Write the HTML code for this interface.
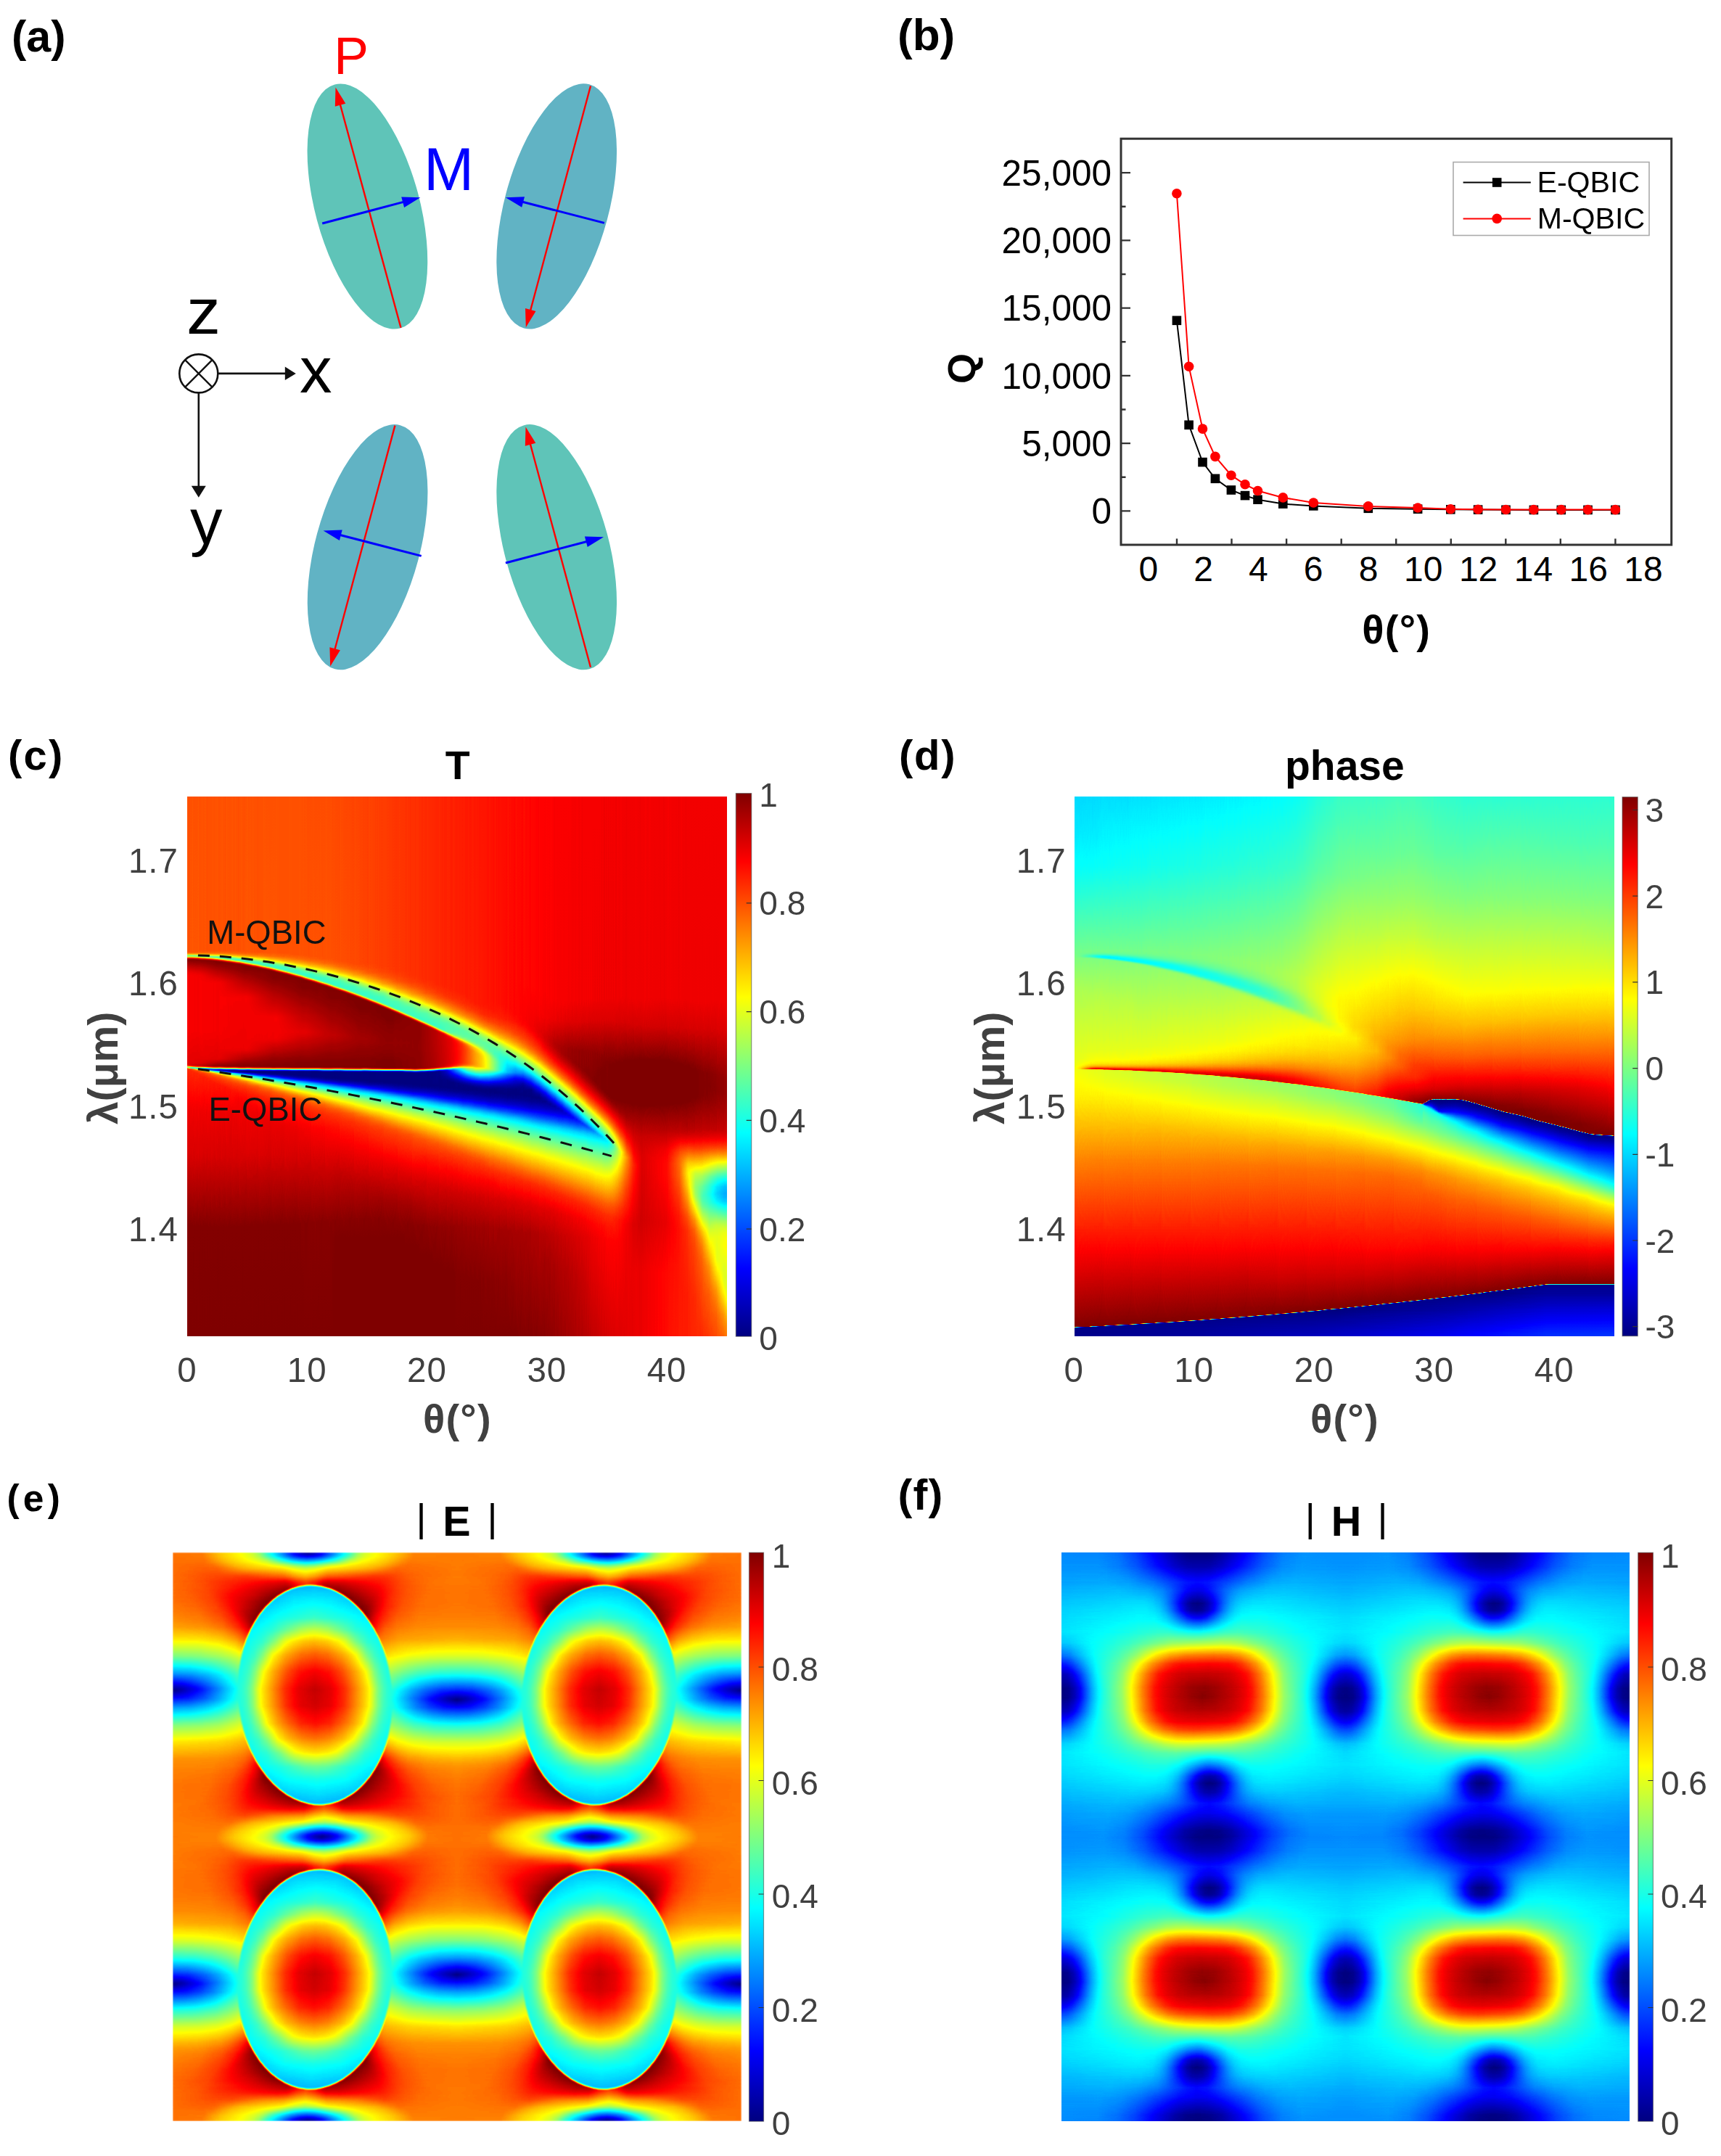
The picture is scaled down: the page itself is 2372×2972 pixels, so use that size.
<!DOCTYPE html><html><head><meta charset="utf-8"><title>Figure</title><style>html,body{margin:0;padding:0;background:#fff}svg{display:block}text{font-family:"Liberation Sans",Arial,sans-serif}</style></head><body><svg width="2372" height="2972" viewBox="0 0 2372 2972"><defs><linearGradient id="jet" x1="0" y1="1" x2="0" y2="0"><stop offset="0" stop-color="#000080"/><stop offset="0.125" stop-color="#0000ff"/><stop offset="0.375" stop-color="#00ffff"/><stop offset="0.625" stop-color="#ffff00"/><stop offset="0.875" stop-color="#ff0000"/><stop offset="1" stop-color="#800000"/></linearGradient><filter id="jf" x="0" y="0" width="1" height="1" filterUnits="objectBoundingBox" color-interpolation-filters="sRGB"><feGaussianBlur stdDeviation="0 %s"/><feComponentTransfer><feFuncR type="table" tableValues="0 0 0 0 .5 1 1 1 .5"/><feFuncG type="table" tableValues="0 0 .5 1 1 1 .5 0 0"/><feFuncB type="table" tableValues=".5 1 1 1 .5 0 0 0 0"/></feComponentTransfer></filter>
<filter id="jf" x="0" y="0" width="1" height="1" color-interpolation-filters="sRGB"><feComponentTransfer><feFuncR type="table" tableValues="0 0 0 0 .5 1 1 1 .5"/><feFuncG type="table" tableValues="0 0 .5 1 1 1 .5 0 0"/><feFuncB type="table" tableValues=".5 1 1 1 .5 0 0 0 0"/></feComponentTransfer></filter>
<filter id="jfb" x="0" y="0" width="1" height="1" color-interpolation-filters="sRGB"><feGaussianBlur stdDeviation=".9"/><feComponentTransfer><feFuncR type="table" tableValues="0 0 0 0 .5 1 1 1 .5"/><feFuncG type="table" tableValues="0 0 .5 1 1 1 .5 0 0"/><feFuncB type="table" tableValues=".5 1 1 1 .5 0 0 0 0"/></feComponentTransfer></filter>
<linearGradient id="vr" x2="0" y2="1"><stop offset="0" stop-color="#fff" stop-opacity="0"/><stop offset="1" stop-color="#fff"/></linearGradient><linearGradient id="vc"><stop offset="0" stop-color="#fff" stop-opacity="0"/><stop offset="1" stop-color="#fff"/></linearGradient><mask id="mkr" maskContentUnits="objectBoundingBox" x="0" y="0" width="1" height="1"><rect width="1" height="1" fill="url(#vr)"/></mask><mask id="mkc" maskContentUnits="objectBoundingBox" x="0" y="0" width="1" height="1"><rect width="1" height="1" fill="url(#vc)"/></mask>
<linearGradient id="eo0"><stop offset="0" stop-color="#c3c3c3"/><stop offset=".102" stop-color="#c1c1c1"/><stop offset=".168" stop-color="#adadad"/><stop offset=".25" stop-color="#9c9c9c"/><stop offset=".286" stop-color="#909090"/><stop offset=".304" stop-color="#858585"/><stop offset=".329" stop-color="#6e6e6e"/><stop offset=".375" stop-color="#494949"/><stop offset=".416" stop-color="#242424"/><stop offset=".449" stop-color="#0e0e0e"/><stop offset=".477" stop-color="#000000"/><stop offset=".505" stop-color="#0f0f0f"/><stop offset=".533" stop-color="#222222"/><stop offset=".579" stop-color="#4a4a4a"/><stop offset=".625" stop-color="#6f6f6f"/><stop offset=".653" stop-color="#888888"/><stop offset=".676" stop-color="#949494"/><stop offset=".709" stop-color="#9e9e9e"/><stop offset=".781" stop-color="#acacac"/><stop offset=".849" stop-color="#bfbfbf"/><stop offset="1" stop-color="#c1c1c1"/></linearGradient><linearGradient id="eo1"><stop offset="0" stop-color="#c3c3c3"/><stop offset=".105" stop-color="#c1c1c1"/><stop offset=".173" stop-color="#adadad"/><stop offset=".25" stop-color="#9e9e9e"/><stop offset=".283" stop-color="#959595"/><stop offset=".306" stop-color="#898989"/><stop offset=".339" stop-color="#6c6c6c"/><stop offset=".426" stop-color="#2a2a2a"/><stop offset=".452" stop-color="#1e1e1e"/><stop offset=".474" stop-color="#191919"/><stop offset=".497" stop-color="#1d1d1d"/><stop offset=".523" stop-color="#282828"/><stop offset=".615" stop-color="#6d6d6d"/><stop offset=".651" stop-color="#8c8c8c"/><stop offset=".679" stop-color="#989898"/><stop offset=".776" stop-color="#adadad"/><stop offset=".847" stop-color="#bfbfbf"/><stop offset="1" stop-color="#c0c0c0"/></linearGradient><linearGradient id="eo2"><stop offset="0" stop-color="#c3c3c3"/><stop offset=".115" stop-color="#c3c3c3"/><stop offset=".194" stop-color="#aeaeae"/><stop offset=".298" stop-color="#9b9b9b"/><stop offset=".334" stop-color="#8f8f8f"/><stop offset=".38" stop-color="#707070"/><stop offset=".418" stop-color="#5b5b5b"/><stop offset=".446" stop-color="#515151"/><stop offset=".469" stop-color="#4d4d4d"/><stop offset=".495" stop-color="#505050"/><stop offset=".52" stop-color="#585858"/><stop offset=".574" stop-color="#717171"/><stop offset=".622" stop-color="#919191"/><stop offset=".668" stop-color="#9f9f9f"/><stop offset=".753" stop-color="#aeaeae"/><stop offset=".809" stop-color="#bcbcbc"/><stop offset=".834" stop-color="#c1c1c1"/><stop offset="1" stop-color="#c0c0c0"/></linearGradient><linearGradient id="eo3"><stop offset="0" stop-color="#c4c4c4"/><stop offset=".102" stop-color="#c6c6c6"/><stop offset=".143" stop-color="#c4c4c4"/><stop offset=".222" stop-color="#b1b1b1"/><stop offset=".327" stop-color="#a3a3a3"/><stop offset=".38" stop-color="#989898"/><stop offset=".434" stop-color="#838383"/><stop offset=".467" stop-color="#7b7b7b"/><stop offset=".5" stop-color="#808080"/><stop offset=".546" stop-color="#939393"/><stop offset=".579" stop-color="#9b9b9b"/><stop offset=".63" stop-color="#a5a5a5"/><stop offset=".727" stop-color="#b1b1b1"/><stop offset=".801" stop-color="#c2c2c2"/><stop offset=".821" stop-color="#c4c4c4"/><stop offset="1" stop-color="#c0c0c0"/></linearGradient><linearGradient id="eo4"><stop offset="0" stop-color="#c4c4c4"/><stop offset=".112" stop-color="#c8c8c8"/><stop offset=".158" stop-color="#c7c7c7"/><stop offset=".253" stop-color="#b3b3b3"/><stop offset=".385" stop-color="#a6a6a6"/><stop offset=".431" stop-color="#999999"/><stop offset=".467" stop-color="#939393"/><stop offset=".5" stop-color="#989898"/><stop offset=".546" stop-color="#a5a5a5"/><stop offset=".696" stop-color="#b4b4b4"/><stop offset=".786" stop-color="#c6c6c6"/><stop offset="1" stop-color="#c1c1c1"/></linearGradient><linearGradient id="eo5"><stop offset="0" stop-color="#c4c4c4"/><stop offset=".151" stop-color="#cecece"/><stop offset=".26" stop-color="#d1d1d1"/><stop offset=".393" stop-color="#c6c6c6"/><stop offset=".436" stop-color="#b8b8b8"/><stop offset=".467" stop-color="#b2b2b2"/><stop offset=".5" stop-color="#b9b9b9"/><stop offset=".543" stop-color="#c8c8c8"/><stop offset=".707" stop-color="#d3d3d3"/><stop offset=".755" stop-color="#d2d2d2"/><stop offset=".824" stop-color="#c8c8c8"/><stop offset=".872" stop-color="#c5c5c5"/><stop offset="1" stop-color="#c1c1c1"/></linearGradient><linearGradient id="eo6"><stop offset="0" stop-color="#c4c4c4"/><stop offset=".074" stop-color="#c9c9c9"/><stop offset=".166" stop-color="#d3d3d3"/><stop offset=".395" stop-color="#e7e7e7"/><stop offset=".408" stop-color="#e4e4e4"/><stop offset=".439" stop-color="#d7d7d7"/><stop offset=".469" stop-color="#cfcfcf"/><stop offset=".5" stop-color="#d8d8d8"/><stop offset=".531" stop-color="#e8e8e8"/><stop offset=".546" stop-color="#eaeaea"/><stop offset=".592" stop-color="#e8e8e8"/><stop offset=".737" stop-color="#d9d9d9"/><stop offset=".809" stop-color="#cccccc"/><stop offset=".86" stop-color="#c6c6c6"/><stop offset=".921" stop-color="#c2c2c2"/><stop offset="1" stop-color="#c1c1c1"/></linearGradient><linearGradient id="eo7"><stop offset="0" stop-color="#c4c4c4"/><stop offset=".102" stop-color="#cbcbcb"/><stop offset=".401" stop-color="#f4f4f4"/><stop offset=".416" stop-color="#f0f0f0"/><stop offset=".449" stop-color="#dedede"/><stop offset=".472" stop-color="#d6d6d6"/><stop offset=".5" stop-color="#dfdfdf"/><stop offset=".533" stop-color="#f6f6f6"/><stop offset=".541" stop-color="#f8f8f8"/><stop offset=".584" stop-color="#f5f5f5"/><stop offset=".727" stop-color="#dfdfdf"/><stop offset=".793" stop-color="#cfcfcf"/><stop offset=".839" stop-color="#c9c9c9"/><stop offset=".908" stop-color="#c3c3c3"/><stop offset="1" stop-color="#c2c2c2"/></linearGradient><linearGradient id="eo8"><stop offset="0" stop-color="#c4c4c4"/><stop offset=".115" stop-color="#cdcdcd"/><stop offset=".401" stop-color="#fcfcfc"/><stop offset=".411" stop-color="#f7f7f7"/><stop offset=".441" stop-color="#e0e0e0"/><stop offset=".472" stop-color="#d4d4d4"/><stop offset=".5" stop-color="#dddddd"/><stop offset=".533" stop-color="#f1f1f1"/><stop offset=".571" stop-color="#fefefe"/><stop offset=".722" stop-color="#e3e3e3"/><stop offset=".783" stop-color="#d2d2d2"/><stop offset=".824" stop-color="#cacaca"/><stop offset=".895" stop-color="#c4c4c4"/><stop offset="1" stop-color="#c2c2c2"/></linearGradient><linearGradient id="eo9"><stop offset="0" stop-color="#c4c4c4"/><stop offset=".069" stop-color="#c8c8c8"/><stop offset=".128" stop-color="#cecece"/><stop offset=".202" stop-color="#dedede"/><stop offset=".286" stop-color="#ebebeb"/><stop offset=".375" stop-color="#ffffff"/><stop offset=".38" stop-color="#ffffff"/><stop offset=".411" stop-color="#f1f1f1"/><stop offset=".446" stop-color="#dbdbdb"/><stop offset=".474" stop-color="#d3d3d3"/><stop offset=".503" stop-color="#dadada"/><stop offset=".536" stop-color="#ececec"/><stop offset=".589" stop-color="#fefefe"/><stop offset=".602" stop-color="#ffffff"/><stop offset=".714" stop-color="#e7e7e7"/><stop offset=".773" stop-color="#d4d4d4"/><stop offset=".819" stop-color="#cbcbcb"/><stop offset=".89" stop-color="#c4c4c4"/><stop offset="1" stop-color="#c2c2c2"/></linearGradient><linearGradient id="eo10"><stop offset="0" stop-color="#c4c4c4"/><stop offset=".071" stop-color="#c8c8c8"/><stop offset=".135" stop-color="#cfcfcf"/><stop offset=".212" stop-color="#e1e1e1"/><stop offset=".286" stop-color="#efefef"/><stop offset=".349" stop-color="#ffffff"/><stop offset=".365" stop-color="#ffffff"/><stop offset=".413" stop-color="#ebebeb"/><stop offset=".446" stop-color="#d8d8d8"/><stop offset=".474" stop-color="#d0d0d0"/><stop offset=".503" stop-color="#d7d7d7"/><stop offset=".531" stop-color="#e4e4e4"/><stop offset=".571" stop-color="#f0f0f0"/><stop offset=".607" stop-color="#ffffff"/><stop offset=".625" stop-color="#ffffff"/><stop offset=".707" stop-color="#ececec"/><stop offset=".77" stop-color="#d4d4d4"/><stop offset=".814" stop-color="#cbcbcb"/><stop offset=".883" stop-color="#c4c4c4"/><stop offset="1" stop-color="#c2c2c2"/></linearGradient><linearGradient id="eo11"><stop offset="0" stop-color="#c3c3c3"/><stop offset=".077" stop-color="#c7c7c7"/><stop offset=".145" stop-color="#cfcfcf"/><stop offset=".329" stop-color="#ffffff"/><stop offset=".349" stop-color="#ffffff"/><stop offset=".446" stop-color="#d4d4d4"/><stop offset=".477" stop-color="#cdcdcd"/><stop offset=".503" stop-color="#d2d2d2"/><stop offset=".531" stop-color="#dddddd"/><stop offset=".577" stop-color="#eaeaea"/><stop offset=".625" stop-color="#ffffff"/><stop offset=".648" stop-color="#ffffff"/><stop offset=".699" stop-color="#f1f1f1"/><stop offset=".758" stop-color="#d7d7d7"/><stop offset=".809" stop-color="#cbcbcb"/><stop offset=".875" stop-color="#c4c4c4"/><stop offset="1" stop-color="#c2c2c2"/></linearGradient><linearGradient id="eo12"><stop offset="0" stop-color="#c1c1c1"/><stop offset=".084" stop-color="#c6c6c6"/><stop offset=".156" stop-color="#cfcfcf"/><stop offset=".316" stop-color="#ffffff"/><stop offset=".334" stop-color="#ffffff"/><stop offset=".388" stop-color="#e6e6e6"/><stop offset=".449" stop-color="#d0d0d0"/><stop offset=".477" stop-color="#cbcbcb"/><stop offset=".503" stop-color="#cfcfcf"/><stop offset=".579" stop-color="#e3e3e3"/><stop offset=".61" stop-color="#efefef"/><stop offset=".64" stop-color="#ffffff"/><stop offset=".666" stop-color="#ffffff"/><stop offset=".691" stop-color="#f7f7f7"/><stop offset=".747" stop-color="#dadada"/><stop offset=".804" stop-color="#cbcbcb"/><stop offset=".87" stop-color="#c4c4c4"/><stop offset="1" stop-color="#c1c1c1"/></linearGradient><linearGradient id="eo13"><stop offset="0" stop-color="#c0c0c0"/><stop offset=".092" stop-color="#c4c4c4"/><stop offset=".166" stop-color="#cfcfcf"/><stop offset=".199" stop-color="#d8d8d8"/><stop offset=".253" stop-color="#efefef"/><stop offset=".304" stop-color="#ffffff"/><stop offset=".319" stop-color="#ffffff"/><stop offset=".352" stop-color="#ececec"/><stop offset=".39" stop-color="#dddddd"/><stop offset=".452" stop-color="#cccccc"/><stop offset=".477" stop-color="#c8c8c8"/><stop offset=".503" stop-color="#cbcbcb"/><stop offset=".577" stop-color="#dadada"/><stop offset=".617" stop-color="#e9e9e9"/><stop offset=".658" stop-color="#ffffff"/><stop offset=".679" stop-color="#ffffff"/><stop offset=".735" stop-color="#dcdcdc"/><stop offset=".765" stop-color="#d1d1d1"/><stop offset=".796" stop-color="#cacaca"/><stop offset=".87" stop-color="#c2c2c2"/><stop offset="1" stop-color="#c1c1c1"/></linearGradient><linearGradient id="eo14"><stop offset="0" stop-color="#bebebe"/><stop offset=".097" stop-color="#c2c2c2"/><stop offset=".168" stop-color="#cccccc"/><stop offset=".212" stop-color="#d9d9d9"/><stop offset=".265" stop-color="#f4f4f4"/><stop offset=".296" stop-color="#ffffff"/><stop offset=".306" stop-color="#fefefe"/><stop offset=".342" stop-color="#e9e9e9"/><stop offset=".378" stop-color="#dadada"/><stop offset=".408" stop-color="#d2d2d2"/><stop offset=".469" stop-color="#c7c7c7"/><stop offset=".503" stop-color="#c8c8c8"/><stop offset=".584" stop-color="#d6d6d6"/><stop offset=".622" stop-color="#e4e4e4"/><stop offset=".671" stop-color="#fefefe"/><stop offset=".679" stop-color="#ffffff"/><stop offset=".681" stop-color="#ffffff"/><stop offset=".709" stop-color="#e8e8e8"/><stop offset=".724" stop-color="#dedede"/><stop offset=".758" stop-color="#d1d1d1"/><stop offset=".788" stop-color="#c9c9c9"/><stop offset=".867" stop-color="#c1c1c1"/><stop offset="1" stop-color="#c0c0c0"/></linearGradient><linearGradient id="eo15"><stop offset="0" stop-color="#bbbbbb"/><stop offset=".107" stop-color="#bfbfbf"/><stop offset=".176" stop-color="#c9c9c9"/><stop offset=".23" stop-color="#dbdbdb"/><stop offset=".288" stop-color="#ffffff"/><stop offset=".327" stop-color="#e7e7e7"/><stop offset=".362" stop-color="#d7d7d7"/><stop offset=".403" stop-color="#cccccc"/><stop offset=".457" stop-color="#c5c5c5"/><stop offset=".503" stop-color="#c5c5c5"/><stop offset=".574" stop-color="#cdcdcd"/><stop offset=".617" stop-color="#d8d8d8"/><stop offset=".663" stop-color="#ececec"/><stop offset=".686" stop-color="#efefef"/><stop offset=".694" stop-color="#eeeeee"/><stop offset=".712" stop-color="#e1e1e1"/><stop offset=".742" stop-color="#d1d1d1"/><stop offset=".788" stop-color="#c5c5c5"/><stop offset=".865" stop-color="#bfbfbf"/><stop offset="1" stop-color="#bebebe"/></linearGradient><linearGradient id="eo16"><stop offset="0" stop-color="#b6b6b6"/><stop offset=".115" stop-color="#bababa"/><stop offset=".176" stop-color="#c2c2c2"/><stop offset=".207" stop-color="#cbcbcb"/><stop offset=".237" stop-color="#d7d7d7"/><stop offset=".255" stop-color="#e2e2e2"/><stop offset=".278" stop-color="#f3f3f3"/><stop offset=".296" stop-color="#eeeeee"/><stop offset=".329" stop-color="#dcdcdc"/><stop offset=".357" stop-color="#d0d0d0"/><stop offset=".39" stop-color="#c8c8c8"/><stop offset=".426" stop-color="#c4c4c4"/><stop offset=".482" stop-color="#c2c2c2"/><stop offset=".561" stop-color="#c6c6c6"/><stop offset=".605" stop-color="#cdcdcd"/><stop offset=".656" stop-color="#dddddd"/><stop offset=".699" stop-color="#dfdfdf"/><stop offset=".707" stop-color="#dedede"/><stop offset=".727" stop-color="#d2d2d2"/><stop offset=".747" stop-color="#c9c9c9"/><stop offset=".791" stop-color="#c1c1c1"/><stop offset=".857" stop-color="#bdbdbd"/><stop offset="1" stop-color="#bcbcbc"/></linearGradient><linearGradient id="eo17"><stop offset="0" stop-color="#a3a3a3"/><stop offset=".099" stop-color="#a4a4a4"/><stop offset=".168" stop-color="#aaaaaa"/><stop offset=".219" stop-color="#b5b5b5"/><stop offset=".258" stop-color="#c7c7c7"/><stop offset=".281" stop-color="#cacaca"/><stop offset=".321" stop-color="#c9c9c9"/><stop offset=".372" stop-color="#c0c0c0"/><stop offset=".411" stop-color="#bebebe"/><stop offset=".579" stop-color="#c0c0c0"/><stop offset=".638" stop-color="#c6c6c6"/><stop offset=".676" stop-color="#c7c7c7"/><stop offset=".801" stop-color="#b6b6b6"/><stop offset="1" stop-color="#b2b2b2"/></linearGradient><linearGradient id="eo18"><stop offset="0" stop-color="#7d7d7d"/><stop offset=".087" stop-color="#7f7f7f"/><stop offset=".158" stop-color="#868686"/><stop offset=".202" stop-color="#8d8d8d"/><stop offset=".276" stop-color="#9f9f9f"/><stop offset=".393" stop-color="#b4b4b4"/><stop offset=".457" stop-color="#bbbbbb"/><stop offset=".602" stop-color="#bababa"/><stop offset=".645" stop-color="#b6b6b6"/><stop offset=".737" stop-color="#a6a6a6"/><stop offset=".834" stop-color="#9b9b9b"/><stop offset=".911" stop-color="#969696"/><stop offset="1" stop-color="#959595"/></linearGradient><linearGradient id="eo19"><stop offset="0" stop-color="#434343"/><stop offset=".064" stop-color="#464646"/><stop offset=".125" stop-color="#515151"/><stop offset=".168" stop-color="#5d5d5d"/><stop offset=".375" stop-color="#a4a4a4"/><stop offset=".436" stop-color="#b2b2b2"/><stop offset=".487" stop-color="#b8b8b8"/><stop offset=".546" stop-color="#b7b7b7"/><stop offset=".599" stop-color="#b0b0b0"/><stop offset=".814" stop-color="#787878"/><stop offset=".862" stop-color="#6e6e6e"/><stop offset=".926" stop-color="#676767"/><stop offset="1" stop-color="#656565"/></linearGradient><linearGradient id="eo20"><stop offset="0" stop-color="#090909"/><stop offset=".036" stop-color="#0f0f0f"/><stop offset=".094" stop-color="#232323"/><stop offset=".158" stop-color="#414141"/><stop offset=".23" stop-color="#656565"/><stop offset=".36" stop-color="#9b9b9b"/><stop offset=".434" stop-color="#aeaeae"/><stop offset=".495" stop-color="#b6b6b6"/><stop offset=".526" stop-color="#b5b5b5"/><stop offset=".559" stop-color="#b1b1b1"/><stop offset=".638" stop-color="#9e9e9e"/><stop offset=".768" stop-color="#6e6e6e"/><stop offset=".842" stop-color="#4f4f4f"/><stop offset=".893" stop-color="#3f3f3f"/><stop offset=".946" stop-color="#343434"/><stop offset="1" stop-color="#313131"/></linearGradient><linearGradient id="eo21"><stop offset="0" stop-color="#000000"/><stop offset=".099" stop-color="#242424"/><stop offset=".227" stop-color="#646464"/><stop offset=".357" stop-color="#9a9a9a"/><stop offset=".431" stop-color="#aeaeae"/><stop offset=".495" stop-color="#b6b6b6"/><stop offset=".551" stop-color="#b2b2b2"/><stop offset=".617" stop-color="#a3a3a3"/><stop offset=".653" stop-color="#989898"/><stop offset=".753" stop-color="#717171"/><stop offset=".842" stop-color="#4a4a4a"/><stop offset=".885" stop-color="#3b3b3b"/><stop offset=".944" stop-color="#2c2c2c"/><stop offset="1" stop-color="#282828"/></linearGradient><linearGradient id="eo22"><stop offset="0" stop-color="#222222"/><stop offset=".054" stop-color="#262626"/><stop offset=".11" stop-color="#353535"/><stop offset=".158" stop-color="#484848"/><stop offset=".237" stop-color="#6c6c6c"/><stop offset=".367" stop-color="#9e9e9e"/><stop offset=".441" stop-color="#b0b0b0"/><stop offset=".503" stop-color="#b6b6b6"/><stop offset=".566" stop-color="#aeaeae"/><stop offset=".64" stop-color="#9a9a9a"/><stop offset=".773" stop-color="#646464"/><stop offset=".842" stop-color="#404040"/><stop offset=".906" stop-color="#232323"/><stop offset=".967" stop-color="#0c0c0c"/><stop offset="1" stop-color="#060606"/></linearGradient><linearGradient id="eo23"><stop offset="0" stop-color="#282828"/><stop offset=".056" stop-color="#2c2c2c"/><stop offset=".115" stop-color="#3b3b3b"/><stop offset=".158" stop-color="#4a4a4a"/><stop offset=".247" stop-color="#717171"/><stop offset=".347" stop-color="#989898"/><stop offset=".383" stop-color="#a3a3a3"/><stop offset=".449" stop-color="#b2b2b2"/><stop offset=".505" stop-color="#b6b6b6"/><stop offset=".569" stop-color="#aeaeae"/><stop offset=".643" stop-color="#9a9a9a"/><stop offset=".773" stop-color="#646464"/><stop offset=".901" stop-color="#242424"/><stop offset="1" stop-color="#000000"/></linearGradient><linearGradient id="eo24"><stop offset="0" stop-color="#484848"/><stop offset=".064" stop-color="#4b4b4b"/><stop offset=".122" stop-color="#555555"/><stop offset=".171" stop-color="#616161"/><stop offset=".339" stop-color="#9a9a9a"/><stop offset=".388" stop-color="#a8a8a8"/><stop offset=".452" stop-color="#b4b4b4"/><stop offset=".508" stop-color="#b6b6b6"/><stop offset=".569" stop-color="#afafaf"/><stop offset=".64" stop-color="#9c9c9c"/><stop offset=".77" stop-color="#696969"/><stop offset=".855" stop-color="#424242"/><stop offset=".906" stop-color="#303030"/><stop offset=".954" stop-color="#252525"/><stop offset="1" stop-color="#222222"/></linearGradient><linearGradient id="eo25"><stop offset="0" stop-color="#818181"/><stop offset=".089" stop-color="#838383"/><stop offset=".161" stop-color="#898989"/><stop offset=".411" stop-color="#b7b7b7"/><stop offset=".446" stop-color="#bababa"/><stop offset=".528" stop-color="#b9b9b9"/><stop offset=".566" stop-color="#b6b6b6"/><stop offset=".607" stop-color="#afafaf"/><stop offset=".849" stop-color="#717171"/><stop offset=".921" stop-color="#686868"/><stop offset="1" stop-color="#656565"/></linearGradient><linearGradient id="eo26"><stop offset="0" stop-color="#a6a6a6"/><stop offset=".173" stop-color="#ababab"/><stop offset=".242" stop-color="#b1b1b1"/><stop offset=".347" stop-color="#bfbfbf"/><stop offset=".523" stop-color="#bebebe"/><stop offset=".699" stop-color="#b7b7b7"/><stop offset=".75" stop-color="#afafaf"/><stop offset=".791" stop-color="#a3a3a3"/><stop offset=".842" stop-color="#9b9b9b"/><stop offset=".908" stop-color="#969696"/><stop offset="1" stop-color="#959595"/></linearGradient><linearGradient id="eo27"><stop offset="0" stop-color="#bbbbbb"/><stop offset=".151" stop-color="#bcbcbc"/><stop offset=".204" stop-color="#bfbfbf"/><stop offset=".25" stop-color="#c5c5c5"/><stop offset=".27" stop-color="#cccccc"/><stop offset=".291" stop-color="#d7d7d7"/><stop offset=".309" stop-color="#d8d8d8"/><stop offset=".349" stop-color="#d7d7d7"/><stop offset=".398" stop-color="#cacaca"/><stop offset=".439" stop-color="#c4c4c4"/><stop offset=".518" stop-color="#c1c1c1"/><stop offset=".579" stop-color="#c2c2c2"/><stop offset=".638" stop-color="#cbcbcb"/><stop offset=".663" stop-color="#d3d3d3"/><stop offset=".702" stop-color="#e5e5e5"/><stop offset=".727" stop-color="#e9e9e9"/><stop offset=".73" stop-color="#e9e9e9"/><stop offset=".753" stop-color="#d8d8d8"/><stop offset=".776" stop-color="#cdcdcd"/><stop offset=".801" stop-color="#c3c3c3"/><stop offset=".829" stop-color="#bcbcbc"/><stop offset=".898" stop-color="#b5b5b5"/><stop offset="1" stop-color="#b2b2b2"/></linearGradient><linearGradient id="eo28"><stop offset="0" stop-color="#bdbdbd"/><stop offset=".14" stop-color="#bebebe"/><stop offset=".214" stop-color="#c3c3c3"/><stop offset=".237" stop-color="#c7c7c7"/><stop offset=".26" stop-color="#cfcfcf"/><stop offset=".301" stop-color="#e5e5e5"/><stop offset=".321" stop-color="#e7e7e7"/><stop offset=".344" stop-color="#e4e4e4"/><stop offset=".39" stop-color="#d2d2d2"/><stop offset=".431" stop-color="#c9c9c9"/><stop offset=".5" stop-color="#c3c3c3"/><stop offset=".551" stop-color="#c4c4c4"/><stop offset=".599" stop-color="#c9c9c9"/><stop offset=".64" stop-color="#d3d3d3"/><stop offset=".673" stop-color="#e1e1e1"/><stop offset=".719" stop-color="#fbfbfb"/><stop offset=".745" stop-color="#e7e7e7"/><stop offset=".765" stop-color="#dadada"/><stop offset=".793" stop-color="#cfcfcf"/><stop offset=".824" stop-color="#c6c6c6"/><stop offset=".888" stop-color="#bdbdbd"/><stop offset="1" stop-color="#b9b9b9"/></linearGradient><linearGradient id="eo29"><stop offset="0" stop-color="#bfbfbf"/><stop offset=".135" stop-color="#c0c0c0"/><stop offset=".214" stop-color="#c7c7c7"/><stop offset=".245" stop-color="#cfcfcf"/><stop offset=".276" stop-color="#dbdbdb"/><stop offset=".293" stop-color="#e6e6e6"/><stop offset=".316" stop-color="#f9f9f9"/><stop offset=".334" stop-color="#f5f5f5"/><stop offset=".38" stop-color="#dedede"/><stop offset=".423" stop-color="#d1d1d1"/><stop offset=".5" stop-color="#c6c6c6"/><stop offset=".541" stop-color="#c6c6c6"/><stop offset=".594" stop-color="#cfcfcf"/><stop offset=".63" stop-color="#d8d8d8"/><stop offset=".668" stop-color="#e8e8e8"/><stop offset=".704" stop-color="#ffffff"/><stop offset=".712" stop-color="#ffffff"/><stop offset=".73" stop-color="#f7f7f7"/><stop offset=".781" stop-color="#dadada"/><stop offset=".829" stop-color="#cbcbcb"/><stop offset=".898" stop-color="#c1c1c1"/><stop offset="1" stop-color="#bdbdbd"/></linearGradient><linearGradient id="eo30"><stop offset="0" stop-color="#c0c0c0"/><stop offset=".133" stop-color="#c2c2c2"/><stop offset=".209" stop-color="#c9c9c9"/><stop offset=".24" stop-color="#d1d1d1"/><stop offset=".273" stop-color="#dedede"/><stop offset=".291" stop-color="#e8e8e8"/><stop offset=".321" stop-color="#ffffff"/><stop offset=".337" stop-color="#ffffff"/><stop offset=".378" stop-color="#e8e8e8"/><stop offset=".421" stop-color="#d8d8d8"/><stop offset=".497" stop-color="#c9c9c9"/><stop offset=".528" stop-color="#c7c7c7"/><stop offset=".551" stop-color="#cbcbcb"/><stop offset=".615" stop-color="#dbdbdb"/><stop offset=".653" stop-color="#eaeaea"/><stop offset=".689" stop-color="#fefefe"/><stop offset=".704" stop-color="#ffffff"/><stop offset=".742" stop-color="#f1f1f1"/><stop offset=".796" stop-color="#d8d8d8"/><stop offset=".834" stop-color="#cecece"/><stop offset=".906" stop-color="#c3c3c3"/><stop offset="1" stop-color="#bfbfbf"/></linearGradient><linearGradient id="eo31"><stop offset="0" stop-color="#c1c1c1"/><stop offset=".13" stop-color="#c3c3c3"/><stop offset=".202" stop-color="#cacaca"/><stop offset=".26" stop-color="#dbdbdb"/><stop offset=".314" stop-color="#f9f9f9"/><stop offset=".329" stop-color="#ffffff"/><stop offset=".355" stop-color="#fefefe"/><stop offset=".39" stop-color="#ebebeb"/><stop offset=".431" stop-color="#dddddd"/><stop offset=".5" stop-color="#cdcdcd"/><stop offset=".526" stop-color="#cacaca"/><stop offset=".551" stop-color="#cecece"/><stop offset=".617" stop-color="#e3e3e3"/><stop offset=".645" stop-color="#efefef"/><stop offset=".673" stop-color="#ffffff"/><stop offset=".691" stop-color="#ffffff"/><stop offset=".758" stop-color="#ebebeb"/><stop offset=".811" stop-color="#d7d7d7"/><stop offset=".839" stop-color="#d0d0d0"/><stop offset=".913" stop-color="#c5c5c5"/><stop offset="1" stop-color="#c1c1c1"/></linearGradient><linearGradient id="eo32"><stop offset="0" stop-color="#c2c2c2"/><stop offset=".13" stop-color="#c4c4c4"/><stop offset=".194" stop-color="#cbcbcb"/><stop offset=".247" stop-color="#d8d8d8"/><stop offset=".306" stop-color="#f3f3f3"/><stop offset=".347" stop-color="#ffffff"/><stop offset=".367" stop-color="#ffffff"/><stop offset=".395" stop-color="#f1f1f1"/><stop offset=".426" stop-color="#e5e5e5"/><stop offset=".472" stop-color="#dadada"/><stop offset=".5" stop-color="#d0d0d0"/><stop offset=".526" stop-color="#cccccc"/><stop offset=".556" stop-color="#d3d3d3"/><stop offset=".582" stop-color="#dedede"/><stop offset=".625" stop-color="#eeeeee"/><stop offset=".661" stop-color="#ffffff"/><stop offset=".679" stop-color="#ffffff"/><stop offset=".849" stop-color="#d0d0d0"/><stop offset=".918" stop-color="#c7c7c7"/><stop offset="1" stop-color="#c2c2c2"/></linearGradient><linearGradient id="eo33"><stop offset="0" stop-color="#c2c2c2"/><stop offset=".122" stop-color="#c4c4c4"/><stop offset=".189" stop-color="#cbcbcb"/><stop offset=".237" stop-color="#d6d6d6"/><stop offset=".298" stop-color="#eeeeee"/><stop offset=".365" stop-color="#ffffff"/><stop offset=".385" stop-color="#ffffff"/><stop offset=".429" stop-color="#ececec"/><stop offset=".469" stop-color="#e1e1e1"/><stop offset=".5" stop-color="#d4d4d4"/><stop offset=".526" stop-color="#cfcfcf"/><stop offset=".556" stop-color="#d6d6d6"/><stop offset=".584" stop-color="#e5e5e5"/><stop offset=".643" stop-color="#fefefe"/><stop offset=".661" stop-color="#ffffff"/><stop offset=".86" stop-color="#cfcfcf"/><stop offset=".926" stop-color="#c7c7c7"/><stop offset="1" stop-color="#c3c3c3"/></linearGradient><linearGradient id="eo34"><stop offset="0" stop-color="#c2c2c2"/><stop offset=".117" stop-color="#c4c4c4"/><stop offset=".186" stop-color="#cbcbcb"/><stop offset=".232" stop-color="#d5d5d5"/><stop offset=".293" stop-color="#eaeaea"/><stop offset=".385" stop-color="#ffffff"/><stop offset=".401" stop-color="#ffffff"/><stop offset=".431" stop-color="#f2f2f2"/><stop offset=".469" stop-color="#e7e7e7"/><stop offset=".5" stop-color="#d7d7d7"/><stop offset=".528" stop-color="#d1d1d1"/><stop offset=".556" stop-color="#d9d9d9"/><stop offset=".589" stop-color="#ededed"/><stop offset=".63" stop-color="#ffffff"/><stop offset=".643" stop-color="#ffffff"/><stop offset=".714" stop-color="#ededed"/><stop offset=".793" stop-color="#dfdfdf"/><stop offset=".867" stop-color="#cfcfcf"/><stop offset=".929" stop-color="#c8c8c8"/><stop offset="1" stop-color="#c4c4c4"/></linearGradient><linearGradient id="eo35"><stop offset="0" stop-color="#c2c2c2"/><stop offset=".11" stop-color="#c4c4c4"/><stop offset=".181" stop-color="#cbcbcb"/><stop offset=".224" stop-color="#d3d3d3"/><stop offset=".283" stop-color="#e5e5e5"/><stop offset=".411" stop-color="#ffffff"/><stop offset=".418" stop-color="#fefefe"/><stop offset=".464" stop-color="#efefef"/><stop offset=".5" stop-color="#dbdbdb"/><stop offset=".528" stop-color="#d3d3d3"/><stop offset=".559" stop-color="#dddddd"/><stop offset=".592" stop-color="#f4f4f4"/><stop offset=".617" stop-color="#fefefe"/><stop offset=".717" stop-color="#eaeaea"/><stop offset=".806" stop-color="#dcdcdc"/><stop offset=".878" stop-color="#cecece"/><stop offset="1" stop-color="#c4c4c4"/></linearGradient><linearGradient id="eo36"><stop offset="0" stop-color="#c2c2c2"/><stop offset=".102" stop-color="#c3c3c3"/><stop offset=".173" stop-color="#cacaca"/><stop offset=".214" stop-color="#d1d1d1"/><stop offset=".278" stop-color="#e1e1e1"/><stop offset=".441" stop-color="#fcfcfc"/><stop offset=".467" stop-color="#f3f3f3"/><stop offset=".5" stop-color="#dedede"/><stop offset=".528" stop-color="#d5d5d5"/><stop offset=".559" stop-color="#dfdfdf"/><stop offset=".589" stop-color="#f7f7f7"/><stop offset=".599" stop-color="#f8f8f8"/><stop offset=".89" stop-color="#cccccc"/><stop offset="1" stop-color="#c4c4c4"/></linearGradient><linearGradient id="eo37"><stop offset="0" stop-color="#c1c1c1"/><stop offset=".089" stop-color="#c3c3c3"/><stop offset=".156" stop-color="#c8c8c8"/><stop offset=".204" stop-color="#cecece"/><stop offset=".27" stop-color="#dddddd"/><stop offset=".413" stop-color="#f0f0f0"/><stop offset=".459" stop-color="#f4f4f4"/><stop offset=".472" stop-color="#f1f1f1"/><stop offset=".503" stop-color="#dfdfdf"/><stop offset=".531" stop-color="#d5d5d5"/><stop offset=".561" stop-color="#dfdfdf"/><stop offset=".589" stop-color="#ededed"/><stop offset=".605" stop-color="#efefef"/><stop offset=".827" stop-color="#d6d6d6"/><stop offset=".908" stop-color="#cacaca"/><stop offset="1" stop-color="#c4c4c4"/></linearGradient><linearGradient id="eo38"><stop offset="0" stop-color="#c1c1c1"/><stop offset=".133" stop-color="#c5c5c5"/><stop offset=".189" stop-color="#cbcbcb"/><stop offset=".26" stop-color="#d7d7d7"/><stop offset=".413" stop-color="#e1e1e1"/><stop offset=".464" stop-color="#dfdfdf"/><stop offset=".5" stop-color="#cfcfcf"/><stop offset=".533" stop-color="#c5c5c5"/><stop offset=".564" stop-color="#cdcdcd"/><stop offset=".599" stop-color="#dcdcdc"/><stop offset=".633" stop-color="#dedede"/><stop offset=".837" stop-color="#d2d2d2"/><stop offset=".929" stop-color="#c8c8c8"/><stop offset="1" stop-color="#c4c4c4"/></linearGradient><linearGradient id="eo39"><stop offset="0" stop-color="#c1c1c1"/><stop offset=".135" stop-color="#c4c4c4"/><stop offset=".255" stop-color="#cecece"/><stop offset=".36" stop-color="#c0c0c0"/><stop offset=".459" stop-color="#bbbbbb"/><stop offset=".5" stop-color="#aeaeae"/><stop offset=".533" stop-color="#a7a7a7"/><stop offset=".566" stop-color="#adadad"/><stop offset=".61" stop-color="#b9b9b9"/><stop offset=".691" stop-color="#bebebe"/><stop offset=".791" stop-color="#cccccc"/><stop offset=".862" stop-color="#cccccc"/><stop offset="1" stop-color="#c4c4c4"/></linearGradient><linearGradient id="eo40"><stop offset="0" stop-color="#c0c0c0"/><stop offset=".207" stop-color="#c4c4c4"/><stop offset=".288" stop-color="#b3b3b3"/><stop offset=".454" stop-color="#9e9e9e"/><stop offset=".503" stop-color="#909090"/><stop offset=".536" stop-color="#8b8b8b"/><stop offset=".571" stop-color="#929292"/><stop offset=".617" stop-color="#a0a0a0"/><stop offset=".763" stop-color="#b1b1b1"/><stop offset=".852" stop-color="#c6c6c6"/><stop offset=".893" stop-color="#c7c7c7"/><stop offset="1" stop-color="#c4c4c4"/></linearGradient><linearGradient id="eo41"><stop offset="0" stop-color="#c0c0c0"/><stop offset=".171" stop-color="#c2c2c2"/><stop offset=".196" stop-color="#c0c0c0"/><stop offset=".26" stop-color="#b1b1b1"/><stop offset=".352" stop-color="#a3a3a3"/><stop offset=".395" stop-color="#9a9a9a"/><stop offset=".421" stop-color="#929292"/><stop offset=".492" stop-color="#717171"/><stop offset=".513" stop-color="#6c6c6c"/><stop offset=".536" stop-color="#6a6a6a"/><stop offset=".574" stop-color="#747474"/><stop offset=".62" stop-color="#8d8d8d"/><stop offset=".643" stop-color="#969696"/><stop offset=".694" stop-color="#a1a1a1"/><stop offset=".791" stop-color="#b0b0b0"/><stop offset=".862" stop-color="#c3c3c3"/><stop offset=".898" stop-color="#c5c5c5"/><stop offset="1" stop-color="#c3c3c3"/></linearGradient><linearGradient id="eo42"><stop offset="0" stop-color="#c0c0c0"/><stop offset=".161" stop-color="#c0c0c0"/><stop offset=".237" stop-color="#adadad"/><stop offset=".327" stop-color="#9c9c9c"/><stop offset=".362" stop-color="#909090"/><stop offset=".413" stop-color="#696969"/><stop offset=".482" stop-color="#424242"/><stop offset=".505" stop-color="#393939"/><stop offset=".528" stop-color="#363636"/><stop offset=".551" stop-color="#3a3a3a"/><stop offset=".579" stop-color="#464646"/><stop offset=".643" stop-color="#6d6d6d"/><stop offset=".684" stop-color="#8d8d8d"/><stop offset=".712" stop-color="#989898"/><stop offset=".819" stop-color="#aeaeae"/><stop offset=".89" stop-color="#c2c2c2"/><stop offset="1" stop-color="#c3c3c3"/></linearGradient><linearGradient id="eo43"><stop offset="0" stop-color="#c0c0c0"/><stop offset=".153" stop-color="#bfbfbf"/><stop offset=".224" stop-color="#acacac"/><stop offset=".293" stop-color="#9f9f9f"/><stop offset=".324" stop-color="#969696"/><stop offset=".349" stop-color="#8a8a8a"/><stop offset=".38" stop-color="#6e6e6e"/><stop offset=".426" stop-color="#4b4b4b"/><stop offset=".472" stop-color="#242424"/><stop offset=".503" stop-color="#131313"/><stop offset=".526" stop-color="#0e0e0e"/><stop offset=".548" stop-color="#131313"/><stop offset=".579" stop-color="#242424"/><stop offset=".625" stop-color="#4c4c4c"/><stop offset=".668" stop-color="#6d6d6d"/><stop offset=".696" stop-color="#878787"/><stop offset=".717" stop-color="#939393"/><stop offset=".75" stop-color="#9d9d9d"/><stop offset=".832" stop-color="#adadad"/><stop offset=".898" stop-color="#c1c1c1"/><stop offset="1" stop-color="#c3c3c3"/></linearGradient><linearGradient id="eo44"><stop offset="0" stop-color="#c1c1c1"/><stop offset=".153" stop-color="#bfbfbf"/><stop offset=".222" stop-color="#acacac"/><stop offset=".293" stop-color="#9e9e9e"/><stop offset=".324" stop-color="#959595"/><stop offset=".339" stop-color="#8f8f8f"/><stop offset=".349" stop-color="#888888"/><stop offset=".378" stop-color="#6e6e6e"/><stop offset=".421" stop-color="#4b4b4b"/><stop offset=".472" stop-color="#1f1f1f"/><stop offset=".503" stop-color="#0b0b0b"/><stop offset=".526" stop-color="#010101"/><stop offset=".554" stop-color="#0f0f0f"/><stop offset=".584" stop-color="#232323"/><stop offset=".625" stop-color="#484848"/><stop offset=".671" stop-color="#6d6d6d"/><stop offset=".699" stop-color="#878787"/><stop offset=".717" stop-color="#919191"/><stop offset=".753" stop-color="#9c9c9c"/><stop offset=".832" stop-color="#acacac"/><stop offset=".898" stop-color="#c1c1c1"/><stop offset=".934" stop-color="#c3c3c3"/><stop offset="1" stop-color="#c3c3c3"/></linearGradient>
<linearGradient id="ei0"><stop offset="0" stop-color="#4c4c4c"/><stop offset=".222" stop-color="#494949"/><stop offset=".507" stop-color="#4c4c4c"/><stop offset=".76" stop-color="#4b4b4b"/><stop offset="1" stop-color="#4d4d4d"/></linearGradient><linearGradient id="ei1"><stop offset="0" stop-color="#4d4d4d"/><stop offset=".059" stop-color="#4c4c4c"/><stop offset=".231" stop-color="#525252"/><stop offset=".371" stop-color="#5b5b5b"/><stop offset=".484" stop-color="#5d5d5d"/><stop offset=".597" stop-color="#5b5b5b"/><stop offset=".719" stop-color="#545454"/><stop offset=".923" stop-color="#4d4d4d"/><stop offset="1" stop-color="#4e4e4e"/></linearGradient><linearGradient id="ei2"><stop offset="0" stop-color="#505050"/><stop offset=".136" stop-color="#585858"/><stop offset=".267" stop-color="#636363"/><stop offset=".493" stop-color="#6e6e6e"/><stop offset=".71" stop-color="#646464"/><stop offset="1" stop-color="#515151"/></linearGradient><linearGradient id="ei3"><stop offset="0" stop-color="#555555"/><stop offset=".231" stop-color="#6a6a6a"/><stop offset=".412" stop-color="#8b8b8b"/><stop offset=".452" stop-color="#8f8f8f"/><stop offset=".493" stop-color="#919191"/><stop offset=".534" stop-color="#8f8f8f"/><stop offset=".575" stop-color="#8b8b8b"/><stop offset=".756" stop-color="#6a6a6a"/><stop offset="1" stop-color="#555555"/></linearGradient><linearGradient id="ei4"><stop offset="0" stop-color="#595959"/><stop offset=".172" stop-color="#6c6c6c"/><stop offset=".244" stop-color="#818181"/><stop offset=".312" stop-color="#9b9b9b"/><stop offset=".357" stop-color="#a5a5a5"/><stop offset=".425" stop-color="#aeaeae"/><stop offset=".493" stop-color="#b1b1b1"/><stop offset=".575" stop-color="#adadad"/><stop offset=".652" stop-color="#a1a1a1"/><stop offset=".683" stop-color="#999999"/><stop offset=".751" stop-color="#7f7f7f"/><stop offset=".824" stop-color="#6b6b6b"/><stop offset="1" stop-color="#595959"/></linearGradient><linearGradient id="ei5"><stop offset="0" stop-color="#5f5f5f"/><stop offset=".086" stop-color="#686868"/><stop offset=".122" stop-color="#6e6e6e"/><stop offset=".172" stop-color="#808080"/><stop offset=".235" stop-color="#a0a0a0"/><stop offset=".312" stop-color="#b5b5b5"/><stop offset=".412" stop-color="#c5c5c5"/><stop offset=".498" stop-color="#cacaca"/><stop offset=".579" stop-color="#c5c5c5"/><stop offset=".679" stop-color="#b5b5b5"/><stop offset=".724" stop-color="#aaaaaa"/><stop offset=".76" stop-color="#9e9e9e"/><stop offset=".819" stop-color="#808080"/><stop offset=".869" stop-color="#6f6f6f"/><stop offset=".905" stop-color="#686868"/><stop offset="1" stop-color="#5e5e5e"/></linearGradient><linearGradient id="ei6"><stop offset="0" stop-color="#636363"/><stop offset=".059" stop-color="#6a6a6a"/><stop offset=".086" stop-color="#707070"/><stop offset=".127" stop-color="#818181"/><stop offset=".172" stop-color="#9c9c9c"/><stop offset=".195" stop-color="#a6a6a6"/><stop offset=".24" stop-color="#b5b5b5"/><stop offset=".326" stop-color="#cdcdcd"/><stop offset=".403" stop-color="#dcdcdc"/><stop offset=".498" stop-color="#e2e2e2"/><stop offset=".588" stop-color="#dcdcdc"/><stop offset=".665" stop-color="#cecece"/><stop offset=".751" stop-color="#b6b6b6"/><stop offset=".801" stop-color="#a6a6a6"/><stop offset=".824" stop-color="#9c9c9c"/><stop offset=".869" stop-color="#808080"/><stop offset=".91" stop-color="#707070"/><stop offset=".941" stop-color="#696969"/><stop offset="1" stop-color="#636363"/></linearGradient><linearGradient id="ei7"><stop offset="0" stop-color="#656565"/><stop offset=".045" stop-color="#6b6b6b"/><stop offset=".072" stop-color="#727272"/><stop offset=".109" stop-color="#828282"/><stop offset=".149" stop-color="#9c9c9c"/><stop offset=".172" stop-color="#a6a6a6"/><stop offset=".312" stop-color="#d5d5d5"/><stop offset=".398" stop-color="#e6e6e6"/><stop offset=".498" stop-color="#eeeeee"/><stop offset=".597" stop-color="#e6e6e6"/><stop offset=".683" stop-color="#d5d5d5"/><stop offset=".824" stop-color="#a7a7a7"/><stop offset=".846" stop-color="#9d9d9d"/><stop offset=".891" stop-color="#808080"/><stop offset=".928" stop-color="#717171"/><stop offset=".955" stop-color="#6a6a6a"/><stop offset="1" stop-color="#656565"/></linearGradient><linearGradient id="ei8"><stop offset="0" stop-color="#656565"/><stop offset=".05" stop-color="#6a6a6a"/><stop offset=".077" stop-color="#717171"/><stop offset=".113" stop-color="#818181"/><stop offset=".154" stop-color="#9b9b9b"/><stop offset=".181" stop-color="#a7a7a7"/><stop offset=".321" stop-color="#d4d4d4"/><stop offset=".362" stop-color="#dddddd"/><stop offset=".412" stop-color="#e5e5e5"/><stop offset=".502" stop-color="#eaeaea"/><stop offset=".593" stop-color="#e4e4e4"/><stop offset=".679" stop-color="#d4d4d4"/><stop offset=".819" stop-color="#a7a7a7"/><stop offset=".846" stop-color="#9b9b9b"/><stop offset=".887" stop-color="#818181"/><stop offset=".923" stop-color="#717171"/><stop offset=".95" stop-color="#6a6a6a"/><stop offset="1" stop-color="#646464"/></linearGradient><linearGradient id="ei9"><stop offset="0" stop-color="#626262"/><stop offset=".068" stop-color="#696969"/><stop offset=".1" stop-color="#6f6f6f"/><stop offset=".145" stop-color="#808080"/><stop offset=".19" stop-color="#9a9a9a"/><stop offset=".213" stop-color="#a4a4a4"/><stop offset=".258" stop-color="#b3b3b3"/><stop offset=".321" stop-color="#c3c3c3"/><stop offset=".412" stop-color="#d5d5d5"/><stop offset=".502" stop-color="#dbdbdb"/><stop offset=".593" stop-color="#d5d5d5"/><stop offset=".688" stop-color="#c2c2c2"/><stop offset=".747" stop-color="#b3b3b3"/><stop offset=".792" stop-color="#a4a4a4"/><stop offset=".814" stop-color="#9a9a9a"/><stop offset=".855" stop-color="#828282"/><stop offset=".9" stop-color="#707070"/><stop offset=".932" stop-color="#696969"/><stop offset="1" stop-color="#616161"/></linearGradient><linearGradient id="ei10"><stop offset="0" stop-color="#5d5d5d"/><stop offset=".109" stop-color="#686868"/><stop offset=".145" stop-color="#6e6e6e"/><stop offset=".204" stop-color="#818181"/><stop offset=".267" stop-color="#9f9f9f"/><stop offset=".335" stop-color="#b0b0b0"/><stop offset=".421" stop-color="#bdbdbd"/><stop offset=".502" stop-color="#c1c1c1"/><stop offset=".588" stop-color="#bcbcbc"/><stop offset=".674" stop-color="#afafaf"/><stop offset=".742" stop-color="#9d9d9d"/><stop offset=".805" stop-color="#808080"/><stop offset=".86" stop-color="#6e6e6e"/><stop offset=".896" stop-color="#676767"/><stop offset="1" stop-color="#5d5d5d"/></linearGradient><linearGradient id="ei11"><stop offset="0" stop-color="#585858"/><stop offset=".199" stop-color="#6b6b6b"/><stop offset=".281" stop-color="#7f7f7f"/><stop offset=".344" stop-color="#949494"/><stop offset=".38" stop-color="#9d9d9d"/><stop offset=".439" stop-color="#a4a4a4"/><stop offset=".502" stop-color="#a7a7a7"/><stop offset=".57" stop-color="#a4a4a4"/><stop offset=".629" stop-color="#9d9d9d"/><stop offset=".661" stop-color="#959595"/><stop offset=".729" stop-color="#7f7f7f"/><stop offset=".81" stop-color="#6b6b6b"/><stop offset="1" stop-color="#585858"/></linearGradient><linearGradient id="ei12"><stop offset="0" stop-color="#535353"/><stop offset=".294" stop-color="#696969"/><stop offset=".434" stop-color="#787878"/><stop offset=".507" stop-color="#7b7b7b"/><stop offset=".579" stop-color="#787878"/><stop offset=".71" stop-color="#696969"/><stop offset="1" stop-color="#525252"/></linearGradient><linearGradient id="ei13"><stop offset="0" stop-color="#4f4f4f"/><stop offset=".208" stop-color="#595959"/><stop offset=".339" stop-color="#626262"/><stop offset=".511" stop-color="#666666"/><stop offset=".683" stop-color="#626262"/><stop offset=".833" stop-color="#565656"/><stop offset="1" stop-color="#4e4e4e"/></linearGradient><linearGradient id="ei14"><stop offset="0" stop-color="#4e4e4e"/><stop offset=".127" stop-color="#4d4d4d"/><stop offset=".516" stop-color="#565656"/><stop offset=".891" stop-color="#4b4b4b"/><stop offset="1" stop-color="#4c4c4c"/></linearGradient><linearGradient id="ei15"><stop offset="0" stop-color="#4d4d4d"/><stop offset=".249" stop-color="#4a4a4a"/><stop offset=".493" stop-color="#4c4c4c"/><stop offset=".769" stop-color="#494949"/><stop offset="1" stop-color="#4c4c4c"/></linearGradient>
<clipPath id="cpE"><ellipse cx="196.3" cy="196.5" rx="106.0" ry="151.5" transform="rotate(-4.50 196.3 196.5)"/></clipPath>
<g id="cE"><g class="w392"><rect y="0" width="392" height="5" fill="url(#eo0)"/><rect y="0" width="392" height="5" fill="url(#eo1)" mask="url(#mkr)"/><rect y="5" width="392" height="7" fill="url(#eo1)"/><rect y="5" width="392" height="7" fill="url(#eo2)" mask="url(#mkr)"/><rect y="12" width="392" height="6" fill="url(#eo2)"/><rect y="12" width="392" height="6" fill="url(#eo3)" mask="url(#mkr)"/><rect y="18" width="392" height="4" fill="url(#eo3)"/><rect y="18" width="392" height="4" fill="url(#eo4)" mask="url(#mkr)"/><rect y="22" width="392" height="11" fill="url(#eo4)"/><rect y="22" width="392" height="11" fill="url(#eo5)" mask="url(#mkr)"/><rect y="33" width="392" height="8" fill="url(#eo5)"/><rect y="33" width="392" height="8" fill="url(#eo6)" mask="url(#mkr)"/><rect y="41" width="392" height="7" fill="url(#eo6)"/><rect y="41" width="392" height="7" fill="url(#eo7)" mask="url(#mkr)"/><rect y="48" width="392" height="5" fill="url(#eo7)"/><rect y="48" width="392" height="5" fill="url(#eo8)" mask="url(#mkr)"/><rect y="53" width="392" height="5" fill="url(#eo8)"/><rect y="53" width="392" height="5" fill="url(#eo9)" mask="url(#mkr)"/><rect y="58" width="392" height="5" fill="url(#eo9)"/><rect y="58" width="392" height="5" fill="url(#eo10)" mask="url(#mkr)"/><rect y="63" width="392" height="6" fill="url(#eo10)"/><rect y="63" width="392" height="6" fill="url(#eo11)" mask="url(#mkr)"/><rect y="69" width="392" height="6" fill="url(#eo11)"/><rect y="69" width="392" height="6" fill="url(#eo12)" mask="url(#mkr)"/><rect y="75" width="392" height="7" fill="url(#eo12)"/><rect y="75" width="392" height="7" fill="url(#eo13)" mask="url(#mkr)"/><rect y="82" width="392" height="6" fill="url(#eo13)"/><rect y="82" width="392" height="6" fill="url(#eo14)" mask="url(#mkr)"/><rect y="88" width="392" height="8" fill="url(#eo14)"/><rect y="88" width="392" height="8" fill="url(#eo15)" mask="url(#mkr)"/><rect y="96" width="392" height="8" fill="url(#eo15)"/><rect y="96" width="392" height="8" fill="url(#eo16)" mask="url(#mkr)"/><rect y="104" width="392" height="17" fill="url(#eo16)"/><rect y="104" width="392" height="17" fill="url(#eo17)" mask="url(#mkr)"/><rect y="121" width="392" height="23" fill="url(#eo17)"/><rect y="121" width="392" height="23" fill="url(#eo18)" mask="url(#mkr)"/><rect y="144" width="392" height="24" fill="url(#eo18)"/><rect y="144" width="392" height="24" fill="url(#eo19)" mask="url(#mkr)"/><rect y="168" width="392" height="19" fill="url(#eo19)"/><rect y="168" width="392" height="19" fill="url(#eo20)" mask="url(#mkr)"/><rect y="187" width="392" height="3" fill="url(#eo20)"/><rect y="187" width="392" height="3" fill="url(#eo21)" mask="url(#mkr)"/><rect y="190" width="392" height="11" fill="url(#eo21)"/><rect y="190" width="392" height="11" fill="url(#eo22)" mask="url(#mkr)"/><rect y="201" width="392" height="2" fill="url(#eo22)"/><rect y="201" width="392" height="2" fill="url(#eo23)" mask="url(#mkr)"/><rect y="203" width="392" height="11" fill="url(#eo23)"/><rect y="203" width="392" height="11" fill="url(#eo24)" mask="url(#mkr)"/><rect y="214" width="392" height="24" fill="url(#eo24)"/><rect y="214" width="392" height="24" fill="url(#eo25)" mask="url(#mkr)"/><rect y="238" width="392" height="24" fill="url(#eo25)"/><rect y="238" width="392" height="24" fill="url(#eo26)" mask="url(#mkr)"/><rect y="262" width="392" height="23" fill="url(#eo26)"/><rect y="262" width="392" height="23" fill="url(#eo27)" mask="url(#mkr)"/><rect y="285" width="392" height="8" fill="url(#eo27)"/><rect y="285" width="392" height="8" fill="url(#eo28)" mask="url(#mkr)"/><rect y="293" width="392" height="8" fill="url(#eo28)"/><rect y="293" width="392" height="8" fill="url(#eo29)" mask="url(#mkr)"/><rect y="301" width="392" height="7" fill="url(#eo29)"/><rect y="301" width="392" height="7" fill="url(#eo30)" mask="url(#mkr)"/><rect y="308" width="392" height="7" fill="url(#eo30)"/><rect y="308" width="392" height="7" fill="url(#eo31)" mask="url(#mkr)"/><rect y="315" width="392" height="6" fill="url(#eo31)"/><rect y="315" width="392" height="6" fill="url(#eo32)" mask="url(#mkr)"/><rect y="321" width="392" height="6" fill="url(#eo32)"/><rect y="321" width="392" height="6" fill="url(#eo33)" mask="url(#mkr)"/><rect y="327" width="392" height="5" fill="url(#eo33)"/><rect y="327" width="392" height="5" fill="url(#eo34)" mask="url(#mkr)"/><rect y="332" width="392" height="5" fill="url(#eo34)"/><rect y="332" width="392" height="5" fill="url(#eo35)" mask="url(#mkr)"/><rect y="337" width="392" height="5" fill="url(#eo35)"/><rect y="337" width="392" height="5" fill="url(#eo36)" mask="url(#mkr)"/><rect y="342" width="392" height="5" fill="url(#eo36)"/><rect y="342" width="392" height="5" fill="url(#eo37)" mask="url(#mkr)"/><rect y="347" width="392" height="7" fill="url(#eo37)"/><rect y="347" width="392" height="7" fill="url(#eo38)" mask="url(#mkr)"/><rect y="354" width="392" height="9" fill="url(#eo38)"/><rect y="354" width="392" height="9" fill="url(#eo39)" mask="url(#mkr)"/><rect y="363" width="392" height="9" fill="url(#eo39)"/><rect y="363" width="392" height="9" fill="url(#eo40)" mask="url(#mkr)"/><rect y="372" width="392" height="4" fill="url(#eo40)"/><rect y="372" width="392" height="4" fill="url(#eo41)" mask="url(#mkr)"/><rect y="376" width="392" height="7" fill="url(#eo41)"/><rect y="376" width="392" height="7" fill="url(#eo42)" mask="url(#mkr)"/><rect y="383" width="392" height="6" fill="url(#eo42)"/><rect y="383" width="392" height="6" fill="url(#eo43)" mask="url(#mkr)"/><rect y="389" width="392" height="3" fill="url(#eo43)"/><rect y="389" width="392" height="3" fill="url(#eo44)" mask="url(#mkr)"/></g><g clip-path="url(#cpE)"><g transform="translate(86 42)" class="w221"><rect y="0" width="221" height="24" fill="url(#ei0)"/><rect y="0" width="221" height="24" fill="url(#ei1)" mask="url(#mkr)"/><rect y="24" width="221" height="24" fill="url(#ei1)"/><rect y="24" width="221" height="24" fill="url(#ei2)" mask="url(#mkr)"/><rect y="48" width="221" height="17" fill="url(#ei2)"/><rect y="48" width="221" height="17" fill="url(#ei3)" mask="url(#mkr)"/><rect y="65" width="221" height="16" fill="url(#ei3)"/><rect y="65" width="221" height="16" fill="url(#ei4)" mask="url(#mkr)"/><rect y="81" width="221" height="19" fill="url(#ei4)"/><rect y="81" width="221" height="19" fill="url(#ei5)" mask="url(#mkr)"/><rect y="100" width="221" height="23" fill="url(#ei5)"/><rect y="100" width="221" height="23" fill="url(#ei6)" mask="url(#mkr)"/><rect y="123" width="221" height="24" fill="url(#ei6)"/><rect y="123" width="221" height="24" fill="url(#ei7)" mask="url(#mkr)"/><rect y="147" width="221" height="24" fill="url(#ei7)"/><rect y="147" width="221" height="24" fill="url(#ei8)" mask="url(#mkr)"/><rect y="171" width="221" height="24" fill="url(#ei8)"/><rect y="171" width="221" height="24" fill="url(#ei9)" mask="url(#mkr)"/><rect y="195" width="221" height="21" fill="url(#ei9)"/><rect y="195" width="221" height="21" fill="url(#ei10)" mask="url(#mkr)"/><rect y="216" width="221" height="18" fill="url(#ei10)"/><rect y="216" width="221" height="18" fill="url(#ei11)" mask="url(#mkr)"/><rect y="234" width="221" height="19" fill="url(#ei11)"/><rect y="234" width="221" height="19" fill="url(#ei12)" mask="url(#mkr)"/><rect y="253" width="221" height="17" fill="url(#ei12)"/><rect y="253" width="221" height="17" fill="url(#ei13)" mask="url(#mkr)"/><rect y="270" width="221" height="24" fill="url(#ei13)"/><rect y="270" width="221" height="24" fill="url(#ei14)" mask="url(#mkr)"/><rect y="294" width="221" height="16" fill="url(#ei14)"/><rect y="294" width="221" height="16" fill="url(#ei15)" mask="url(#mkr)"/></g></g></g>
<linearGradient id="hh0"><stop offset="0" stop-color="#434343"/><stop offset=".13" stop-color="#424242"/><stop offset=".199" stop-color="#3d3d3d"/><stop offset=".263" stop-color="#303030"/><stop offset=".401" stop-color="#090909"/><stop offset=".441" stop-color="#020202"/><stop offset=".485" stop-color="#000000"/><stop offset=".528" stop-color="#020202"/><stop offset=".569" stop-color="#090909"/><stop offset=".607" stop-color="#131313"/><stop offset=".714" stop-color="#333333"/><stop offset=".781" stop-color="#404040"/><stop offset=".852" stop-color="#454545"/><stop offset="1" stop-color="#444444"/></linearGradient><linearGradient id="hh1"><stop offset="0" stop-color="#454545"/><stop offset=".133" stop-color="#454545"/><stop offset=".204" stop-color="#404040"/><stop offset=".268" stop-color="#353535"/><stop offset=".406" stop-color="#121212"/><stop offset=".446" stop-color="#0c0c0c"/><stop offset=".485" stop-color="#0b0b0b"/><stop offset=".523" stop-color="#0c0c0c"/><stop offset=".564" stop-color="#131313"/><stop offset=".707" stop-color="#373737"/><stop offset=".776" stop-color="#434343"/><stop offset=".847" stop-color="#474747"/><stop offset="1" stop-color="#454545"/></linearGradient><linearGradient id="hh2"><stop offset="0" stop-color="#494949"/><stop offset=".161" stop-color="#4b4b4b"/><stop offset=".237" stop-color="#484848"/><stop offset=".324" stop-color="#3d3d3d"/><stop offset=".439" stop-color="#262626"/><stop offset=".48" stop-color="#232323"/><stop offset=".52" stop-color="#262626"/><stop offset=".651" stop-color="#3f3f3f"/><stop offset=".742" stop-color="#4b4b4b"/><stop offset=".821" stop-color="#4d4d4d"/><stop offset="1" stop-color="#4a4a4a"/></linearGradient><linearGradient id="hh3"><stop offset="0" stop-color="#4d4d4d"/><stop offset=".202" stop-color="#505050"/><stop offset=".306" stop-color="#4b4b4b"/><stop offset=".357" stop-color="#424242"/><stop offset=".383" stop-color="#393939"/><stop offset=".441" stop-color="#212121"/><stop offset=".462" stop-color="#1c1c1c"/><stop offset=".48" stop-color="#1a1a1a"/><stop offset=".497" stop-color="#1c1c1c"/><stop offset=".515" stop-color="#212121"/><stop offset=".577" stop-color="#3a3a3a"/><stop offset=".602" stop-color="#424242"/><stop offset=".63" stop-color="#494949"/><stop offset=".666" stop-color="#4d4d4d"/><stop offset=".722" stop-color="#515151"/><stop offset=".781" stop-color="#525252"/><stop offset="1" stop-color="#4d4d4d"/></linearGradient><linearGradient id="hh4"><stop offset="0" stop-color="#525252"/><stop offset=".25" stop-color="#585858"/><stop offset=".293" stop-color="#585858"/><stop offset=".321" stop-color="#555555"/><stop offset=".347" stop-color="#4e4e4e"/><stop offset=".37" stop-color="#434343"/><stop offset=".39" stop-color="#353535"/><stop offset=".429" stop-color="#151515"/><stop offset=".446" stop-color="#090909"/><stop offset=".462" stop-color="#030303"/><stop offset=".48" stop-color="#010101"/><stop offset=".497" stop-color="#040404"/><stop offset=".515" stop-color="#0c0c0c"/><stop offset=".533" stop-color="#191919"/><stop offset=".571" stop-color="#393939"/><stop offset=".594" stop-color="#484848"/><stop offset=".615" stop-color="#515151"/><stop offset=".638" stop-color="#565656"/><stop offset=".673" stop-color="#595959"/><stop offset=".73" stop-color="#5a5a5a"/><stop offset="1" stop-color="#525252"/></linearGradient><linearGradient id="hh5"><stop offset="0" stop-color="#555555"/><stop offset=".265" stop-color="#5c5c5c"/><stop offset=".301" stop-color="#5c5c5c"/><stop offset=".327" stop-color="#595959"/><stop offset=".347" stop-color="#545454"/><stop offset=".367" stop-color="#4b4b4b"/><stop offset=".388" stop-color="#3d3d3d"/><stop offset=".441" stop-color="#111111"/><stop offset=".459" stop-color="#080808"/><stop offset=".477" stop-color="#050505"/><stop offset=".495" stop-color="#070707"/><stop offset=".515" stop-color="#111111"/><stop offset=".531" stop-color="#1c1c1c"/><stop offset=".571" stop-color="#3f3f3f"/><stop offset=".592" stop-color="#4d4d4d"/><stop offset=".612" stop-color="#565656"/><stop offset=".635" stop-color="#5c5c5c"/><stop offset=".666" stop-color="#5e5e5e"/><stop offset=".712" stop-color="#5e5e5e"/><stop offset="1" stop-color="#555555"/></linearGradient><linearGradient id="hh6"><stop offset="0" stop-color="#575757"/><stop offset=".273" stop-color="#606060"/><stop offset=".329" stop-color="#5f5f5f"/><stop offset=".349" stop-color="#5b5b5b"/><stop offset=".37" stop-color="#555555"/><stop offset=".39" stop-color="#4b4b4b"/><stop offset=".444" stop-color="#2b2b2b"/><stop offset=".462" stop-color="#242424"/><stop offset=".477" stop-color="#222222"/><stop offset=".492" stop-color="#232323"/><stop offset=".51" stop-color="#292929"/><stop offset=".566" stop-color="#4c4c4c"/><stop offset=".589" stop-color="#575757"/><stop offset=".61" stop-color="#5e5e5e"/><stop offset=".633" stop-color="#626262"/><stop offset=".696" stop-color="#636363"/><stop offset="1" stop-color="#585858"/></linearGradient><linearGradient id="hh7"><stop offset="0" stop-color="#595959"/><stop offset=".176" stop-color="#626262"/><stop offset=".337" stop-color="#6c6c6c"/><stop offset=".378" stop-color="#6c6c6c"/><stop offset=".452" stop-color="#646464"/><stop offset=".485" stop-color="#636363"/><stop offset=".577" stop-color="#6f6f6f"/><stop offset=".62" stop-color="#717171"/><stop offset=".696" stop-color="#6d6d6d"/><stop offset=".844" stop-color="#616161"/><stop offset="1" stop-color="#5a5a5a"/></linearGradient><linearGradient id="hh8"><stop offset="0" stop-color="#525252"/><stop offset=".028" stop-color="#545454"/><stop offset=".099" stop-color="#5f5f5f"/><stop offset=".237" stop-color="#6e6e6e"/><stop offset=".39" stop-color="#868686"/><stop offset=".561" stop-color="#8e8e8e"/><stop offset=".597" stop-color="#8d8d8d"/><stop offset=".63" stop-color="#8a8a8a"/><stop offset=".76" stop-color="#717171"/><stop offset=".811" stop-color="#6a6a6a"/><stop offset=".967" stop-color="#585858"/><stop offset="1" stop-color="#565656"/></linearGradient><linearGradient id="hh9"><stop offset="0" stop-color="#3c3c3c"/><stop offset=".033" stop-color="#424242"/><stop offset=".092" stop-color="#595959"/><stop offset=".12" stop-color="#626262"/><stop offset=".199" stop-color="#717171"/><stop offset=".237" stop-color="#7c7c7c"/><stop offset=".263" stop-color="#858585"/><stop offset=".334" stop-color="#a7a7a7"/><stop offset=".383" stop-color="#b7b7b7"/><stop offset=".441" stop-color="#c0c0c0"/><stop offset=".536" stop-color="#c4c4c4"/><stop offset=".587" stop-color="#c2c2c2"/><stop offset=".628" stop-color="#bbbbbb"/><stop offset=".668" stop-color="#acacac"/><stop offset=".745" stop-color="#858585"/><stop offset=".778" stop-color="#797979"/><stop offset=".809" stop-color="#707070"/><stop offset=".89" stop-color="#616161"/><stop offset=".969" stop-color="#494949"/><stop offset="1" stop-color="#454545"/></linearGradient><linearGradient id="hh10"><stop offset="0" stop-color="#262626"/><stop offset=".018" stop-color="#282828"/><stop offset=".038" stop-color="#303030"/><stop offset=".099" stop-color="#555555"/><stop offset=".125" stop-color="#626262"/><stop offset=".194" stop-color="#767676"/><stop offset=".227" stop-color="#828282"/><stop offset=".319" stop-color="#bbbbbb"/><stop offset=".365" stop-color="#cfcfcf"/><stop offset=".393" stop-color="#d8d8d8"/><stop offset=".423" stop-color="#dddddd"/><stop offset=".518" stop-color="#e0e0e0"/><stop offset=".589" stop-color="#dedede"/><stop offset=".612" stop-color="#dadada"/><stop offset=".635" stop-color="#d3d3d3"/><stop offset=".684" stop-color="#bcbcbc"/><stop offset=".773" stop-color="#828282"/><stop offset=".809" stop-color="#757575"/><stop offset=".878" stop-color="#626262"/><stop offset=".903" stop-color="#575757"/><stop offset=".964" stop-color="#373737"/><stop offset=".982" stop-color="#323232"/><stop offset="1" stop-color="#303030"/></linearGradient><linearGradient id="hh11"><stop offset="0" stop-color="#0e0e0e"/><stop offset=".02" stop-color="#111111"/><stop offset=".041" stop-color="#1b1b1b"/><stop offset=".061" stop-color="#2a2a2a"/><stop offset=".105" stop-color="#505050"/><stop offset=".122" stop-color="#5d5d5d"/><stop offset=".145" stop-color="#696969"/><stop offset=".191" stop-color="#797979"/><stop offset=".217" stop-color="#858585"/><stop offset=".296" stop-color="#bfbfbf"/><stop offset=".342" stop-color="#dbdbdb"/><stop offset=".372" stop-color="#e3e3e3"/><stop offset=".411" stop-color="#eaeaea"/><stop offset=".452" stop-color="#ededed"/><stop offset=".508" stop-color="#eeeeee"/><stop offset=".554" stop-color="#ededed"/><stop offset=".592" stop-color="#eaeaea"/><stop offset=".63" stop-color="#e3e3e3"/><stop offset=".658" stop-color="#dbdbdb"/><stop offset=".702" stop-color="#c0c0c0"/><stop offset=".781" stop-color="#848484"/><stop offset=".806" stop-color="#797979"/><stop offset=".852" stop-color="#6a6a6a"/><stop offset=".872" stop-color="#616161"/><stop offset=".898" stop-color="#515151"/><stop offset=".941" stop-color="#2e2e2e"/><stop offset=".959" stop-color="#222222"/><stop offset=".98" stop-color="#191919"/><stop offset="1" stop-color="#161616"/></linearGradient><linearGradient id="hh12"><stop offset="0" stop-color="#000000"/><stop offset=".026" stop-color="#040404"/><stop offset=".046" stop-color="#0e0e0e"/><stop offset=".064" stop-color="#1c1c1c"/><stop offset=".107" stop-color="#4a4a4a"/><stop offset=".128" stop-color="#5c5c5c"/><stop offset=".148" stop-color="#686868"/><stop offset=".214" stop-color="#878787"/><stop offset=".286" stop-color="#c0c0c0"/><stop offset=".327" stop-color="#dbdbdb"/><stop offset=".36" stop-color="#e6e6e6"/><stop offset=".406" stop-color="#f0f0f0"/><stop offset=".462" stop-color="#f9f9f9"/><stop offset=".505" stop-color="#fbfbfb"/><stop offset=".541" stop-color="#f8f8f8"/><stop offset=".605" stop-color="#eeeeee"/><stop offset=".643" stop-color="#e5e5e5"/><stop offset=".671" stop-color="#dbdbdb"/><stop offset=".709" stop-color="#c1c1c1"/><stop offset=".783" stop-color="#868686"/><stop offset=".804" stop-color="#7c7c7c"/><stop offset=".852" stop-color="#686868"/><stop offset=".872" stop-color="#5c5c5c"/><stop offset=".895" stop-color="#494949"/><stop offset=".939" stop-color="#1c1c1c"/><stop offset=".957" stop-color="#0e0e0e"/><stop offset=".977" stop-color="#050505"/><stop offset="1" stop-color="#020202"/></linearGradient><linearGradient id="hh13"><stop offset="0" stop-color="#000000"/><stop offset=".026" stop-color="#040404"/><stop offset=".046" stop-color="#0e0e0e"/><stop offset=".064" stop-color="#1c1c1c"/><stop offset=".107" stop-color="#4a4a4a"/><stop offset=".128" stop-color="#5c5c5c"/><stop offset=".148" stop-color="#686868"/><stop offset=".214" stop-color="#868686"/><stop offset=".286" stop-color="#bfbfbf"/><stop offset=".327" stop-color="#dbdbdb"/><stop offset=".352" stop-color="#e4e4e4"/><stop offset=".388" stop-color="#ededed"/><stop offset=".459" stop-color="#f9f9f9"/><stop offset=".495" stop-color="#fdfdfd"/><stop offset=".531" stop-color="#fafafa"/><stop offset=".605" stop-color="#eeeeee"/><stop offset=".643" stop-color="#e5e5e5"/><stop offset=".671" stop-color="#dbdbdb"/><stop offset=".712" stop-color="#c0c0c0"/><stop offset=".783" stop-color="#878787"/><stop offset=".852" stop-color="#686868"/><stop offset=".872" stop-color="#5b5b5b"/><stop offset=".893" stop-color="#494949"/><stop offset=".936" stop-color="#1b1b1b"/><stop offset=".954" stop-color="#0d0d0d"/><stop offset=".974" stop-color="#030303"/><stop offset="1" stop-color="#000000"/></linearGradient><linearGradient id="hh14"><stop offset="0" stop-color="#0e0e0e"/><stop offset=".023" stop-color="#121212"/><stop offset=".043" stop-color="#1c1c1c"/><stop offset=".061" stop-color="#2a2a2a"/><stop offset=".105" stop-color="#505050"/><stop offset=".13" stop-color="#616161"/><stop offset=".148" stop-color="#6a6a6a"/><stop offset=".194" stop-color="#7b7b7b"/><stop offset=".217" stop-color="#858585"/><stop offset=".293" stop-color="#c1c1c1"/><stop offset=".334" stop-color="#dbdbdb"/><stop offset=".365" stop-color="#e5e5e5"/><stop offset=".403" stop-color="#ececec"/><stop offset=".444" stop-color="#f0f0f0"/><stop offset=".487" stop-color="#f1f1f1"/><stop offset=".543" stop-color="#f0f0f0"/><stop offset=".587" stop-color="#ececec"/><stop offset=".628" stop-color="#e5e5e5"/><stop offset=".661" stop-color="#dbdbdb"/><stop offset=".704" stop-color="#c1c1c1"/><stop offset=".783" stop-color="#848484"/><stop offset=".809" stop-color="#797979"/><stop offset=".855" stop-color="#686868"/><stop offset=".875" stop-color="#5d5d5d"/><stop offset=".898" stop-color="#4b4b4b"/><stop offset=".941" stop-color="#222222"/><stop offset=".959" stop-color="#151515"/><stop offset=".98" stop-color="#0b0b0b"/><stop offset="1" stop-color="#080808"/></linearGradient><linearGradient id="hh15"><stop offset="0" stop-color="#282828"/><stop offset=".018" stop-color="#2a2a2a"/><stop offset=".038" stop-color="#323232"/><stop offset=".097" stop-color="#555555"/><stop offset=".122" stop-color="#616161"/><stop offset=".189" stop-color="#757575"/><stop offset=".222" stop-color="#828282"/><stop offset=".309" stop-color="#bebebe"/><stop offset=".357" stop-color="#d6d6d6"/><stop offset=".38" stop-color="#dddddd"/><stop offset=".406" stop-color="#e1e1e1"/><stop offset=".482" stop-color="#e4e4e4"/><stop offset=".584" stop-color="#e0e0e0"/><stop offset=".612" stop-color="#dbdbdb"/><stop offset=".638" stop-color="#d3d3d3"/><stop offset=".686" stop-color="#bcbcbc"/><stop offset=".773" stop-color="#838383"/><stop offset=".804" stop-color="#777777"/><stop offset=".872" stop-color="#626262"/><stop offset=".898" stop-color="#545454"/><stop offset=".962" stop-color="#292929"/><stop offset=".982" stop-color="#212121"/><stop offset="1" stop-color="#1e1e1e"/></linearGradient><linearGradient id="hh16"><stop offset="0" stop-color="#3d3d3d"/><stop offset=".031" stop-color="#414141"/><stop offset=".112" stop-color="#606060"/><stop offset=".189" stop-color="#727272"/><stop offset=".224" stop-color="#7d7d7d"/><stop offset=".247" stop-color="#878787"/><stop offset=".321" stop-color="#b1b1b1"/><stop offset=".36" stop-color="#c1c1c1"/><stop offset=".411" stop-color="#cdcdcd"/><stop offset=".467" stop-color="#d0d0d0"/><stop offset=".561" stop-color="#cbcbcb"/><stop offset=".594" stop-color="#c6c6c6"/><stop offset=".625" stop-color="#bfbfbf"/><stop offset=".671" stop-color="#adadad"/><stop offset=".758" stop-color="#818181"/><stop offset=".801" stop-color="#737373"/><stop offset=".878" stop-color="#626262"/><stop offset=".906" stop-color="#575757"/><stop offset=".964" stop-color="#3b3b3b"/><stop offset=".982" stop-color="#353535"/><stop offset="1" stop-color="#333333"/></linearGradient><linearGradient id="hh17"><stop offset="0" stop-color="#555555"/><stop offset=".033" stop-color="#575757"/><stop offset=".212" stop-color="#6e6e6e"/><stop offset=".367" stop-color="#8f8f8f"/><stop offset=".403" stop-color="#949494"/><stop offset=".441" stop-color="#959595"/><stop offset=".546" stop-color="#919191"/><stop offset=".599" stop-color="#8c8c8c"/><stop offset=".763" stop-color="#6f6f6f"/><stop offset=".893" stop-color="#606060"/><stop offset=".967" stop-color="#535353"/><stop offset="1" stop-color="#505050"/></linearGradient><linearGradient id="hh18"><stop offset="0" stop-color="#5a5a5a"/><stop offset=".153" stop-color="#636363"/><stop offset=".337" stop-color="#757575"/><stop offset=".403" stop-color="#787878"/><stop offset=".52" stop-color="#717171"/><stop offset=".61" stop-color="#737373"/><stop offset=".653" stop-color="#727272"/><stop offset=".819" stop-color="#646464"/><stop offset="1" stop-color="#575757"/></linearGradient><linearGradient id="hh19"><stop offset="0" stop-color="#595959"/><stop offset=".112" stop-color="#5d5d5d"/><stop offset=".314" stop-color="#676767"/><stop offset=".37" stop-color="#676767"/><stop offset=".416" stop-color="#606060"/><stop offset=".49" stop-color="#454545"/><stop offset=".508" stop-color="#404040"/><stop offset=".523" stop-color="#3f3f3f"/><stop offset=".554" stop-color="#444444"/><stop offset=".628" stop-color="#5e5e5e"/><stop offset=".668" stop-color="#636363"/><stop offset=".714" stop-color="#636363"/><stop offset="1" stop-color="#595959"/></linearGradient><linearGradient id="hh20"><stop offset="0" stop-color="#565656"/><stop offset=".293" stop-color="#606060"/><stop offset=".337" stop-color="#606060"/><stop offset=".367" stop-color="#5d5d5d"/><stop offset=".39" stop-color="#585858"/><stop offset=".411" stop-color="#505050"/><stop offset=".434" stop-color="#414141"/><stop offset=".487" stop-color="#181818"/><stop offset=".505" stop-color="#0f0f0f"/><stop offset=".523" stop-color="#0c0c0c"/><stop offset=".541" stop-color="#0f0f0f"/><stop offset=".559" stop-color="#181818"/><stop offset=".612" stop-color="#414141"/><stop offset=".633" stop-color="#4e4e4e"/><stop offset=".653" stop-color="#565656"/><stop offset=".673" stop-color="#5b5b5b"/><stop offset=".732" stop-color="#5e5e5e"/><stop offset="1" stop-color="#565656"/></linearGradient><linearGradient id="hh21"><stop offset="0" stop-color="#535353"/><stop offset=".281" stop-color="#5c5c5c"/><stop offset=".332" stop-color="#5b5b5b"/><stop offset=".365" stop-color="#585858"/><stop offset=".39" stop-color="#525252"/><stop offset=".413" stop-color="#464646"/><stop offset=".434" stop-color="#373737"/><stop offset=".474" stop-color="#141414"/><stop offset=".49" stop-color="#090909"/><stop offset=".505" stop-color="#030303"/><stop offset=".523" stop-color="#000000"/><stop offset=".541" stop-color="#030303"/><stop offset=".556" stop-color="#090909"/><stop offset=".574" stop-color="#161616"/><stop offset=".612" stop-color="#373737"/><stop offset=".63" stop-color="#444444"/><stop offset=".653" stop-color="#505050"/><stop offset=".679" stop-color="#575757"/><stop offset=".704" stop-color="#595959"/><stop offset=".742" stop-color="#5a5a5a"/><stop offset="1" stop-color="#535353"/></linearGradient><linearGradient id="hh22"><stop offset="0" stop-color="#505050"/><stop offset=".247" stop-color="#565656"/><stop offset=".314" stop-color="#555555"/><stop offset=".357" stop-color="#525252"/><stop offset=".383" stop-color="#4d4d4d"/><stop offset=".406" stop-color="#454545"/><stop offset=".429" stop-color="#393939"/><stop offset=".487" stop-color="#131313"/><stop offset=".505" stop-color="#0c0c0c"/><stop offset=".523" stop-color="#0a0a0a"/><stop offset=".541" stop-color="#0c0c0c"/><stop offset=".559" stop-color="#131313"/><stop offset=".615" stop-color="#373737"/><stop offset=".638" stop-color="#444444"/><stop offset=".658" stop-color="#4b4b4b"/><stop offset=".681" stop-color="#505050"/><stop offset=".717" stop-color="#535353"/><stop offset=".77" stop-color="#545454"/><stop offset="1" stop-color="#4f4f4f"/></linearGradient><linearGradient id="hh23"><stop offset="0" stop-color="#4b4b4b"/><stop offset=".194" stop-color="#4f4f4f"/><stop offset=".283" stop-color="#4c4c4c"/><stop offset=".375" stop-color="#414141"/><stop offset=".413" stop-color="#393939"/><stop offset=".485" stop-color="#262626"/><stop offset=".523" stop-color="#222222"/><stop offset=".561" stop-color="#272727"/><stop offset=".661" stop-color="#404040"/><stop offset=".735" stop-color="#494949"/><stop offset=".824" stop-color="#4d4d4d"/><stop offset="1" stop-color="#4b4b4b"/></linearGradient><linearGradient id="hh24"><stop offset="0" stop-color="#484848"/><stop offset=".166" stop-color="#4b4b4b"/><stop offset=".24" stop-color="#484848"/><stop offset=".311" stop-color="#3f3f3f"/><stop offset=".454" stop-color="#222222"/><stop offset=".487" stop-color="#1e1e1e"/><stop offset=".52" stop-color="#1d1d1d"/><stop offset=".582" stop-color="#222222"/><stop offset=".717" stop-color="#3c3c3c"/><stop offset=".786" stop-color="#454545"/><stop offset=".857" stop-color="#484848"/><stop offset="1" stop-color="#474747"/></linearGradient><linearGradient id="hh25"><stop offset="0" stop-color="#444444"/><stop offset=".151" stop-color="#464646"/><stop offset=".224" stop-color="#414141"/><stop offset=".291" stop-color="#343434"/><stop offset=".434" stop-color="#0b0b0b"/><stop offset=".474" stop-color="#050505"/><stop offset=".518" stop-color="#020202"/><stop offset=".559" stop-color="#040404"/><stop offset=".599" stop-color="#0b0b0b"/><stop offset=".74" stop-color="#313131"/><stop offset=".804" stop-color="#3d3d3d"/><stop offset=".872" stop-color="#434343"/><stop offset="1" stop-color="#444444"/></linearGradient><linearGradient id="hh26"><stop offset="0" stop-color="#444444"/><stop offset=".151" stop-color="#454545"/><stop offset=".222" stop-color="#404040"/><stop offset=".288" stop-color="#333333"/><stop offset=".395" stop-color="#131313"/><stop offset=".434" stop-color="#090909"/><stop offset=".474" stop-color="#020202"/><stop offset=".518" stop-color="#000000"/><stop offset=".561" stop-color="#020202"/><stop offset=".602" stop-color="#090909"/><stop offset=".74" stop-color="#303030"/><stop offset=".804" stop-color="#3c3c3c"/><stop offset=".872" stop-color="#424242"/><stop offset="1" stop-color="#434343"/></linearGradient>
<g id="cH" class="w392"><rect y="0" width="392" height="19" fill="url(#hh0)"/><rect y="0" width="392" height="19" fill="url(#hh1)" mask="url(#mkr)"/><rect y="19" width="392" height="22" fill="url(#hh1)"/><rect y="19" width="392" height="22" fill="url(#hh2)" mask="url(#mkr)"/><rect y="41" width="392" height="12" fill="url(#hh2)"/><rect y="41" width="392" height="12" fill="url(#hh3)" mask="url(#mkr)"/><rect y="53" width="392" height="17" fill="url(#hh3)"/><rect y="53" width="392" height="17" fill="url(#hh4)" mask="url(#mkr)"/><rect y="70" width="392" height="10" fill="url(#hh4)"/><rect y="70" width="392" height="10" fill="url(#hh5)" mask="url(#mkr)"/><rect y="80" width="392" height="11" fill="url(#hh5)"/><rect y="80" width="392" height="11" fill="url(#hh6)" mask="url(#mkr)"/><rect y="91" width="392" height="19" fill="url(#hh6)"/><rect y="91" width="392" height="19" fill="url(#hh7)" mask="url(#mkr)"/><rect y="110" width="392" height="15" fill="url(#hh7)"/><rect y="110" width="392" height="15" fill="url(#hh8)" mask="url(#mkr)"/><rect y="125" width="392" height="17" fill="url(#hh8)"/><rect y="125" width="392" height="17" fill="url(#hh9)" mask="url(#mkr)"/><rect y="142" width="392" height="12" fill="url(#hh9)"/><rect y="142" width="392" height="12" fill="url(#hh10)" mask="url(#mkr)"/><rect y="154" width="392" height="14" fill="url(#hh10)"/><rect y="154" width="392" height="14" fill="url(#hh11)" mask="url(#mkr)"/><rect y="168" width="392" height="19" fill="url(#hh11)"/><rect y="168" width="392" height="19" fill="url(#hh12)" mask="url(#mkr)"/><rect y="187" width="392" height="13" fill="url(#hh12)"/><rect y="187" width="392" height="13" fill="url(#hh13)" mask="url(#mkr)"/><rect y="200" width="392" height="19" fill="url(#hh13)"/><rect y="200" width="392" height="19" fill="url(#hh14)" mask="url(#mkr)"/><rect y="219" width="392" height="15" fill="url(#hh14)"/><rect y="219" width="392" height="15" fill="url(#hh15)" mask="url(#mkr)"/><rect y="234" width="392" height="11" fill="url(#hh15)"/><rect y="234" width="392" height="11" fill="url(#hh16)" mask="url(#mkr)"/><rect y="245" width="392" height="19" fill="url(#hh16)"/><rect y="245" width="392" height="19" fill="url(#hh17)" mask="url(#mkr)"/><rect y="264" width="392" height="12" fill="url(#hh17)"/><rect y="264" width="392" height="12" fill="url(#hh18)" mask="url(#mkr)"/><rect y="276" width="392" height="17" fill="url(#hh18)"/><rect y="276" width="392" height="17" fill="url(#hh19)" mask="url(#mkr)"/><rect y="293" width="392" height="15" fill="url(#hh19)"/><rect y="293" width="392" height="15" fill="url(#hh20)" mask="url(#mkr)"/><rect y="308" width="392" height="10" fill="url(#hh20)"/><rect y="308" width="392" height="10" fill="url(#hh21)" mask="url(#mkr)"/><rect y="318" width="392" height="12" fill="url(#hh21)"/><rect y="318" width="392" height="12" fill="url(#hh22)" mask="url(#mkr)"/><rect y="330" width="392" height="16" fill="url(#hh22)"/><rect y="330" width="392" height="16" fill="url(#hh23)" mask="url(#mkr)"/><rect y="346" width="392" height="13" fill="url(#hh23)"/><rect y="346" width="392" height="13" fill="url(#hh24)" mask="url(#mkr)"/><rect y="359" width="392" height="24" fill="url(#hh24)"/><rect y="359" width="392" height="24" fill="url(#hh25)" mask="url(#mkr)"/><rect y="383" width="392" height="9" fill="url(#hh25)"/><rect y="383" width="392" height="9" fill="url(#hh26)" mask="url(#mkr)"/></g>
<clipPath id="cb7"><rect width="744" height="744"/></clipPath>
<linearGradient id="ta0" x2="0" y2="1"><stop offset="0" stop-color="#cbcbcb"/><stop offset=".288" stop-color="#cbcbcb"/><stop offset=".289" stop-color="#c8c8c8"/><stop offset=".29" stop-color="#c2c2c2"/><stop offset=".292" stop-color="#b5b5b5"/><stop offset=".293" stop-color="#9f9f9f"/><stop offset=".294" stop-color="#7f7f7f"/><stop offset=".296" stop-color="#6e6e6e"/><stop offset=".32" stop-color="#696969"/><stop offset=".347" stop-color="#5d5d5d"/><stop offset=".372" stop-color="#4b4b4b"/><stop offset=".43" stop-color="#1e1e1e"/><stop offset=".457" stop-color="#0d0d0d"/><stop offset=".48" stop-color="#030303"/><stop offset=".501" stop-color="#000000"/><stop offset=".503" stop-color="#b2b2b2"/><stop offset=".504" stop-color="#d0d0d0"/><stop offset=".505" stop-color="#d5d5d5"/><stop offset=".575" stop-color="#e2e2e2"/><stop offset=".661" stop-color="#e8e8e8"/><stop offset=".794" stop-color="#fefefe"/><stop offset="1" stop-color="#ffffff"/></linearGradient><linearGradient id="ta1" x2="0" y2="1"><stop offset="0" stop-color="#cbcbcb"/><stop offset=".288" stop-color="#cbcbcb"/><stop offset=".289" stop-color="#c8c8c8"/><stop offset=".29" stop-color="#c2c2c2"/><stop offset=".292" stop-color="#b5b5b5"/><stop offset=".293" stop-color="#9f9f9f"/><stop offset=".294" stop-color="#808080"/><stop offset=".296" stop-color="#6e6e6e"/><stop offset=".321" stop-color="#696969"/><stop offset=".347" stop-color="#5d5d5d"/><stop offset=".372" stop-color="#4b4b4b"/><stop offset=".43" stop-color="#1f1f1f"/><stop offset=".458" stop-color="#0d0d0d"/><stop offset=".481" stop-color="#030303"/><stop offset=".501" stop-color="#000000"/><stop offset=".503" stop-color="#6a6a6a"/><stop offset=".504" stop-color="#c7c7c7"/><stop offset=".505" stop-color="#d2d2d2"/><stop offset=".507" stop-color="#d5d5d5"/><stop offset=".575" stop-color="#e2e2e2"/><stop offset=".661" stop-color="#e8e8e8"/><stop offset=".794" stop-color="#fefefe"/><stop offset="1" stop-color="#ffffff"/></linearGradient><linearGradient id="ta2" x2="0" y2="1"><stop offset="0" stop-color="#cbcbcb"/><stop offset=".288" stop-color="#cacaca"/><stop offset=".289" stop-color="#c8c8c8"/><stop offset=".29" stop-color="#c2c2c2"/><stop offset=".292" stop-color="#b5b5b5"/><stop offset=".293" stop-color="#a0a0a0"/><stop offset=".294" stop-color="#808080"/><stop offset=".296" stop-color="#6e6e6e"/><stop offset=".321" stop-color="#696969"/><stop offset=".348" stop-color="#5c5c5c"/><stop offset=".374" stop-color="#4a4a4a"/><stop offset=".43" stop-color="#1f1f1f"/><stop offset=".458" stop-color="#0d0d0d"/><stop offset=".481" stop-color="#030303"/><stop offset=".501" stop-color="#000000"/><stop offset=".503" stop-color="#282828"/><stop offset=".504" stop-color="#bababa"/><stop offset=".505" stop-color="#cecece"/><stop offset=".507" stop-color="#d4d4d4"/><stop offset=".508" stop-color="#d6d6d6"/><stop offset=".583" stop-color="#e3e3e3"/><stop offset=".668" stop-color="#e9e9e9"/><stop offset=".794" stop-color="#fefefe"/><stop offset="1" stop-color="#ffffff"/></linearGradient><linearGradient id="ta3" x2="0" y2="1"><stop offset="0" stop-color="#cbcbcb"/><stop offset=".288" stop-color="#cacaca"/><stop offset=".289" stop-color="#c8c8c8"/><stop offset=".29" stop-color="#c1c1c1"/><stop offset=".292" stop-color="#b5b5b5"/><stop offset=".293" stop-color="#a0a0a0"/><stop offset=".294" stop-color="#818181"/><stop offset=".296" stop-color="#6e6e6e"/><stop offset=".323" stop-color="#686868"/><stop offset=".348" stop-color="#5c5c5c"/><stop offset=".374" stop-color="#4b4b4b"/><stop offset=".43" stop-color="#1f1f1f"/><stop offset=".458" stop-color="#0d0d0d"/><stop offset=".481" stop-color="#030303"/><stop offset=".501" stop-color="#000000"/><stop offset=".503" stop-color="#050505"/><stop offset=".504" stop-color="#9b9b9b"/><stop offset=".505" stop-color="#c9c9c9"/><stop offset=".507" stop-color="#d1d1d1"/><stop offset=".509" stop-color="#d6d6d6"/><stop offset=".583" stop-color="#e3e3e3"/><stop offset=".668" stop-color="#e9e9e9"/><stop offset=".796" stop-color="#fefefe"/><stop offset="1" stop-color="#ffffff"/></linearGradient><linearGradient id="ta4" x2="0" y2="1"><stop offset="0" stop-color="#cbcbcb"/><stop offset=".288" stop-color="#cacaca"/><stop offset=".289" stop-color="#c8c8c8"/><stop offset=".29" stop-color="#c1c1c1"/><stop offset=".292" stop-color="#b5b5b5"/><stop offset=".293" stop-color="#a1a1a1"/><stop offset=".294" stop-color="#828282"/><stop offset=".296" stop-color="#6f6f6f"/><stop offset=".297" stop-color="#6d6d6d"/><stop offset=".321" stop-color="#696969"/><stop offset=".348" stop-color="#5c5c5c"/><stop offset=".374" stop-color="#4b4b4b"/><stop offset=".43" stop-color="#1f1f1f"/><stop offset=".458" stop-color="#0d0d0d"/><stop offset=".481" stop-color="#030303"/><stop offset=".503" stop-color="#000000"/><stop offset=".504" stop-color="#6d6d6d"/><stop offset=".505" stop-color="#bababa"/><stop offset=".507" stop-color="#cbcbcb"/><stop offset=".508" stop-color="#d1d1d1"/><stop offset=".511" stop-color="#d6d6d6"/><stop offset=".583" stop-color="#e3e3e3"/><stop offset=".668" stop-color="#e9e9e9"/><stop offset=".796" stop-color="#fefefe"/><stop offset="1" stop-color="#ffffff"/></linearGradient><linearGradient id="ta5" x2="0" y2="1"><stop offset="0" stop-color="#cbcbcb"/><stop offset=".288" stop-color="#cacaca"/><stop offset=".289" stop-color="#c7c7c7"/><stop offset=".29" stop-color="#c1c1c1"/><stop offset=".292" stop-color="#b6b6b6"/><stop offset=".293" stop-color="#a3a3a3"/><stop offset=".294" stop-color="#858585"/><stop offset=".296" stop-color="#717171"/><stop offset=".297" stop-color="#6d6d6d"/><stop offset=".321" stop-color="#696969"/><stop offset=".348" stop-color="#5c5c5c"/><stop offset=".374" stop-color="#4b4b4b"/><stop offset=".43" stop-color="#1f1f1f"/><stop offset=".458" stop-color="#0d0d0d"/><stop offset=".481" stop-color="#030303"/><stop offset=".503" stop-color="#000000"/><stop offset=".504" stop-color="#181818"/><stop offset=".505" stop-color="#848484"/><stop offset=".507" stop-color="#b8b8b8"/><stop offset=".508" stop-color="#c8c8c8"/><stop offset=".509" stop-color="#cfcfcf"/><stop offset=".513" stop-color="#d6d6d6"/><stop offset=".575" stop-color="#e2e2e2"/><stop offset=".661" stop-color="#e8e8e8"/><stop offset=".796" stop-color="#fefefe"/><stop offset="1" stop-color="#ffffff"/></linearGradient><linearGradient id="ta6" x2="0" y2="1"><stop offset="0" stop-color="#cbcbcb"/><stop offset=".286" stop-color="#cbcbcb"/><stop offset=".289" stop-color="#c7c7c7"/><stop offset=".29" stop-color="#c1c1c1"/><stop offset=".292" stop-color="#b6b6b6"/><stop offset=".293" stop-color="#a4a4a4"/><stop offset=".294" stop-color="#878787"/><stop offset=".296" stop-color="#727272"/><stop offset=".297" stop-color="#6d6d6d"/><stop offset=".321" stop-color="#696969"/><stop offset=".348" stop-color="#5c5c5c"/><stop offset=".374" stop-color="#4b4b4b"/><stop offset=".431" stop-color="#1e1e1e"/><stop offset=".458" stop-color="#0d0d0d"/><stop offset=".481" stop-color="#030303"/><stop offset=".503" stop-color="#000000"/><stop offset=".504" stop-color="#040404"/><stop offset=".505" stop-color="#646464"/><stop offset=".507" stop-color="#9d9d9d"/><stop offset=".508" stop-color="#c0c0c0"/><stop offset=".509" stop-color="#cacaca"/><stop offset=".511" stop-color="#cfcfcf"/><stop offset=".516" stop-color="#d7d7d7"/><stop offset=".585" stop-color="#e3e3e3"/><stop offset=".668" stop-color="#e9e9e9"/><stop offset=".796" stop-color="#fefefe"/><stop offset="1" stop-color="#ffffff"/></linearGradient><linearGradient id="ta7" x2="0" y2="1"><stop offset="0" stop-color="#cbcbcb"/><stop offset=".286" stop-color="#cbcbcb"/><stop offset=".289" stop-color="#c7c7c7"/><stop offset=".29" stop-color="#c1c1c1"/><stop offset=".292" stop-color="#b7b7b7"/><stop offset=".293" stop-color="#a7a7a7"/><stop offset=".294" stop-color="#8c8c8c"/><stop offset=".296" stop-color="#767676"/><stop offset=".297" stop-color="#6d6d6d"/><stop offset=".321" stop-color="#696969"/><stop offset=".348" stop-color="#5d5d5d"/><stop offset=".374" stop-color="#4b4b4b"/><stop offset=".431" stop-color="#1f1f1f"/><stop offset=".46" stop-color="#0d0d0d"/><stop offset=".483" stop-color="#030303"/><stop offset=".504" stop-color="#000000"/><stop offset=".505" stop-color="#1f1f1f"/><stop offset=".507" stop-color="#6e6e6e"/><stop offset=".508" stop-color="#999999"/><stop offset=".509" stop-color="#bababa"/><stop offset=".511" stop-color="#c6c6c6"/><stop offset=".513" stop-color="#d0d0d0"/><stop offset=".52" stop-color="#d8d8d8"/><stop offset=".585" stop-color="#e3e3e3"/><stop offset=".667" stop-color="#e9e9e9"/><stop offset=".796" stop-color="#fefefe"/><stop offset="1" stop-color="#ffffff"/></linearGradient><linearGradient id="ta8" x2="0" y2="1"><stop offset="0" stop-color="#cbcbcb"/><stop offset=".286" stop-color="#cbcbcb"/><stop offset=".289" stop-color="#c7c7c7"/><stop offset=".29" stop-color="#c2c2c2"/><stop offset=".292" stop-color="#b8b8b8"/><stop offset=".293" stop-color="#a9a9a9"/><stop offset=".296" stop-color="#797979"/><stop offset=".297" stop-color="#6e6e6e"/><stop offset=".321" stop-color="#696969"/><stop offset=".348" stop-color="#5d5d5d"/><stop offset=".374" stop-color="#4b4b4b"/><stop offset=".431" stop-color="#1f1f1f"/><stop offset=".46" stop-color="#0d0d0d"/><stop offset=".483" stop-color="#030303"/><stop offset=".504" stop-color="#000000"/><stop offset=".505" stop-color="#090909"/><stop offset=".507" stop-color="#505050"/><stop offset=".508" stop-color="#808080"/><stop offset=".509" stop-color="#a1a1a1"/><stop offset=".511" stop-color="#bcbcbc"/><stop offset=".512" stop-color="#c6c6c6"/><stop offset=".515" stop-color="#cfcfcf"/><stop offset=".523" stop-color="#d8d8d8"/><stop offset=".586" stop-color="#e3e3e3"/><stop offset=".667" stop-color="#e9e9e9"/><stop offset=".796" stop-color="#fefefe"/><stop offset="1" stop-color="#ffffff"/></linearGradient><linearGradient id="ta9" x2="0" y2="1"><stop offset="0" stop-color="#cbcbcb"/><stop offset=".286" stop-color="#cbcbcb"/><stop offset=".289" stop-color="#c7c7c7"/><stop offset=".29" stop-color="#c2c2c2"/><stop offset=".292" stop-color="#b9b9b9"/><stop offset=".293" stop-color="#acacac"/><stop offset=".296" stop-color="#7e7e7e"/><stop offset=".297" stop-color="#707070"/><stop offset=".298" stop-color="#6d6d6d"/><stop offset=".323" stop-color="#696969"/><stop offset=".349" stop-color="#5c5c5c"/><stop offset=".375" stop-color="#4b4b4b"/><stop offset=".431" stop-color="#1f1f1f"/><stop offset=".46" stop-color="#0d0d0d"/><stop offset=".483" stop-color="#030303"/><stop offset=".504" stop-color="#000000"/><stop offset=".505" stop-color="#000000"/><stop offset=".507" stop-color="#232323"/><stop offset=".508" stop-color="#626262"/><stop offset=".509" stop-color="#878787"/><stop offset=".512" stop-color="#b9b9b9"/><stop offset=".513" stop-color="#c4c4c4"/><stop offset=".516" stop-color="#cdcdcd"/><stop offset=".522" stop-color="#d5d5d5"/><stop offset=".527" stop-color="#d9d9d9"/><stop offset=".586" stop-color="#e3e3e3"/><stop offset=".667" stop-color="#e9e9e9"/><stop offset=".797" stop-color="#fefefe"/><stop offset="1" stop-color="#ffffff"/></linearGradient><linearGradient id="ta10" x2="0" y2="1"><stop offset="0" stop-color="#cbcbcb"/><stop offset=".286" stop-color="#cbcbcb"/><stop offset=".289" stop-color="#c7c7c7"/><stop offset=".29" stop-color="#c3c3c3"/><stop offset=".292" stop-color="#bbbbbb"/><stop offset=".293" stop-color="#b0b0b0"/><stop offset=".294" stop-color="#9d9d9d"/><stop offset=".296" stop-color="#868686"/><stop offset=".297" stop-color="#747474"/><stop offset=".298" stop-color="#6d6d6d"/><stop offset=".323" stop-color="#696969"/><stop offset=".349" stop-color="#5c5c5c"/><stop offset=".375" stop-color="#4b4b4b"/><stop offset=".433" stop-color="#1e1e1e"/><stop offset=".461" stop-color="#0c0c0c"/><stop offset=".484" stop-color="#030303"/><stop offset=".505" stop-color="#000000"/><stop offset=".507" stop-color="#0a0a0a"/><stop offset=".509" stop-color="#686868"/><stop offset=".511" stop-color="#878787"/><stop offset=".513" stop-color="#b2b2b2"/><stop offset=".515" stop-color="#c0c0c0"/><stop offset=".516" stop-color="#c6c6c6"/><stop offset=".52" stop-color="#d0d0d0"/><stop offset=".531" stop-color="#dadada"/><stop offset=".587" stop-color="#e4e4e4"/><stop offset=".667" stop-color="#e9e9e9"/><stop offset=".797" stop-color="#fefefe"/><stop offset="1" stop-color="#ffffff"/></linearGradient><linearGradient id="ta11" x2="0" y2="1"><stop offset="0" stop-color="#cbcbcb"/><stop offset=".286" stop-color="#cbcbcb"/><stop offset=".29" stop-color="#c4c4c4"/><stop offset=".293" stop-color="#b3b3b3"/><stop offset=".294" stop-color="#a5a5a5"/><stop offset=".297" stop-color="#7b7b7b"/><stop offset=".298" stop-color="#707070"/><stop offset=".3" stop-color="#6d6d6d"/><stop offset=".324" stop-color="#696969"/><stop offset=".351" stop-color="#5c5c5c"/><stop offset=".376" stop-color="#4b4b4b"/><stop offset=".433" stop-color="#1f1f1f"/><stop offset=".461" stop-color="#0d0d0d"/><stop offset=".484" stop-color="#030303"/><stop offset=".505" stop-color="#000000"/><stop offset=".507" stop-color="#000000"/><stop offset=".508" stop-color="#141414"/><stop offset=".509" stop-color="#444444"/><stop offset=".511" stop-color="#686868"/><stop offset=".512" stop-color="#828282"/><stop offset=".513" stop-color="#979797"/><stop offset=".516" stop-color="#b9b9b9"/><stop offset=".517" stop-color="#c2c2c2"/><stop offset=".519" stop-color="#c7c7c7"/><stop offset=".522" stop-color="#cdcdcd"/><stop offset=".526" stop-color="#d3d3d3"/><stop offset=".535" stop-color="#dadada"/><stop offset=".587" stop-color="#e4e4e4"/><stop offset=".667" stop-color="#e9e9e9"/><stop offset=".797" stop-color="#fefefe"/><stop offset="1" stop-color="#ffffff"/></linearGradient><linearGradient id="ta12" x2="0" y2="1"><stop offset="0" stop-color="#cbcbcb"/><stop offset=".286" stop-color="#cbcbcb"/><stop offset=".29" stop-color="#c5c5c5"/><stop offset=".293" stop-color="#b6b6b6"/><stop offset=".294" stop-color="#ababab"/><stop offset=".297" stop-color="#868686"/><stop offset=".298" stop-color="#767676"/><stop offset=".3" stop-color="#6e6e6e"/><stop offset=".324" stop-color="#696969"/><stop offset=".351" stop-color="#5d5d5d"/><stop offset=".376" stop-color="#4b4b4b"/><stop offset=".434" stop-color="#1e1e1e"/><stop offset=".462" stop-color="#0c0c0c"/><stop offset=".485" stop-color="#030303"/><stop offset=".507" stop-color="#000000"/><stop offset=".508" stop-color="#060606"/><stop offset=".509" stop-color="#1f1f1f"/><stop offset=".511" stop-color="#4b4b4b"/><stop offset=".512" stop-color="#686868"/><stop offset=".513" stop-color="#7f7f7f"/><stop offset=".515" stop-color="#929292"/><stop offset=".517" stop-color="#b0b0b0"/><stop offset=".519" stop-color="#bdbdbd"/><stop offset=".522" stop-color="#c7c7c7"/><stop offset=".526" stop-color="#cfcfcf"/><stop offset=".539" stop-color="#dbdbdb"/><stop offset=".586" stop-color="#e3e3e3"/><stop offset=".667" stop-color="#e9e9e9"/><stop offset=".797" stop-color="#fefefe"/><stop offset="1" stop-color="#ffffff"/></linearGradient><linearGradient id="ta13" x2="0" y2="1"><stop offset="0" stop-color="#cbcbcb"/><stop offset=".286" stop-color="#cbcbcb"/><stop offset=".29" stop-color="#c6c6c6"/><stop offset=".293" stop-color="#bababa"/><stop offset=".294" stop-color="#b1b1b1"/><stop offset=".296" stop-color="#a5a5a5"/><stop offset=".298" stop-color="#808080"/><stop offset=".3" stop-color="#747474"/><stop offset=".301" stop-color="#6d6d6d"/><stop offset=".325" stop-color="#696969"/><stop offset=".352" stop-color="#5c5c5c"/><stop offset=".378" stop-color="#4b4b4b"/><stop offset=".434" stop-color="#1e1e1e"/><stop offset=".462" stop-color="#0c0c0c"/><stop offset=".485" stop-color="#030303"/><stop offset=".507" stop-color="#000000"/><stop offset=".508" stop-color="#000000"/><stop offset=".509" stop-color="#0b0b0b"/><stop offset=".511" stop-color="#252525"/><stop offset=".512" stop-color="#4c4c4c"/><stop offset=".513" stop-color="#656565"/><stop offset=".515" stop-color="#797979"/><stop offset=".516" stop-color="#8a8a8a"/><stop offset=".517" stop-color="#989898"/><stop offset=".52" stop-color="#b2b2b2"/><stop offset=".522" stop-color="#bdbdbd"/><stop offset=".524" stop-color="#c7c7c7"/><stop offset=".53" stop-color="#d0d0d0"/><stop offset=".544" stop-color="#dbdbdb"/><stop offset=".587" stop-color="#e4e4e4"/><stop offset=".667" stop-color="#e9e9e9"/><stop offset=".797" stop-color="#fefefe"/><stop offset="1" stop-color="#ffffff"/></linearGradient><linearGradient id="ta14" x2="0" y2="1"><stop offset="0" stop-color="#cbcbcb"/><stop offset=".286" stop-color="#cbcbcb"/><stop offset=".29" stop-color="#c7c7c7"/><stop offset=".292" stop-color="#c3c3c3"/><stop offset=".294" stop-color="#b7b7b7"/><stop offset=".296" stop-color="#aeaeae"/><stop offset=".297" stop-color="#a2a2a2"/><stop offset=".3" stop-color="#818181"/><stop offset=".301" stop-color="#757575"/><stop offset=".302" stop-color="#6e6e6e"/><stop offset=".328" stop-color="#696969"/><stop offset=".353" stop-color="#5c5c5c"/><stop offset=".378" stop-color="#4c4c4c"/><stop offset=".434" stop-color="#1f1f1f"/><stop offset=".462" stop-color="#0d0d0d"/><stop offset=".487" stop-color="#030303"/><stop offset=".508" stop-color="#000000"/><stop offset=".509" stop-color="#020202"/><stop offset=".511" stop-color="#0d0d0d"/><stop offset=".512" stop-color="#232323"/><stop offset=".513" stop-color="#434343"/><stop offset=".515" stop-color="#5d5d5d"/><stop offset=".517" stop-color="#7f7f7f"/><stop offset=".52" stop-color="#999999"/><stop offset=".524" stop-color="#b9b9b9"/><stop offset=".527" stop-color="#c4c4c4"/><stop offset=".532" stop-color="#cecece"/><stop offset=".538" stop-color="#d4d4d4"/><stop offset=".55" stop-color="#dcdcdc"/><stop offset=".56" stop-color="#e0e0e0"/><stop offset=".586" stop-color="#e3e3e3"/><stop offset=".668" stop-color="#e9e9e9"/><stop offset=".797" stop-color="#fefefe"/><stop offset="1" stop-color="#ffffff"/></linearGradient><linearGradient id="ta15" x2="0" y2="1"><stop offset="0" stop-color="#cbcbcb"/><stop offset=".288" stop-color="#cacaca"/><stop offset=".292" stop-color="#c5c5c5"/><stop offset=".296" stop-color="#b6b6b6"/><stop offset=".298" stop-color="#a2a2a2"/><stop offset=".301" stop-color="#858585"/><stop offset=".302" stop-color="#787878"/><stop offset=".304" stop-color="#707070"/><stop offset=".305" stop-color="#6d6d6d"/><stop offset=".328" stop-color="#696969"/><stop offset=".355" stop-color="#5c5c5c"/><stop offset=".379" stop-color="#4c4c4c"/><stop offset=".435" stop-color="#1f1f1f"/><stop offset=".464" stop-color="#0c0c0c"/><stop offset=".488" stop-color="#020202"/><stop offset=".509" stop-color="#000000"/><stop offset=".511" stop-color="#030303"/><stop offset=".512" stop-color="#0d0d0d"/><stop offset=".513" stop-color="#1f1f1f"/><stop offset=".516" stop-color="#535353"/><stop offset=".517" stop-color="#646464"/><stop offset=".52" stop-color="#808080"/><stop offset=".523" stop-color="#979797"/><stop offset=".528" stop-color="#bbbbbb"/><stop offset=".531" stop-color="#c4c4c4"/><stop offset=".536" stop-color="#cecece"/><stop offset=".543" stop-color="#d5d5d5"/><stop offset=".554" stop-color="#dbdbdb"/><stop offset=".573" stop-color="#e2e2e2"/><stop offset=".661" stop-color="#e8e8e8"/><stop offset=".796" stop-color="#fefefe"/><stop offset="1" stop-color="#ffffff"/></linearGradient><linearGradient id="ta16" x2="0" y2="1"><stop offset="0" stop-color="#cbcbcb"/><stop offset=".288" stop-color="#cbcbcb"/><stop offset=".293" stop-color="#c5c5c5"/><stop offset=".296" stop-color="#bdbdbd"/><stop offset=".298" stop-color="#b2b2b2"/><stop offset=".301" stop-color="#a0a0a0"/><stop offset=".305" stop-color="#7b7b7b"/><stop offset=".308" stop-color="#6e6e6e"/><stop offset=".332" stop-color="#696969"/><stop offset=".358" stop-color="#5c5c5c"/><stop offset=".382" stop-color="#4b4b4b"/><stop offset=".437" stop-color="#1f1f1f"/><stop offset=".465" stop-color="#0c0c0c"/><stop offset=".489" stop-color="#020202"/><stop offset=".511" stop-color="#000000"/><stop offset=".512" stop-color="#020202"/><stop offset=".513" stop-color="#090909"/><stop offset=".515" stop-color="#141414"/><stop offset=".516" stop-color="#252525"/><stop offset=".519" stop-color="#515151"/><stop offset=".52" stop-color="#606060"/><stop offset=".523" stop-color="#787878"/><stop offset=".527" stop-color="#959595"/><stop offset=".534" stop-color="#bbbbbb"/><stop offset=".536" stop-color="#c3c3c3"/><stop offset=".54" stop-color="#cbcbcb"/><stop offset=".555" stop-color="#d8d8d8"/><stop offset=".586" stop-color="#e3e3e3"/><stop offset=".663" stop-color="#e8e8e8"/><stop offset=".794" stop-color="#fefefe"/><stop offset="1" stop-color="#ffffff"/></linearGradient><linearGradient id="ta17" x2="0" y2="1"><stop offset="0" stop-color="#cbcbcb"/><stop offset=".289" stop-color="#cacaca"/><stop offset=".296" stop-color="#c4c4c4"/><stop offset=".301" stop-color="#b3b3b3"/><stop offset=".304" stop-color="#a4a4a4"/><stop offset=".309" stop-color="#7a7a7a"/><stop offset=".312" stop-color="#6f6f6f"/><stop offset=".313" stop-color="#6d6d6d"/><stop offset=".336" stop-color="#696969"/><stop offset=".36" stop-color="#5d5d5d"/><stop offset=".384" stop-color="#4b4b4b"/><stop offset=".44" stop-color="#1e1e1e"/><stop offset=".466" stop-color="#0c0c0c"/><stop offset=".491" stop-color="#020202"/><stop offset=".512" stop-color="#000000"/><stop offset=".513" stop-color="#010101"/><stop offset=".516" stop-color="#0c0c0c"/><stop offset=".517" stop-color="#171717"/><stop offset=".519" stop-color="#252525"/><stop offset=".52" stop-color="#363636"/><stop offset=".522" stop-color="#4b4b4b"/><stop offset=".523" stop-color="#595959"/><stop offset=".528" stop-color="#808080"/><stop offset=".532" stop-color="#979797"/><stop offset=".54" stop-color="#bcbcbc"/><stop offset=".543" stop-color="#c4c4c4"/><stop offset=".548" stop-color="#cccccc"/><stop offset=".565" stop-color="#d9d9d9"/><stop offset=".598" stop-color="#e4e4e4"/><stop offset=".664" stop-color="#e9e9e9"/><stop offset=".794" stop-color="#fefefe"/><stop offset="1" stop-color="#ffffff"/></linearGradient><linearGradient id="ta18" x2="0" y2="1"><stop offset="0" stop-color="#cbcbcb"/><stop offset=".29" stop-color="#cbcbcb"/><stop offset=".297" stop-color="#c6c6c6"/><stop offset=".304" stop-color="#b5b5b5"/><stop offset=".308" stop-color="#a2a2a2"/><stop offset=".313" stop-color="#7c7c7c"/><stop offset=".316" stop-color="#717171"/><stop offset=".317" stop-color="#6e6e6e"/><stop offset=".34" stop-color="#696969"/><stop offset=".364" stop-color="#5d5d5d"/><stop offset=".387" stop-color="#4c4c4c"/><stop offset=".442" stop-color="#1d1d1d"/><stop offset=".469" stop-color="#0b0b0b"/><stop offset=".492" stop-color="#020202"/><stop offset=".513" stop-color="#000000"/><stop offset=".516" stop-color="#030303"/><stop offset=".519" stop-color="#0f0f0f"/><stop offset=".522" stop-color="#252525"/><stop offset=".526" stop-color="#525252"/><stop offset=".528" stop-color="#666666"/><stop offset=".532" stop-color="#7e7e7e"/><stop offset=".536" stop-color="#939393"/><stop offset=".546" stop-color="#b9b9b9"/><stop offset=".55" stop-color="#c4c4c4"/><stop offset=".555" stop-color="#cccccc"/><stop offset=".573" stop-color="#d9d9d9"/><stop offset=".609" stop-color="#e4e4e4"/><stop offset=".668" stop-color="#e9e9e9"/><stop offset=".793" stop-color="#fefefe"/><stop offset="1" stop-color="#ffffff"/></linearGradient><linearGradient id="ta19" x2="0" y2="1"><stop offset="0" stop-color="#cbcbcb"/><stop offset=".293" stop-color="#cbcbcb"/><stop offset=".301" stop-color="#c4c4c4"/><stop offset=".308" stop-color="#b4b4b4"/><stop offset=".312" stop-color="#a3a3a3"/><stop offset=".319" stop-color="#7a7a7a"/><stop offset=".323" stop-color="#6e6e6e"/><stop offset=".345" stop-color="#696969"/><stop offset=".368" stop-color="#5d5d5d"/><stop offset=".391" stop-color="#4c4c4c"/><stop offset=".444" stop-color="#1e1e1e"/><stop offset=".47" stop-color="#0b0b0b"/><stop offset=".493" stop-color="#020202"/><stop offset=".516" stop-color="#000000"/><stop offset=".519" stop-color="#050505"/><stop offset=".522" stop-color="#101010"/><stop offset=".526" stop-color="#303030"/><stop offset=".528" stop-color="#4d4d4d"/><stop offset=".53" stop-color="#575757"/><stop offset=".535" stop-color="#757575"/><stop offset=".542" stop-color="#949494"/><stop offset=".551" stop-color="#b5b5b5"/><stop offset=".555" stop-color="#c1c1c1"/><stop offset=".56" stop-color="#cacaca"/><stop offset=".567" stop-color="#d1d1d1"/><stop offset=".579" stop-color="#d9d9d9"/><stop offset=".613" stop-color="#e3e3e3"/><stop offset=".673" stop-color="#eaeaea"/><stop offset=".792" stop-color="#fefefe"/><stop offset="1" stop-color="#ffffff"/></linearGradient><linearGradient id="ta20" x2="0" y2="1"><stop offset="0" stop-color="#cccccc"/><stop offset=".296" stop-color="#cbcbcb"/><stop offset=".304" stop-color="#c6c6c6"/><stop offset=".312" stop-color="#b6b6b6"/><stop offset=".316" stop-color="#a8a8a8"/><stop offset=".324" stop-color="#7d7d7d"/><stop offset=".327" stop-color="#747474"/><stop offset=".329" stop-color="#6e6e6e"/><stop offset=".351" stop-color="#6a6a6a"/><stop offset=".374" stop-color="#5d5d5d"/><stop offset=".395" stop-color="#4c4c4c"/><stop offset=".446" stop-color="#1e1e1e"/><stop offset=".473" stop-color="#0b0b0b"/><stop offset=".495" stop-color="#020202"/><stop offset=".517" stop-color="#000000"/><stop offset=".52" stop-color="#030303"/><stop offset=".524" stop-color="#111111"/><stop offset=".528" stop-color="#2c2c2c"/><stop offset=".532" stop-color="#505050"/><stop offset=".534" stop-color="#595959"/><stop offset=".542" stop-color="#7f7f7f"/><stop offset=".548" stop-color="#989898"/><stop offset=".56" stop-color="#bdbdbd"/><stop offset=".565" stop-color="#c6c6c6"/><stop offset=".573" stop-color="#cfcfcf"/><stop offset=".585" stop-color="#d7d7d7"/><stop offset=".614" stop-color="#e0e0e0"/><stop offset=".79" stop-color="#fdfdfd"/><stop offset="1" stop-color="#ffffff"/></linearGradient><linearGradient id="ta21" x2="0" y2="1"><stop offset="0" stop-color="#cccccc"/><stop offset=".3" stop-color="#cbcbcb"/><stop offset=".309" stop-color="#c5c5c5"/><stop offset=".317" stop-color="#b5b5b5"/><stop offset=".321" stop-color="#a9a9a9"/><stop offset=".331" stop-color="#7c7c7c"/><stop offset=".336" stop-color="#6f6f6f"/><stop offset=".356" stop-color="#6a6a6a"/><stop offset=".379" stop-color="#5d5d5d"/><stop offset=".399" stop-color="#4d4d4d"/><stop offset=".449" stop-color="#1e1e1e"/><stop offset=".474" stop-color="#0b0b0b"/><stop offset=".496" stop-color="#010101"/><stop offset=".519" stop-color="#000000"/><stop offset=".523" stop-color="#040404"/><stop offset=".527" stop-color="#111111"/><stop offset=".531" stop-color="#292929"/><stop offset=".535" stop-color="#494949"/><stop offset=".538" stop-color="#595959"/><stop offset=".546" stop-color="#7c7c7c"/><stop offset=".552" stop-color="#949494"/><stop offset=".567" stop-color="#bcbcbc"/><stop offset=".571" stop-color="#c5c5c5"/><stop offset=".579" stop-color="#cecece"/><stop offset=".59" stop-color="#d5d5d5"/><stop offset=".614" stop-color="#dedede"/><stop offset=".789" stop-color="#fdfdfd"/><stop offset="1" stop-color="#ffffff"/></linearGradient><linearGradient id="ta22" x2="0" y2="1"><stop offset="0" stop-color="#cdcdcd"/><stop offset=".305" stop-color="#cccccc"/><stop offset=".315" stop-color="#c5c5c5"/><stop offset=".324" stop-color="#b4b4b4"/><stop offset=".328" stop-color="#a8a8a8"/><stop offset=".337" stop-color="#7e7e7e"/><stop offset=".341" stop-color="#737373"/><stop offset=".344" stop-color="#6f6f6f"/><stop offset=".363" stop-color="#6b6b6b"/><stop offset=".384" stop-color="#5e5e5e"/><stop offset=".405" stop-color="#4d4d4d"/><stop offset=".453" stop-color="#1d1d1d"/><stop offset=".477" stop-color="#0a0a0a"/><stop offset=".497" stop-color="#010101"/><stop offset=".522" stop-color="#000000"/><stop offset=".526" stop-color="#050505"/><stop offset=".53" stop-color="#101010"/><stop offset=".535" stop-color="#2c2c2c"/><stop offset=".539" stop-color="#4a4a4a"/><stop offset=".542" stop-color="#595959"/><stop offset=".55" stop-color="#787878"/><stop offset=".558" stop-color="#929292"/><stop offset=".574" stop-color="#bababa"/><stop offset=".579" stop-color="#c5c5c5"/><stop offset=".587" stop-color="#cecece"/><stop offset=".597" stop-color="#d4d4d4"/><stop offset=".618" stop-color="#dcdcdc"/><stop offset=".702" stop-color="#efefef"/><stop offset=".786" stop-color="#fdfdfd"/><stop offset=".817" stop-color="#ffffff"/><stop offset="1" stop-color="#ffffff"/></linearGradient><linearGradient id="ta23" x2="0" y2="1"><stop offset="0" stop-color="#cecece"/><stop offset=".31" stop-color="#cdcdcd"/><stop offset=".32" stop-color="#c7c7c7"/><stop offset=".331" stop-color="#b5b5b5"/><stop offset=".336" stop-color="#a5a5a5"/><stop offset=".345" stop-color="#7f7f7f"/><stop offset=".352" stop-color="#707070"/><stop offset=".371" stop-color="#6b6b6b"/><stop offset=".391" stop-color="#5f5f5f"/><stop offset=".41" stop-color="#4d4d4d"/><stop offset=".457" stop-color="#1c1c1c"/><stop offset=".48" stop-color="#0a0a0a"/><stop offset=".5" stop-color="#010101"/><stop offset=".523" stop-color="#000000"/><stop offset=".527" stop-color="#030303"/><stop offset=".532" stop-color="#101010"/><stop offset=".535" stop-color="#1b1b1b"/><stop offset=".539" stop-color="#2f2f2f"/><stop offset=".543" stop-color="#4a4a4a"/><stop offset=".546" stop-color="#585858"/><stop offset=".555" stop-color="#797979"/><stop offset=".563" stop-color="#919191"/><stop offset=".587" stop-color="#c5c5c5"/><stop offset=".594" stop-color="#cccccc"/><stop offset=".603" stop-color="#d3d3d3"/><stop offset=".629" stop-color="#dcdcdc"/><stop offset=".718" stop-color="#f1f1f1"/><stop offset=".785" stop-color="#fdfdfd"/><stop offset=".817" stop-color="#ffffff"/><stop offset="1" stop-color="#ffffff"/></linearGradient><linearGradient id="ta24" x2="0" y2="1"><stop offset="0" stop-color="#cfcfcf"/><stop offset=".309" stop-color="#cfcfcf"/><stop offset=".317" stop-color="#cdcdcd"/><stop offset=".327" stop-color="#c8c8c8"/><stop offset=".337" stop-color="#b7b7b7"/><stop offset=".343" stop-color="#aaaaaa"/><stop offset=".355" stop-color="#7d7d7d"/><stop offset=".362" stop-color="#707070"/><stop offset=".379" stop-color="#6c6c6c"/><stop offset=".398" stop-color="#5f5f5f"/><stop offset=".415" stop-color="#4e4e4e"/><stop offset=".46" stop-color="#1d1d1d"/><stop offset=".483" stop-color="#090909"/><stop offset=".501" stop-color="#010101"/><stop offset=".526" stop-color="#000000"/><stop offset=".53" stop-color="#030303"/><stop offset=".534" stop-color="#0b0b0b"/><stop offset=".536" stop-color="#131313"/><stop offset=".542" stop-color="#2a2a2a"/><stop offset=".548" stop-color="#515151"/><stop offset=".551" stop-color="#5c5c5c"/><stop offset=".56" stop-color="#797979"/><stop offset=".569" stop-color="#8f8f8f"/><stop offset=".595" stop-color="#c4c4c4"/><stop offset=".601" stop-color="#cacaca"/><stop offset=".612" stop-color="#d2d2d2"/><stop offset=".644" stop-color="#dddddd"/><stop offset=".724" stop-color="#f2f2f2"/><stop offset=".782" stop-color="#fdfdfd"/><stop offset=".817" stop-color="#ffffff"/><stop offset="1" stop-color="#ffffff"/></linearGradient><linearGradient id="ta25" x2="0" y2="1"><stop offset="0" stop-color="#d0d0d0"/><stop offset=".315" stop-color="#d0d0d0"/><stop offset=".325" stop-color="#cecece"/><stop offset=".335" stop-color="#c8c8c8"/><stop offset=".347" stop-color="#b6b6b6"/><stop offset=".352" stop-color="#a8a8a8"/><stop offset=".364" stop-color="#7d7d7d"/><stop offset=".371" stop-color="#717171"/><stop offset=".388" stop-color="#6c6c6c"/><stop offset=".406" stop-color="#5f5f5f"/><stop offset=".422" stop-color="#4f4f4f"/><stop offset=".464" stop-color="#1d1d1d"/><stop offset=".485" stop-color="#090909"/><stop offset=".503" stop-color="#010101"/><stop offset=".528" stop-color="#000000"/><stop offset=".532" stop-color="#040404"/><stop offset=".539" stop-color="#121212"/><stop offset=".546" stop-color="#2c2c2c"/><stop offset=".552" stop-color="#505050"/><stop offset=".555" stop-color="#5a5a5a"/><stop offset=".562" stop-color="#6f6f6f"/><stop offset=".574" stop-color="#8e8e8e"/><stop offset=".582" stop-color="#9e9e9e"/><stop offset=".602" stop-color="#c1c1c1"/><stop offset=".609" stop-color="#cacaca"/><stop offset=".618" stop-color="#d0d0d0"/><stop offset=".671" stop-color="#e2e2e2"/><stop offset=".745" stop-color="#f6f6f6"/><stop offset=".784" stop-color="#fdfdfd"/><stop offset=".817" stop-color="#ffffff"/><stop offset="1" stop-color="#ffffff"/></linearGradient><linearGradient id="ta26" x2="0" y2="1"><stop offset="0" stop-color="#d2d2d2"/><stop offset=".323" stop-color="#d2d2d2"/><stop offset=".333" stop-color="#cfcfcf"/><stop offset=".343" stop-color="#cacaca"/><stop offset=".355" stop-color="#b9b9b9"/><stop offset=".362" stop-color="#a9a9a9"/><stop offset=".374" stop-color="#808080"/><stop offset=".38" stop-color="#737373"/><stop offset=".398" stop-color="#6d6d6d"/><stop offset=".414" stop-color="#606060"/><stop offset=".43" stop-color="#4e4e4e"/><stop offset=".468" stop-color="#1d1d1d"/><stop offset=".488" stop-color="#090909"/><stop offset=".504" stop-color="#000000"/><stop offset=".53" stop-color="#000000"/><stop offset=".535" stop-color="#040404"/><stop offset=".542" stop-color="#101010"/><stop offset=".55" stop-color="#2d2d2d"/><stop offset=".556" stop-color="#4e4e4e"/><stop offset=".559" stop-color="#595959"/><stop offset=".566" stop-color="#6c6c6c"/><stop offset=".579" stop-color="#8c8c8c"/><stop offset=".589" stop-color="#9e9e9e"/><stop offset=".612" stop-color="#c2c2c2"/><stop offset=".618" stop-color="#cacaca"/><stop offset=".628" stop-color="#d0d0d0"/><stop offset=".687" stop-color="#e5e5e5"/><stop offset=".751" stop-color="#f6f6f6"/><stop offset=".79" stop-color="#fdfdfd"/><stop offset=".817" stop-color="#ffffff"/><stop offset="1" stop-color="#ffffff"/></linearGradient><linearGradient id="ta27" x2="0" y2="1"><stop offset="0" stop-color="#d3d3d3"/><stop offset=".331" stop-color="#d3d3d3"/><stop offset=".344" stop-color="#d0d0d0"/><stop offset=".353" stop-color="#c9c9c9"/><stop offset=".366" stop-color="#b8b8b8"/><stop offset=".371" stop-color="#acacac"/><stop offset=".384" stop-color="#808080"/><stop offset=".391" stop-color="#747474"/><stop offset=".407" stop-color="#6e6e6e"/><stop offset=".422" stop-color="#616161"/><stop offset=".437" stop-color="#4f4f4f"/><stop offset=".473" stop-color="#1b1b1b"/><stop offset=".491" stop-color="#080808"/><stop offset=".505" stop-color="#000000"/><stop offset=".532" stop-color="#000000"/><stop offset=".538" stop-color="#040404"/><stop offset=".546" stop-color="#121212"/><stop offset=".554" stop-color="#2d2d2d"/><stop offset=".56" stop-color="#4d4d4d"/><stop offset=".565" stop-color="#5b5b5b"/><stop offset=".573" stop-color="#707070"/><stop offset=".586" stop-color="#8d8d8d"/><stop offset=".597" stop-color="#a0a0a0"/><stop offset=".62" stop-color="#c1c1c1"/><stop offset=".626" stop-color="#c9c9c9"/><stop offset=".637" stop-color="#cfcfcf"/><stop offset=".703" stop-color="#e7e7e7"/><stop offset=".758" stop-color="#f6f6f6"/><stop offset=".794" stop-color="#fdfdfd"/><stop offset=".831" stop-color="#ffffff"/><stop offset="1" stop-color="#ffffff"/></linearGradient><linearGradient id="ta28" x2="0" y2="1"><stop offset="0" stop-color="#d5d5d5"/><stop offset=".339" stop-color="#d5d5d5"/><stop offset=".353" stop-color="#d1d1d1"/><stop offset=".364" stop-color="#cacaca"/><stop offset=".376" stop-color="#b9b9b9"/><stop offset=".382" stop-color="#acacac"/><stop offset=".395" stop-color="#828282"/><stop offset=".402" stop-color="#757575"/><stop offset=".418" stop-color="#6e6e6e"/><stop offset=".431" stop-color="#616161"/><stop offset=".445" stop-color="#4e4e4e"/><stop offset=".474" stop-color="#1f1f1f"/><stop offset=".487" stop-color="#0f0f0f"/><stop offset=".496" stop-color="#060606"/><stop offset=".505" stop-color="#010101"/><stop offset=".535" stop-color="#000000"/><stop offset=".54" stop-color="#040404"/><stop offset=".548" stop-color="#111111"/><stop offset=".558" stop-color="#2e2e2e"/><stop offset=".566" stop-color="#505050"/><stop offset=".569" stop-color="#595959"/><stop offset=".577" stop-color="#6d6d6d"/><stop offset=".591" stop-color="#8b8b8b"/><stop offset=".603" stop-color="#9f9f9f"/><stop offset=".629" stop-color="#c1c1c1"/><stop offset=".637" stop-color="#cacaca"/><stop offset=".647" stop-color="#cfcfcf"/><stop offset=".667" stop-color="#d9d9d9"/><stop offset=".715" stop-color="#e9e9e9"/><stop offset=".797" stop-color="#fcfcfc"/><stop offset=".851" stop-color="#ffffff"/><stop offset="1" stop-color="#ffffff"/></linearGradient><linearGradient id="ta29" x2="0" y2="1"><stop offset="0" stop-color="#d6d6d6"/><stop offset=".348" stop-color="#d6d6d6"/><stop offset=".364" stop-color="#d2d2d2"/><stop offset=".374" stop-color="#cacaca"/><stop offset=".386" stop-color="#b9b9b9"/><stop offset=".391" stop-color="#adadad"/><stop offset=".405" stop-color="#838383"/><stop offset=".411" stop-color="#777777"/><stop offset=".414" stop-color="#747474"/><stop offset=".429" stop-color="#6e6e6e"/><stop offset=".438" stop-color="#666666"/><stop offset=".45" stop-color="#545454"/><stop offset=".478" stop-color="#232323"/><stop offset=".491" stop-color="#111111"/><stop offset=".499" stop-color="#090909"/><stop offset=".508" stop-color="#030303"/><stop offset=".536" stop-color="#000000"/><stop offset=".543" stop-color="#040404"/><stop offset=".552" stop-color="#131313"/><stop offset=".562" stop-color="#2f2f2f"/><stop offset=".569" stop-color="#4b4b4b"/><stop offset=".573" stop-color="#585858"/><stop offset=".581" stop-color="#6b6b6b"/><stop offset=".597" stop-color="#8b8b8b"/><stop offset=".609" stop-color="#9e9e9e"/><stop offset=".637" stop-color="#c2c2c2"/><stop offset=".645" stop-color="#cacaca"/><stop offset=".656" stop-color="#d0d0d0"/><stop offset=".677" stop-color="#dadada"/><stop offset=".724" stop-color="#eaeaea"/><stop offset=".798" stop-color="#fbfbfb"/><stop offset=".867" stop-color="#ffffff"/><stop offset="1" stop-color="#ffffff"/></linearGradient><linearGradient id="ta30" x2="0" y2="1"><stop offset="0" stop-color="#d7d7d7"/><stop offset=".353" stop-color="#d7d7d7"/><stop offset=".37" stop-color="#d3d3d3"/><stop offset=".38" stop-color="#cacaca"/><stop offset=".392" stop-color="#b9b9b9"/><stop offset=".398" stop-color="#adadad"/><stop offset=".411" stop-color="#838383"/><stop offset=".418" stop-color="#777777"/><stop offset=".421" stop-color="#747474"/><stop offset=".431" stop-color="#737373"/><stop offset=".44" stop-color="#7a7a7a"/><stop offset=".445" stop-color="#787878"/><stop offset=".456" stop-color="#6a6a6a"/><stop offset=".481" stop-color="#424242"/><stop offset=".497" stop-color="#2c2c2c"/><stop offset=".509" stop-color="#151515"/><stop offset=".519" stop-color="#070707"/><stop offset=".526" stop-color="#010101"/><stop offset=".538" stop-color="#000000"/><stop offset=".544" stop-color="#040404"/><stop offset=".554" stop-color="#121212"/><stop offset=".565" stop-color="#313131"/><stop offset=".571" stop-color="#4c4c4c"/><stop offset=".575" stop-color="#585858"/><stop offset=".583" stop-color="#6b6b6b"/><stop offset=".601" stop-color="#8c8c8c"/><stop offset=".613" stop-color="#9e9e9e"/><stop offset=".642" stop-color="#c2c2c2"/><stop offset=".651" stop-color="#cacaca"/><stop offset=".661" stop-color="#d1d1d1"/><stop offset=".683" stop-color="#dbdbdb"/><stop offset=".73" stop-color="#ebebeb"/><stop offset=".798" stop-color="#fafafa"/><stop offset=".875" stop-color="#ffffff"/><stop offset="1" stop-color="#ffffff"/></linearGradient><linearGradient id="ta31" x2="0" y2="1"><stop offset="0" stop-color="#d7d7d7"/><stop offset=".358" stop-color="#d7d7d7"/><stop offset=".375" stop-color="#d3d3d3"/><stop offset=".384" stop-color="#cbcbcb"/><stop offset=".397" stop-color="#bbbbbb"/><stop offset=".402" stop-color="#afafaf"/><stop offset=".415" stop-color="#868686"/><stop offset=".423" stop-color="#777777"/><stop offset=".426" stop-color="#757575"/><stop offset=".435" stop-color="#757575"/><stop offset=".437" stop-color="#767676"/><stop offset=".445" stop-color="#8a8a8a"/><stop offset=".449" stop-color="#8c8c8c"/><stop offset=".453" stop-color="#8a8a8a"/><stop offset=".495" stop-color="#555555"/><stop offset=".5" stop-color="#484848"/><stop offset=".516" stop-color="#191919"/><stop offset=".524" stop-color="#070707"/><stop offset=".53" stop-color="#000000"/><stop offset=".539" stop-color="#000000"/><stop offset=".546" stop-color="#040404"/><stop offset=".555" stop-color="#121212"/><stop offset=".566" stop-color="#2f2f2f"/><stop offset=".574" stop-color="#4f4f4f"/><stop offset=".578" stop-color="#5a5a5a"/><stop offset=".586" stop-color="#6c6c6c"/><stop offset=".602" stop-color="#898989"/><stop offset=".614" stop-color="#9b9b9b"/><stop offset=".647" stop-color="#c3c3c3"/><stop offset=".655" stop-color="#cacaca"/><stop offset=".665" stop-color="#d1d1d1"/><stop offset=".688" stop-color="#dcdcdc"/><stop offset=".733" stop-color="#ebebeb"/><stop offset=".798" stop-color="#fafafa"/><stop offset=".88" stop-color="#ffffff"/><stop offset="1" stop-color="#ffffff"/></linearGradient><linearGradient id="ta32" x2="0" y2="1"><stop offset="0" stop-color="#d8d8d8"/><stop offset=".362" stop-color="#d8d8d8"/><stop offset=".379" stop-color="#d3d3d3"/><stop offset=".388" stop-color="#cccccc"/><stop offset=".401" stop-color="#bcbcbc"/><stop offset=".406" stop-color="#b0b0b0"/><stop offset=".421" stop-color="#848484"/><stop offset=".429" stop-color="#767676"/><stop offset=".433" stop-color="#757575"/><stop offset=".441" stop-color="#787878"/><stop offset=".449" stop-color="#969696"/><stop offset=".453" stop-color="#9c9c9c"/><stop offset=".456" stop-color="#9d9d9d"/><stop offset=".495" stop-color="#767676"/><stop offset=".501" stop-color="#616161"/><stop offset=".517" stop-color="#232323"/><stop offset=".524" stop-color="#0f0f0f"/><stop offset=".531" stop-color="#020202"/><stop offset=".54" stop-color="#000000"/><stop offset=".547" stop-color="#040404"/><stop offset=".556" stop-color="#121212"/><stop offset=".567" stop-color="#2f2f2f"/><stop offset=".575" stop-color="#4d4d4d"/><stop offset=".579" stop-color="#595959"/><stop offset=".587" stop-color="#6b6b6b"/><stop offset=".605" stop-color="#8a8a8a"/><stop offset=".617" stop-color="#9b9b9b"/><stop offset=".649" stop-color="#c2c2c2"/><stop offset=".657" stop-color="#cacaca"/><stop offset=".668" stop-color="#d1d1d1"/><stop offset=".691" stop-color="#dcdcdc"/><stop offset=".735" stop-color="#ebebeb"/><stop offset=".798" stop-color="#f9f9f9"/><stop offset=".884" stop-color="#fefefe"/><stop offset="1" stop-color="#ffffff"/></linearGradient><linearGradient id="ta33" x2="0" y2="1"><stop offset="0" stop-color="#d8d8d8"/><stop offset=".366" stop-color="#d8d8d8"/><stop offset=".383" stop-color="#d4d4d4"/><stop offset=".392" stop-color="#cdcdcd"/><stop offset=".405" stop-color="#bdbdbd"/><stop offset=".411" stop-color="#aeaeae"/><stop offset=".425" stop-color="#858585"/><stop offset=".434" stop-color="#767676"/><stop offset=".438" stop-color="#767676"/><stop offset=".445" stop-color="#797979"/><stop offset=".446" stop-color="#7c7c7c"/><stop offset=".453" stop-color="#9e9e9e"/><stop offset=".456" stop-color="#a5a5a5"/><stop offset=".46" stop-color="#aaaaaa"/><stop offset=".466" stop-color="#a8a8a8"/><stop offset=".495" stop-color="#949494"/><stop offset=".5" stop-color="#828282"/><stop offset=".517" stop-color="#333333"/><stop offset=".526" stop-color="#141414"/><stop offset=".53" stop-color="#090909"/><stop offset=".534" stop-color="#020202"/><stop offset=".542" stop-color="#000000"/><stop offset=".548" stop-color="#050505"/><stop offset=".558" stop-color="#121212"/><stop offset=".569" stop-color="#2e2e2e"/><stop offset=".577" stop-color="#4c4c4c"/><stop offset=".581" stop-color="#585858"/><stop offset=".589" stop-color="#6a6a6a"/><stop offset=".606" stop-color="#888888"/><stop offset=".62" stop-color="#9c9c9c"/><stop offset=".653" stop-color="#c3c3c3"/><stop offset=".661" stop-color="#cbcbcb"/><stop offset=".672" stop-color="#d2d2d2"/><stop offset=".695" stop-color="#dcdcdc"/><stop offset=".737" stop-color="#ebebeb"/><stop offset=".798" stop-color="#f9f9f9"/><stop offset=".887" stop-color="#fefefe"/><stop offset="1" stop-color="#ffffff"/></linearGradient><linearGradient id="ta34" x2="0" y2="1"><stop offset="0" stop-color="#d9d9d9"/><stop offset=".37" stop-color="#d9d9d9"/><stop offset=".387" stop-color="#d4d4d4"/><stop offset=".397" stop-color="#cdcdcd"/><stop offset=".409" stop-color="#bdbdbd"/><stop offset=".415" stop-color="#aeaeae"/><stop offset=".429" stop-color="#858585"/><stop offset=".435" stop-color="#797979"/><stop offset=".44" stop-color="#767676"/><stop offset=".446" stop-color="#787878"/><stop offset=".45" stop-color="#7e7e7e"/><stop offset=".457" stop-color="#a2a2a2"/><stop offset=".46" stop-color="#aaaaaa"/><stop offset=".464" stop-color="#b2b2b2"/><stop offset=".469" stop-color="#b2b2b2"/><stop offset=".496" stop-color="#a6a6a6"/><stop offset=".503" stop-color="#898989"/><stop offset=".52" stop-color="#333333"/><stop offset=".527" stop-color="#181818"/><stop offset=".531" stop-color="#0b0b0b"/><stop offset=".535" stop-color="#030303"/><stop offset=".542" stop-color="#000000"/><stop offset=".55" stop-color="#050505"/><stop offset=".559" stop-color="#131313"/><stop offset=".57" stop-color="#2f2f2f"/><stop offset=".578" stop-color="#4c4c4c"/><stop offset=".582" stop-color="#585858"/><stop offset=".59" stop-color="#696969"/><stop offset=".608" stop-color="#878787"/><stop offset=".621" stop-color="#9a9a9a"/><stop offset=".656" stop-color="#c3c3c3"/><stop offset=".664" stop-color="#cbcbcb"/><stop offset=".675" stop-color="#d2d2d2"/><stop offset=".698" stop-color="#dcdcdc"/><stop offset=".738" stop-color="#ebebeb"/><stop offset=".798" stop-color="#f8f8f8"/><stop offset=".89" stop-color="#fefefe"/><stop offset="1" stop-color="#ffffff"/></linearGradient><linearGradient id="ta35" x2="0" y2="1"><stop offset="0" stop-color="#d9d9d9"/><stop offset=".38" stop-color="#d8d8d8"/><stop offset=".395" stop-color="#d2d2d2"/><stop offset=".41" stop-color="#c1c1c1"/><stop offset=".418" stop-color="#b2b2b2"/><stop offset=".434" stop-color="#838383"/><stop offset=".44" stop-color="#7a7a7a"/><stop offset=".444" stop-color="#767676"/><stop offset=".45" stop-color="#797979"/><stop offset=".454" stop-color="#7e7e7e"/><stop offset=".461" stop-color="#a3a3a3"/><stop offset=".464" stop-color="#acacac"/><stop offset=".468" stop-color="#b4b4b4"/><stop offset=".472" stop-color="#b6b6b6"/><stop offset=".496" stop-color="#b2b2b2"/><stop offset=".497" stop-color="#b1b1b1"/><stop offset=".501" stop-color="#9f9f9f"/><stop offset=".52" stop-color="#3d3d3d"/><stop offset=".528" stop-color="#1a1a1a"/><stop offset=".532" stop-color="#0d0d0d"/><stop offset=".536" stop-color="#040404"/><stop offset=".539" stop-color="#010101"/><stop offset=".543" stop-color="#000000"/><stop offset=".551" stop-color="#060606"/><stop offset=".56" stop-color="#131313"/><stop offset=".571" stop-color="#2f2f2f"/><stop offset=".581" stop-color="#505050"/><stop offset=".585" stop-color="#5b5b5b"/><stop offset=".593" stop-color="#6b6b6b"/><stop offset=".61" stop-color="#888888"/><stop offset=".624" stop-color="#9b9b9b"/><stop offset=".659" stop-color="#c3c3c3"/><stop offset=".668" stop-color="#cccccc"/><stop offset=".679" stop-color="#d2d2d2"/><stop offset=".702" stop-color="#dddddd"/><stop offset=".741" stop-color="#ebebeb"/><stop offset=".798" stop-color="#f8f8f8"/><stop offset=".892" stop-color="#fefefe"/><stop offset="1" stop-color="#ffffff"/></linearGradient><linearGradient id="ta36" x2="0" y2="1"><stop offset="0" stop-color="#d9d9d9"/><stop offset=".383" stop-color="#d9d9d9"/><stop offset=".399" stop-color="#d2d2d2"/><stop offset=".414" stop-color="#c2c2c2"/><stop offset=".422" stop-color="#b2b2b2"/><stop offset=".438" stop-color="#848484"/><stop offset=".445" stop-color="#797979"/><stop offset=".449" stop-color="#777777"/><stop offset=".454" stop-color="#797979"/><stop offset=".458" stop-color="#7e7e7e"/><stop offset=".466" stop-color="#a6a6a6"/><stop offset=".472" stop-color="#b1b1b1"/><stop offset=".476" stop-color="#b4b4b4"/><stop offset=".497" stop-color="#b5b5b5"/><stop offset=".499" stop-color="#b4b4b4"/><stop offset=".503" stop-color="#a1a1a1"/><stop offset=".52" stop-color="#444444"/><stop offset=".528" stop-color="#1f1f1f"/><stop offset=".532" stop-color="#111111"/><stop offset=".536" stop-color="#070707"/><stop offset=".54" stop-color="#010101"/><stop offset=".543" stop-color="#000000"/><stop offset=".551" stop-color="#040404"/><stop offset=".562" stop-color="#141414"/><stop offset=".573" stop-color="#2f2f2f"/><stop offset=".582" stop-color="#505050"/><stop offset=".586" stop-color="#5a5a5a"/><stop offset=".594" stop-color="#6a6a6a"/><stop offset=".612" stop-color="#878787"/><stop offset=".625" stop-color="#9a9a9a"/><stop offset=".661" stop-color="#c3c3c3"/><stop offset=".671" stop-color="#cccccc"/><stop offset=".681" stop-color="#d3d3d3"/><stop offset=".704" stop-color="#dddddd"/><stop offset=".742" stop-color="#ebebeb"/><stop offset=".798" stop-color="#f8f8f8"/><stop offset=".895" stop-color="#fefefe"/><stop offset="1" stop-color="#ffffff"/></linearGradient><linearGradient id="ta37" x2="0" y2="1"><stop offset="0" stop-color="#dadada"/><stop offset=".387" stop-color="#d9d9d9"/><stop offset=".403" stop-color="#d3d3d3"/><stop offset=".418" stop-color="#c3c3c3"/><stop offset=".426" stop-color="#b3b3b3"/><stop offset=".442" stop-color="#858585"/><stop offset=".449" stop-color="#7a7a7a"/><stop offset=".453" stop-color="#777777"/><stop offset=".462" stop-color="#7d7d7d"/><stop offset=".47" stop-color="#a0a0a0"/><stop offset=".477" stop-color="#acacac"/><stop offset=".5" stop-color="#afafaf"/><stop offset=".505" stop-color="#969696"/><stop offset=".522" stop-color="#414141"/><stop offset=".528" stop-color="#222222"/><stop offset=".532" stop-color="#141414"/><stop offset=".536" stop-color="#080808"/><stop offset=".54" stop-color="#020202"/><stop offset=".544" stop-color="#000000"/><stop offset=".551" stop-color="#040404"/><stop offset=".562" stop-color="#111111"/><stop offset=".574" stop-color="#2f2f2f"/><stop offset=".583" stop-color="#4f4f4f"/><stop offset=".587" stop-color="#5a5a5a"/><stop offset=".597" stop-color="#6c6c6c"/><stop offset=".613" stop-color="#868686"/><stop offset=".628" stop-color="#9a9a9a"/><stop offset=".664" stop-color="#c3c3c3"/><stop offset=".673" stop-color="#cccccc"/><stop offset=".684" stop-color="#d3d3d3"/><stop offset=".707" stop-color="#dedede"/><stop offset=".743" stop-color="#ebebeb"/><stop offset=".798" stop-color="#f7f7f7"/><stop offset=".897" stop-color="#fefefe"/><stop offset="1" stop-color="#ffffff"/></linearGradient><linearGradient id="ta38" x2="0" y2="1"><stop offset="0" stop-color="#dadada"/><stop offset=".384" stop-color="#dadada"/><stop offset=".403" stop-color="#d6d6d6"/><stop offset=".413" stop-color="#cecece"/><stop offset=".425" stop-color="#bfbfbf"/><stop offset=".431" stop-color="#b0b0b0"/><stop offset=".446" stop-color="#868686"/><stop offset=".456" stop-color="#777777"/><stop offset=".466" stop-color="#7a7a7a"/><stop offset=".468" stop-color="#7d7d7d"/><stop offset=".474" stop-color="#969696"/><stop offset=".481" stop-color="#a1a1a1"/><stop offset=".501" stop-color="#a4a4a4"/><stop offset=".503" stop-color="#a1a1a1"/><stop offset=".505" stop-color="#949494"/><stop offset=".523" stop-color="#3b3b3b"/><stop offset=".53" stop-color="#1e1e1e"/><stop offset=".534" stop-color="#101010"/><stop offset=".538" stop-color="#070707"/><stop offset=".542" stop-color="#010101"/><stop offset=".546" stop-color="#000000"/><stop offset=".554" stop-color="#050505"/><stop offset=".563" stop-color="#121212"/><stop offset=".575" stop-color="#2f2f2f"/><stop offset=".585" stop-color="#4f4f4f"/><stop offset=".589" stop-color="#595959"/><stop offset=".598" stop-color="#6b6b6b"/><stop offset=".614" stop-color="#858585"/><stop offset=".629" stop-color="#999999"/><stop offset=".667" stop-color="#c3c3c3"/><stop offset=".676" stop-color="#cccccc"/><stop offset=".687" stop-color="#d3d3d3"/><stop offset=".71" stop-color="#dedede"/><stop offset=".742" stop-color="#e9e9e9"/><stop offset=".797" stop-color="#f7f7f7"/><stop offset=".895" stop-color="#fdfdfd"/><stop offset="1" stop-color="#ffffff"/></linearGradient><linearGradient id="ta39" x2="0" y2="1"><stop offset="0" stop-color="#dbdbdb"/><stop offset=".376" stop-color="#dbdbdb"/><stop offset=".392" stop-color="#dadada"/><stop offset=".406" stop-color="#d6d6d6"/><stop offset=".417" stop-color="#cecece"/><stop offset=".429" stop-color="#bebebe"/><stop offset=".435" stop-color="#b1b1b1"/><stop offset=".45" stop-color="#868686"/><stop offset=".457" stop-color="#7a7a7a"/><stop offset=".461" stop-color="#767676"/><stop offset=".472" stop-color="#787878"/><stop offset=".48" stop-color="#8d8d8d"/><stop offset=".485" stop-color="#939393"/><stop offset=".504" stop-color="#959595"/><stop offset=".522" stop-color="#404040"/><stop offset=".53" stop-color="#1e1e1e"/><stop offset=".534" stop-color="#111111"/><stop offset=".538" stop-color="#070707"/><stop offset=".542" stop-color="#010101"/><stop offset=".546" stop-color="#000000"/><stop offset=".554" stop-color="#040404"/><stop offset=".565" stop-color="#121212"/><stop offset=".577" stop-color="#2f2f2f"/><stop offset=".586" stop-color="#4e4e4e"/><stop offset=".59" stop-color="#595959"/><stop offset=".599" stop-color="#6b6b6b"/><stop offset=".617" stop-color="#868686"/><stop offset=".632" stop-color="#9a9a9a"/><stop offset=".671" stop-color="#c4c4c4"/><stop offset=".69" stop-color="#d3d3d3"/><stop offset=".712" stop-color="#dedede"/><stop offset=".742" stop-color="#e9e9e9"/><stop offset=".797" stop-color="#f6f6f6"/><stop offset=".897" stop-color="#fdfdfd"/><stop offset="1" stop-color="#ffffff"/></linearGradient><linearGradient id="ta40" x2="0" y2="1"><stop offset="0" stop-color="#dbdbdb"/><stop offset=".379" stop-color="#dbdbdb"/><stop offset=".397" stop-color="#dadada"/><stop offset=".409" stop-color="#d6d6d6"/><stop offset=".419" stop-color="#cfcfcf"/><stop offset=".433" stop-color="#bfbfbf"/><stop offset=".441" stop-color="#afafaf"/><stop offset=".457" stop-color="#838383"/><stop offset=".466" stop-color="#747474"/><stop offset=".477" stop-color="#727272"/><stop offset=".487" stop-color="#808080"/><stop offset=".493" stop-color="#838383"/><stop offset=".505" stop-color="#828282"/><stop offset=".507" stop-color="#7f7f7f"/><stop offset=".523" stop-color="#363636"/><stop offset=".531" stop-color="#181818"/><stop offset=".535" stop-color="#0d0d0d"/><stop offset=".539" stop-color="#050505"/><stop offset=".543" stop-color="#000000"/><stop offset=".547" stop-color="#000000"/><stop offset=".555" stop-color="#050505"/><stop offset=".566" stop-color="#121212"/><stop offset=".578" stop-color="#2e2e2e"/><stop offset=".587" stop-color="#4d4d4d"/><stop offset=".591" stop-color="#585858"/><stop offset=".601" stop-color="#6a6a6a"/><stop offset=".618" stop-color="#858585"/><stop offset=".634" stop-color="#9a9a9a"/><stop offset=".673" stop-color="#c4c4c4"/><stop offset=".694" stop-color="#d4d4d4"/><stop offset=".716" stop-color="#dfdfdf"/><stop offset=".746" stop-color="#e9e9e9"/><stop offset=".8" stop-color="#f6f6f6"/><stop offset=".899" stop-color="#fdfdfd"/><stop offset="1" stop-color="#ffffff"/></linearGradient><linearGradient id="ta41" x2="0" y2="1"><stop offset="0" stop-color="#dcdcdc"/><stop offset=".384" stop-color="#dcdcdc"/><stop offset=".409" stop-color="#d8d8d8"/><stop offset=".423" stop-color="#d0d0d0"/><stop offset=".438" stop-color="#bfbfbf"/><stop offset=".448" stop-color="#acacac"/><stop offset=".462" stop-color="#848484"/><stop offset=".473" stop-color="#717171"/><stop offset=".484" stop-color="#6a6a6a"/><stop offset=".492" stop-color="#6e6e6e"/><stop offset=".508" stop-color="#6b6b6b"/><stop offset=".523" stop-color="#313131"/><stop offset=".532" stop-color="#131313"/><stop offset=".54" stop-color="#030303"/><stop offset=".548" stop-color="#000000"/><stop offset=".556" stop-color="#050505"/><stop offset=".567" stop-color="#121212"/><stop offset=".581" stop-color="#313131"/><stop offset=".59" stop-color="#4f4f4f"/><stop offset=".594" stop-color="#595959"/><stop offset=".603" stop-color="#6a6a6a"/><stop offset=".62" stop-color="#838383"/><stop offset=".637" stop-color="#999999"/><stop offset=".677" stop-color="#c4c4c4"/><stop offset=".698" stop-color="#d4d4d4"/><stop offset=".747" stop-color="#e9e9e9"/><stop offset=".801" stop-color="#f6f6f6"/><stop offset=".901" stop-color="#fcfcfc"/><stop offset="1" stop-color="#ffffff"/></linearGradient><linearGradient id="ta42" x2="0" y2="1"><stop offset="0" stop-color="#dcdcdc"/><stop offset=".392" stop-color="#dddddd"/><stop offset=".413" stop-color="#d9d9d9"/><stop offset=".431" stop-color="#cecece"/><stop offset=".446" stop-color="#bcbcbc"/><stop offset=".456" stop-color="#a9a9a9"/><stop offset=".472" stop-color="#808080"/><stop offset=".48" stop-color="#707070"/><stop offset=".493" stop-color="#5e5e5e"/><stop offset=".511" stop-color="#505050"/><stop offset=".516" stop-color="#3d3d3d"/><stop offset=".524" stop-color="#252525"/><stop offset=".535" stop-color="#0b0b0b"/><stop offset=".542" stop-color="#020202"/><stop offset=".55" stop-color="#000000"/><stop offset=".558" stop-color="#040404"/><stop offset=".57" stop-color="#131313"/><stop offset=".583" stop-color="#323232"/><stop offset=".593" stop-color="#4f4f4f"/><stop offset=".597" stop-color="#595959"/><stop offset=".606" stop-color="#6a6a6a"/><stop offset=".622" stop-color="#828282"/><stop offset=".641" stop-color="#9a9a9a"/><stop offset=".681" stop-color="#c4c4c4"/><stop offset=".702" stop-color="#d4d4d4"/><stop offset=".749" stop-color="#e8e8e8"/><stop offset=".804" stop-color="#f6f6f6"/><stop offset=".901" stop-color="#fcfcfc"/><stop offset="1" stop-color="#ffffff"/></linearGradient><linearGradient id="ta43" x2="0" y2="1"><stop offset="0" stop-color="#dddddd"/><stop offset=".403" stop-color="#dedede"/><stop offset=".417" stop-color="#dbdbdb"/><stop offset=".44" stop-color="#cecece"/><stop offset=".454" stop-color="#bcbcbc"/><stop offset=".461" stop-color="#afafaf"/><stop offset=".491" stop-color="#696969"/><stop offset=".504" stop-color="#4e4e4e"/><stop offset=".512" stop-color="#424242"/><stop offset=".52" stop-color="#262626"/><stop offset=".527" stop-color="#151515"/><stop offset=".539" stop-color="#040404"/><stop offset=".544" stop-color="#000000"/><stop offset=".551" stop-color="#000000"/><stop offset=".559" stop-color="#040404"/><stop offset=".571" stop-color="#121212"/><stop offset=".585" stop-color="#2f2f2f"/><stop offset=".595" stop-color="#4f4f4f"/><stop offset=".599" stop-color="#585858"/><stop offset=".609" stop-color="#696969"/><stop offset=".626" stop-color="#828282"/><stop offset=".645" stop-color="#999999"/><stop offset=".687" stop-color="#c5c5c5"/><stop offset=".707" stop-color="#d5d5d5"/><stop offset=".751" stop-color="#e8e8e8"/><stop offset=".805" stop-color="#f5f5f5"/><stop offset="1" stop-color="#ffffff"/></linearGradient><linearGradient id="ta44" x2="0" y2="1"><stop offset="0" stop-color="#dddddd"/><stop offset=".341" stop-color="#dedede"/><stop offset=".413" stop-color="#e0e0e0"/><stop offset=".423" stop-color="#dedede"/><stop offset=".449" stop-color="#cecece"/><stop offset=".457" stop-color="#c5c5c5"/><stop offset=".465" stop-color="#bababa"/><stop offset=".495" stop-color="#757575"/><stop offset=".513" stop-color="#424242"/><stop offset=".524" stop-color="#1f1f1f"/><stop offset=".531" stop-color="#0d0d0d"/><stop offset=".535" stop-color="#060606"/><stop offset=".539" stop-color="#030303"/><stop offset=".552" stop-color="#000000"/><stop offset=".562" stop-color="#050505"/><stop offset=".574" stop-color="#131313"/><stop offset=".587" stop-color="#2f2f2f"/><stop offset=".598" stop-color="#4e4e4e"/><stop offset=".602" stop-color="#585858"/><stop offset=".612" stop-color="#686868"/><stop offset=".63" stop-color="#838383"/><stop offset=".649" stop-color="#999999"/><stop offset=".692" stop-color="#c5c5c5"/><stop offset=".712" stop-color="#d5d5d5"/><stop offset=".754" stop-color="#e7e7e7"/><stop offset=".808" stop-color="#f5f5f5"/><stop offset="1" stop-color="#fefefe"/></linearGradient><linearGradient id="ta45" x2="0" y2="1"><stop offset="0" stop-color="#dedede"/><stop offset=".351" stop-color="#dedede"/><stop offset=".425" stop-color="#e2e2e2"/><stop offset=".434" stop-color="#e0e0e0"/><stop offset=".46" stop-color="#cfcfcf"/><stop offset=".468" stop-color="#c6c6c6"/><stop offset=".476" stop-color="#b9b9b9"/><stop offset=".505" stop-color="#737373"/><stop offset=".513" stop-color="#5b5b5b"/><stop offset=".526" stop-color="#2e2e2e"/><stop offset=".538" stop-color="#0d0d0d"/><stop offset=".544" stop-color="#010101"/><stop offset=".555" stop-color="#000000"/><stop offset=".565" stop-color="#050505"/><stop offset=".577" stop-color="#131313"/><stop offset=".591" stop-color="#323232"/><stop offset=".605" stop-color="#575757"/><stop offset=".614" stop-color="#676767"/><stop offset=".632" stop-color="#7f7f7f"/><stop offset=".659" stop-color="#9f9f9f"/><stop offset=".702" stop-color="#c9c9c9"/><stop offset=".716" stop-color="#d5d5d5"/><stop offset=".757" stop-color="#e7e7e7"/><stop offset=".809" stop-color="#f4f4f4"/><stop offset="1" stop-color="#fefefe"/></linearGradient><linearGradient id="ta46" x2="0" y2="1"><stop offset="0" stop-color="#dfdfdf"/><stop offset=".355" stop-color="#dfdfdf"/><stop offset=".402" stop-color="#e1e1e1"/><stop offset=".435" stop-color="#e6e6e6"/><stop offset=".445" stop-color="#e4e4e4"/><stop offset=".47" stop-color="#d2d2d2"/><stop offset=".478" stop-color="#c9c9c9"/><stop offset=".487" stop-color="#bbbbbb"/><stop offset=".497" stop-color="#9f9f9f"/><stop offset=".515" stop-color="#777777"/><stop offset=".524" stop-color="#595959"/><stop offset=".534" stop-color="#363636"/><stop offset=".539" stop-color="#252525"/><stop offset=".551" stop-color="#070707"/><stop offset=".558" stop-color="#000000"/><stop offset=".567" stop-color="#060606"/><stop offset=".579" stop-color="#141414"/><stop offset=".594" stop-color="#323232"/><stop offset=".608" stop-color="#565656"/><stop offset=".617" stop-color="#666666"/><stop offset=".634" stop-color="#7e7e7e"/><stop offset=".661" stop-color="#9d9d9d"/><stop offset=".707" stop-color="#cacaca"/><stop offset=".722" stop-color="#d5d5d5"/><stop offset=".761" stop-color="#e6e6e6"/><stop offset=".81" stop-color="#f2f2f2"/><stop offset="1" stop-color="#fdfdfd"/></linearGradient><linearGradient id="ta47" x2="0" y2="1"><stop offset="0" stop-color="#dfdfdf"/><stop offset=".364" stop-color="#e0e0e0"/><stop offset=".41" stop-color="#e2e2e2"/><stop offset=".446" stop-color="#eaeaea"/><stop offset=".454" stop-color="#e9e9e9"/><stop offset=".464" stop-color="#e4e4e4"/><stop offset=".478" stop-color="#d7d7d7"/><stop offset=".488" stop-color="#cbcbcb"/><stop offset=".496" stop-color="#bdbdbd"/><stop offset=".507" stop-color="#a0a0a0"/><stop offset=".524" stop-color="#777777"/><stop offset=".534" stop-color="#595959"/><stop offset=".543" stop-color="#363636"/><stop offset=".548" stop-color="#252525"/><stop offset=".559" stop-color="#0a0a0a"/><stop offset=".565" stop-color="#030303"/><stop offset=".577" stop-color="#0e0e0e"/><stop offset=".583" stop-color="#181818"/><stop offset=".597" stop-color="#343434"/><stop offset=".609" stop-color="#545454"/><stop offset=".617" stop-color="#626262"/><stop offset=".626" stop-color="#707070"/><stop offset=".663" stop-color="#9b9b9b"/><stop offset=".712" stop-color="#cbcbcb"/><stop offset=".727" stop-color="#d6d6d6"/><stop offset=".766" stop-color="#e7e7e7"/><stop offset=".812" stop-color="#f1f1f1"/><stop offset=".863" stop-color="#f6f6f6"/><stop offset="1" stop-color="#fcfcfc"/></linearGradient><linearGradient id="ta48" x2="0" y2="1"><stop offset="0" stop-color="#dfdfdf"/><stop offset=".371" stop-color="#e0e0e0"/><stop offset=".41" stop-color="#e3e3e3"/><stop offset=".452" stop-color="#eeeeee"/><stop offset=".461" stop-color="#ededed"/><stop offset=".47" stop-color="#e8e8e8"/><stop offset=".485" stop-color="#dadada"/><stop offset=".495" stop-color="#cecece"/><stop offset=".503" stop-color="#c0c0c0"/><stop offset=".515" stop-color="#a0a0a0"/><stop offset=".531" stop-color="#7a7a7a"/><stop offset=".542" stop-color="#585858"/><stop offset=".554" stop-color="#2c2c2c"/><stop offset=".565" stop-color="#0f0f0f"/><stop offset=".569" stop-color="#070707"/><stop offset=".57" stop-color="#060606"/><stop offset=".579" stop-color="#0f0f0f"/><stop offset=".586" stop-color="#1a1a1a"/><stop offset=".598" stop-color="#333333"/><stop offset=".612" stop-color="#565656"/><stop offset=".628" stop-color="#6e6e6e"/><stop offset=".664" stop-color="#999999"/><stop offset=".715" stop-color="#cacaca"/><stop offset=".73" stop-color="#d5d5d5"/><stop offset=".767" stop-color="#e6e6e6"/><stop offset=".813" stop-color="#f0f0f0"/><stop offset=".867" stop-color="#f5f5f5"/><stop offset="1" stop-color="#fbfbfb"/></linearGradient><linearGradient id="ta49" x2="0" y2="1"><stop offset="0" stop-color="#e0e0e0"/><stop offset=".374" stop-color="#e0e0e0"/><stop offset=".413" stop-color="#e4e4e4"/><stop offset=".458" stop-color="#f2f2f2"/><stop offset=".466" stop-color="#f1f1f1"/><stop offset=".477" stop-color="#eaeaea"/><stop offset=".492" stop-color="#dcdcdc"/><stop offset=".501" stop-color="#cfcfcf"/><stop offset=".509" stop-color="#c1c1c1"/><stop offset=".522" stop-color="#a0a0a0"/><stop offset=".538" stop-color="#7a7a7a"/><stop offset=".547" stop-color="#5c5c5c"/><stop offset=".56" stop-color="#2b2b2b"/><stop offset=".574" stop-color="#090909"/><stop offset=".581" stop-color="#0f0f0f"/><stop offset=".587" stop-color="#1a1a1a"/><stop offset=".599" stop-color="#323232"/><stop offset=".613" stop-color="#555555"/><stop offset=".629" stop-color="#6e6e6e"/><stop offset=".667" stop-color="#9a9a9a"/><stop offset=".719" stop-color="#cbcbcb"/><stop offset=".734" stop-color="#d6d6d6"/><stop offset=".77" stop-color="#e6e6e6"/><stop offset=".813" stop-color="#efefef"/><stop offset=".87" stop-color="#f4f4f4"/><stop offset="1" stop-color="#fafafa"/></linearGradient><linearGradient id="ta50" x2="0" y2="1"><stop offset="0" stop-color="#e0e0e0"/><stop offset=".375" stop-color="#e1e1e1"/><stop offset=".414" stop-color="#e5e5e5"/><stop offset=".462" stop-color="#f4f4f4"/><stop offset=".472" stop-color="#f3f3f3"/><stop offset=".483" stop-color="#ececec"/><stop offset=".499" stop-color="#dbdbdb"/><stop offset=".508" stop-color="#cecece"/><stop offset=".516" stop-color="#bfbfbf"/><stop offset=".527" stop-color="#a1a1a1"/><stop offset=".544" stop-color="#777777"/><stop offset=".554" stop-color="#585858"/><stop offset=".566" stop-color="#2c2c2c"/><stop offset=".578" stop-color="#0c0c0c"/><stop offset=".583" stop-color="#121212"/><stop offset=".59" stop-color="#1d1d1d"/><stop offset=".601" stop-color="#323232"/><stop offset=".614" stop-color="#555555"/><stop offset=".63" stop-color="#6d6d6d"/><stop offset=".669" stop-color="#9a9a9a"/><stop offset=".722" stop-color="#cbcbcb"/><stop offset=".737" stop-color="#d6d6d6"/><stop offset=".773" stop-color="#e5e5e5"/><stop offset=".815" stop-color="#eeeeee"/><stop offset=".874" stop-color="#f3f3f3"/><stop offset="1" stop-color="#f9f9f9"/></linearGradient><linearGradient id="ta51" x2="0" y2="1"><stop offset="0" stop-color="#e0e0e0"/><stop offset=".378" stop-color="#e1e1e1"/><stop offset=".415" stop-color="#e5e5e5"/><stop offset=".466" stop-color="#f6f6f6"/><stop offset=".476" stop-color="#f6f6f6"/><stop offset=".487" stop-color="#efefef"/><stop offset=".503" stop-color="#dedede"/><stop offset=".512" stop-color="#d1d1d1"/><stop offset=".522" stop-color="#c0c0c0"/><stop offset=".532" stop-color="#a2a2a2"/><stop offset=".55" stop-color="#787878"/><stop offset=".559" stop-color="#595959"/><stop offset=".571" stop-color="#2d2d2d"/><stop offset=".582" stop-color="#101010"/><stop offset=".583" stop-color="#101010"/><stop offset=".59" stop-color="#1b1b1b"/><stop offset=".601" stop-color="#303030"/><stop offset=".616" stop-color="#555555"/><stop offset=".632" stop-color="#6d6d6d"/><stop offset=".671" stop-color="#9a9a9a"/><stop offset=".723" stop-color="#cacaca"/><stop offset=".739" stop-color="#d6d6d6"/><stop offset=".774" stop-color="#e5e5e5"/><stop offset=".815" stop-color="#ededed"/><stop offset=".876" stop-color="#f2f2f2"/><stop offset="1" stop-color="#f8f8f8"/></linearGradient><linearGradient id="ta52" x2="0" y2="1"><stop offset="0" stop-color="#e0e0e0"/><stop offset=".378" stop-color="#e1e1e1"/><stop offset=".415" stop-color="#e6e6e6"/><stop offset=".465" stop-color="#f7f7f7"/><stop offset=".48" stop-color="#f8f8f8"/><stop offset=".492" stop-color="#f0f0f0"/><stop offset=".508" stop-color="#dfdfdf"/><stop offset=".517" stop-color="#d2d2d2"/><stop offset=".527" stop-color="#c1c1c1"/><stop offset=".539" stop-color="#a0a0a0"/><stop offset=".555" stop-color="#797979"/><stop offset=".565" stop-color="#5b5b5b"/><stop offset=".578" stop-color="#2a2a2a"/><stop offset=".586" stop-color="#151515"/><stop offset=".587" stop-color="#141414"/><stop offset=".603" stop-color="#333333"/><stop offset=".617" stop-color="#545454"/><stop offset=".633" stop-color="#6d6d6d"/><stop offset=".673" stop-color="#9a9a9a"/><stop offset=".726" stop-color="#cacaca"/><stop offset=".742" stop-color="#d6d6d6"/><stop offset=".777" stop-color="#e4e4e4"/><stop offset=".815" stop-color="#ececec"/><stop offset=".879" stop-color="#f2f2f2"/><stop offset="1" stop-color="#f7f7f7"/></linearGradient><linearGradient id="ta53" x2="0" y2="1"><stop offset="0" stop-color="#e0e0e0"/><stop offset=".378" stop-color="#e2e2e2"/><stop offset=".414" stop-color="#e6e6e6"/><stop offset=".466" stop-color="#f8f8f8"/><stop offset=".485" stop-color="#f9f9f9"/><stop offset=".497" stop-color="#f1f1f1"/><stop offset=".513" stop-color="#e0e0e0"/><stop offset=".523" stop-color="#d3d3d3"/><stop offset=".532" stop-color="#c2c2c2"/><stop offset=".544" stop-color="#a1a1a1"/><stop offset=".562" stop-color="#777777"/><stop offset=".571" stop-color="#585858"/><stop offset=".583" stop-color="#2c2c2c"/><stop offset=".59" stop-color="#1a1a1a"/><stop offset=".591" stop-color="#191919"/><stop offset=".605" stop-color="#333333"/><stop offset=".618" stop-color="#545454"/><stop offset=".634" stop-color="#6c6c6c"/><stop offset=".675" stop-color="#9a9a9a"/><stop offset=".728" stop-color="#cacaca"/><stop offset=".745" stop-color="#d6d6d6"/><stop offset=".778" stop-color="#e4e4e4"/><stop offset=".815" stop-color="#ebebeb"/><stop offset=".882" stop-color="#f1f1f1"/><stop offset="1" stop-color="#f6f6f6"/></linearGradient><linearGradient id="ta54" x2="0" y2="1"><stop offset="0" stop-color="#e1e1e1"/><stop offset=".376" stop-color="#e2e2e2"/><stop offset=".418" stop-color="#e7e7e7"/><stop offset=".47" stop-color="#f9f9f9"/><stop offset=".492" stop-color="#fafafa"/><stop offset=".503" stop-color="#f2f2f2"/><stop offset=".52" stop-color="#dfdfdf"/><stop offset=".53" stop-color="#d2d2d2"/><stop offset=".539" stop-color="#c1c1c1"/><stop offset=".551" stop-color="#9f9f9f"/><stop offset=".567" stop-color="#797979"/><stop offset=".577" stop-color="#5a5a5a"/><stop offset=".589" stop-color="#2e2e2e"/><stop offset=".594" stop-color="#1f1f1f"/><stop offset=".595" stop-color="#1e1e1e"/><stop offset=".606" stop-color="#333333"/><stop offset=".62" stop-color="#545454"/><stop offset=".637" stop-color="#6e6e6e"/><stop offset=".677" stop-color="#9a9a9a"/><stop offset=".731" stop-color="#cacaca"/><stop offset=".747" stop-color="#d6d6d6"/><stop offset=".781" stop-color="#e3e3e3"/><stop offset=".816" stop-color="#eaeaea"/><stop offset=".886" stop-color="#f0f0f0"/><stop offset="1" stop-color="#f5f5f5"/></linearGradient><linearGradient id="ta55" x2="0" y2="1"><stop offset="0" stop-color="#e1e1e1"/><stop offset=".376" stop-color="#e2e2e2"/><stop offset=".417" stop-color="#e7e7e7"/><stop offset=".47" stop-color="#f9f9f9"/><stop offset=".497" stop-color="#fbfbfb"/><stop offset=".508" stop-color="#f4f4f4"/><stop offset=".527" stop-color="#dfdfdf"/><stop offset=".536" stop-color="#d2d2d2"/><stop offset=".544" stop-color="#c3c3c3"/><stop offset=".556" stop-color="#a1a1a1"/><stop offset=".574" stop-color="#777777"/><stop offset=".583" stop-color="#585858"/><stop offset=".594" stop-color="#303030"/><stop offset=".598" stop-color="#242424"/><stop offset=".599" stop-color="#232323"/><stop offset=".608" stop-color="#333333"/><stop offset=".622" stop-color="#565656"/><stop offset=".64" stop-color="#6f6f6f"/><stop offset=".68" stop-color="#9b9b9b"/><stop offset=".734" stop-color="#cacaca"/><stop offset=".75" stop-color="#d6d6d6"/><stop offset=".782" stop-color="#e2e2e2"/><stop offset=".816" stop-color="#e9e9e9"/><stop offset=".89" stop-color="#efefef"/><stop offset="1" stop-color="#f4f4f4"/></linearGradient><linearGradient id="ta56" x2="0" y2="1"><stop offset="0" stop-color="#e1e1e1"/><stop offset=".376" stop-color="#e2e2e2"/><stop offset=".417" stop-color="#e7e7e7"/><stop offset=".472" stop-color="#fafafa"/><stop offset=".501" stop-color="#fbfbfb"/><stop offset=".513" stop-color="#f3f3f3"/><stop offset=".531" stop-color="#e1e1e1"/><stop offset=".54" stop-color="#d3d3d3"/><stop offset=".55" stop-color="#c2c2c2"/><stop offset=".562" stop-color="#a0a0a0"/><stop offset=".579" stop-color="#757575"/><stop offset=".602" stop-color="#272727"/><stop offset=".609" stop-color="#343434"/><stop offset=".624" stop-color="#575757"/><stop offset=".642" stop-color="#707070"/><stop offset=".683" stop-color="#9c9c9c"/><stop offset=".737" stop-color="#cbcbcb"/><stop offset=".753" stop-color="#d6d6d6"/><stop offset=".784" stop-color="#e2e2e2"/><stop offset=".816" stop-color="#e8e8e8"/><stop offset=".895" stop-color="#eeeeee"/><stop offset="1" stop-color="#f3f3f3"/></linearGradient><linearGradient id="ta57" x2="0" y2="1"><stop offset="0" stop-color="#e1e1e1"/><stop offset=".376" stop-color="#e2e2e2"/><stop offset=".417" stop-color="#e8e8e8"/><stop offset=".472" stop-color="#fafafa"/><stop offset=".507" stop-color="#fcfcfc"/><stop offset=".519" stop-color="#f4f4f4"/><stop offset=".536" stop-color="#e0e0e0"/><stop offset=".546" stop-color="#d3d3d3"/><stop offset=".554" stop-color="#c4c4c4"/><stop offset=".567" stop-color="#9f9f9f"/><stop offset=".583" stop-color="#787878"/><stop offset=".593" stop-color="#5a5a5a"/><stop offset=".605" stop-color="#2e2e2e"/><stop offset=".606" stop-color="#2c2c2c"/><stop offset=".621" stop-color="#4f4f4f"/><stop offset=".626" stop-color="#595959"/><stop offset=".637" stop-color="#686868"/><stop offset=".656" stop-color="#7e7e7e"/><stop offset=".69" stop-color="#a0a0a0"/><stop offset=".739" stop-color="#cbcbcb"/><stop offset=".755" stop-color="#d6d6d6"/><stop offset=".785" stop-color="#e1e1e1"/><stop offset=".816" stop-color="#e7e7e7"/><stop offset=".901" stop-color="#eeeeee"/><stop offset="1" stop-color="#f2f2f2"/></linearGradient><linearGradient id="ta58" x2="0" y2="1"><stop offset="0" stop-color="#e1e1e1"/><stop offset=".376" stop-color="#e2e2e2"/><stop offset=".417" stop-color="#e8e8e8"/><stop offset=".473" stop-color="#fafafa"/><stop offset=".509" stop-color="#fcfcfc"/><stop offset=".522" stop-color="#f5f5f5"/><stop offset=".539" stop-color="#e2e2e2"/><stop offset=".548" stop-color="#d5d5d5"/><stop offset=".558" stop-color="#c3c3c3"/><stop offset=".571" stop-color="#9e9e9e"/><stop offset=".587" stop-color="#777777"/><stop offset=".597" stop-color="#595959"/><stop offset=".608" stop-color="#313131"/><stop offset=".609" stop-color="#303030"/><stop offset=".622" stop-color="#505050"/><stop offset=".628" stop-color="#5a5a5a"/><stop offset=".638" stop-color="#696969"/><stop offset=".66" stop-color="#828282"/><stop offset=".691" stop-color="#a0a0a0"/><stop offset=".741" stop-color="#cbcbcb"/><stop offset=".757" stop-color="#d6d6d6"/><stop offset=".786" stop-color="#e1e1e1"/><stop offset=".816" stop-color="#e6e6e6"/><stop offset=".902" stop-color="#ededed"/><stop offset="1" stop-color="#f1f1f1"/></linearGradient><linearGradient id="ta59" x2="0" y2="1"><stop offset="0" stop-color="#e1e1e1"/><stop offset=".375" stop-color="#e2e2e2"/><stop offset=".415" stop-color="#e7e7e7"/><stop offset=".473" stop-color="#fafafa"/><stop offset=".513" stop-color="#fdfdfd"/><stop offset=".526" stop-color="#f5f5f5"/><stop offset=".542" stop-color="#e3e3e3"/><stop offset=".551" stop-color="#d7d7d7"/><stop offset=".56" stop-color="#c6c6c6"/><stop offset=".565" stop-color="#bdbdbd"/><stop offset=".575" stop-color="#9e9e9e"/><stop offset=".591" stop-color="#777777"/><stop offset=".601" stop-color="#585858"/><stop offset=".61" stop-color="#353535"/><stop offset=".612" stop-color="#343434"/><stop offset=".624" stop-color="#515151"/><stop offset=".629" stop-color="#5a5a5a"/><stop offset=".641" stop-color="#6b6b6b"/><stop offset=".664" stop-color="#858585"/><stop offset=".695" stop-color="#a3a3a3"/><stop offset=".742" stop-color="#cbcbcb"/><stop offset=".759" stop-color="#d6d6d6"/><stop offset=".788" stop-color="#e0e0e0"/><stop offset=".816" stop-color="#e6e6e6"/><stop offset=".905" stop-color="#ececec"/><stop offset="1" stop-color="#f1f1f1"/></linearGradient><linearGradient id="ta60" x2="0" y2="1"><stop offset="0" stop-color="#e1e1e1"/><stop offset=".375" stop-color="#e2e2e2"/><stop offset=".415" stop-color="#e8e8e8"/><stop offset=".474" stop-color="#fafafa"/><stop offset=".517" stop-color="#fdfdfd"/><stop offset=".53" stop-color="#f5f5f5"/><stop offset=".546" stop-color="#e3e3e3"/><stop offset=".555" stop-color="#d6d6d6"/><stop offset=".565" stop-color="#c5c5c5"/><stop offset=".569" stop-color="#bcbcbc"/><stop offset=".579" stop-color="#9d9d9d"/><stop offset=".595" stop-color="#767676"/><stop offset=".605" stop-color="#585858"/><stop offset=".613" stop-color="#3a3a3a"/><stop offset=".614" stop-color="#383838"/><stop offset=".625" stop-color="#525252"/><stop offset=".632" stop-color="#5d5d5d"/><stop offset=".667" stop-color="#868686"/><stop offset=".698" stop-color="#a4a4a4"/><stop offset=".743" stop-color="#cacaca"/><stop offset=".761" stop-color="#d6d6d6"/><stop offset=".788" stop-color="#dfdfdf"/><stop offset=".816" stop-color="#e5e5e5"/><stop offset="1" stop-color="#f0f0f0"/></linearGradient><linearGradient id="ta61" x2="0" y2="1"><stop offset="0" stop-color="#e1e1e1"/><stop offset=".375" stop-color="#e2e2e2"/><stop offset=".415" stop-color="#e8e8e8"/><stop offset=".474" stop-color="#fafafa"/><stop offset=".522" stop-color="#fdfdfd"/><stop offset=".531" stop-color="#f8f8f8"/><stop offset=".544" stop-color="#eaeaea"/><stop offset=".558" stop-color="#d8d8d8"/><stop offset=".569" stop-color="#c5c5c5"/><stop offset=".573" stop-color="#bcbcbc"/><stop offset=".583" stop-color="#9d9d9d"/><stop offset=".599" stop-color="#767676"/><stop offset=".609" stop-color="#575757"/><stop offset=".616" stop-color="#3e3e3e"/><stop offset=".617" stop-color="#3d3d3d"/><stop offset=".626" stop-color="#535353"/><stop offset=".633" stop-color="#5e5e5e"/><stop offset=".671" stop-color="#898989"/><stop offset=".692" stop-color="#9e9e9e"/><stop offset=".741" stop-color="#c7c7c7"/><stop offset=".762" stop-color="#d5d5d5"/><stop offset=".789" stop-color="#dfdfdf"/><stop offset=".817" stop-color="#e4e4e4"/><stop offset="1" stop-color="#efefef"/></linearGradient><linearGradient id="ta62" x2="0" y2="1"><stop offset="0" stop-color="#e1e1e1"/><stop offset=".375" stop-color="#e3e3e3"/><stop offset=".415" stop-color="#e8e8e8"/><stop offset=".476" stop-color="#fbfbfb"/><stop offset=".526" stop-color="#fefefe"/><stop offset=".535" stop-color="#f8f8f8"/><stop offset=".546" stop-color="#ededed"/><stop offset=".56" stop-color="#dadada"/><stop offset=".571" stop-color="#c7c7c7"/><stop offset=".577" stop-color="#bbbbbb"/><stop offset=".587" stop-color="#9c9c9c"/><stop offset=".602" stop-color="#797979"/><stop offset=".612" stop-color="#5b5b5b"/><stop offset=".618" stop-color="#434343"/><stop offset=".62" stop-color="#414141"/><stop offset=".628" stop-color="#545454"/><stop offset=".636" stop-color="#606060"/><stop offset=".675" stop-color="#8c8c8c"/><stop offset=".695" stop-color="#9f9f9f"/><stop offset=".743" stop-color="#c7c7c7"/><stop offset=".765" stop-color="#d6d6d6"/><stop offset=".79" stop-color="#dedede"/><stop offset=".817" stop-color="#e3e3e3"/><stop offset="1" stop-color="#eeeeee"/></linearGradient><linearGradient id="ta63" x2="0" y2="1"><stop offset="0" stop-color="#e1e1e1"/><stop offset=".375" stop-color="#e3e3e3"/><stop offset=".415" stop-color="#e8e8e8"/><stop offset=".476" stop-color="#fbfbfb"/><stop offset=".528" stop-color="#ffffff"/><stop offset=".536" stop-color="#fbfbfb"/><stop offset=".547" stop-color="#f0f0f0"/><stop offset=".563" stop-color="#dcdcdc"/><stop offset=".574" stop-color="#c9c9c9"/><stop offset=".579" stop-color="#bebebe"/><stop offset=".59" stop-color="#9f9f9f"/><stop offset=".606" stop-color="#797979"/><stop offset=".621" stop-color="#484848"/><stop offset=".622" stop-color="#464646"/><stop offset=".629" stop-color="#545454"/><stop offset=".638" stop-color="#626262"/><stop offset=".679" stop-color="#8f8f8f"/><stop offset=".745" stop-color="#c7c7c7"/><stop offset=".766" stop-color="#d5d5d5"/><stop offset=".792" stop-color="#dedede"/><stop offset=".819" stop-color="#e3e3e3"/><stop offset="1" stop-color="#eeeeee"/></linearGradient><linearGradient id="ta64" x2="0" y2="1"><stop offset="0" stop-color="#e1e1e1"/><stop offset=".375" stop-color="#e3e3e3"/><stop offset=".415" stop-color="#e8e8e8"/><stop offset=".477" stop-color="#fbfbfb"/><stop offset=".515" stop-color="#ffffff"/><stop offset=".534" stop-color="#fefefe"/><stop offset=".542" stop-color="#fafafa"/><stop offset=".552" stop-color="#eeeeee"/><stop offset=".567" stop-color="#dbdbdb"/><stop offset=".579" stop-color="#c6c6c6"/><stop offset=".585" stop-color="#bababa"/><stop offset=".595" stop-color="#9b9b9b"/><stop offset=".61" stop-color="#787878"/><stop offset=".625" stop-color="#4a4a4a"/><stop offset=".632" stop-color="#575757"/><stop offset=".641" stop-color="#656565"/><stop offset=".683" stop-color="#929292"/><stop offset=".747" stop-color="#c8c8c8"/><stop offset=".769" stop-color="#d5d5d5"/><stop offset=".793" stop-color="#dddddd"/><stop offset=".819" stop-color="#e2e2e2"/><stop offset="1" stop-color="#ededed"/></linearGradient><linearGradient id="ta65" x2="0" y2="1"><stop offset="0" stop-color="#e1e1e1"/><stop offset=".374" stop-color="#e3e3e3"/><stop offset=".415" stop-color="#e8e8e8"/><stop offset=".48" stop-color="#fbfbfb"/><stop offset=".511" stop-color="#ffffff"/><stop offset=".538" stop-color="#fefefe"/><stop offset=".546" stop-color="#fafafa"/><stop offset=".555" stop-color="#f0f0f0"/><stop offset=".571" stop-color="#dbdbdb"/><stop offset=".582" stop-color="#c9c9c9"/><stop offset=".587" stop-color="#bebebe"/><stop offset=".599" stop-color="#9b9b9b"/><stop offset=".614" stop-color="#787878"/><stop offset=".628" stop-color="#4e4e4e"/><stop offset=".634" stop-color="#5a5a5a"/><stop offset=".645" stop-color="#686868"/><stop offset=".685" stop-color="#939393"/><stop offset=".75" stop-color="#c8c8c8"/><stop offset=".77" stop-color="#d5d5d5"/><stop offset=".794" stop-color="#dddddd"/><stop offset=".82" stop-color="#e1e1e1"/><stop offset="1" stop-color="#ececec"/></linearGradient><linearGradient id="ta66" x2="0" y2="1"><stop offset="0" stop-color="#e2e2e2"/><stop offset=".374" stop-color="#e3e3e3"/><stop offset=".415" stop-color="#e8e8e8"/><stop offset=".483" stop-color="#fcfcfc"/><stop offset=".508" stop-color="#ffffff"/><stop offset=".542" stop-color="#ffffff"/><stop offset=".548" stop-color="#fbfbfb"/><stop offset=".559" stop-color="#f0f0f0"/><stop offset=".575" stop-color="#dbdbdb"/><stop offset=".586" stop-color="#c8c8c8"/><stop offset=".593" stop-color="#bababa"/><stop offset=".603" stop-color="#9b9b9b"/><stop offset=".618" stop-color="#787878"/><stop offset=".63" stop-color="#535353"/><stop offset=".649" stop-color="#6c6c6c"/><stop offset=".69" stop-color="#969696"/><stop offset=".751" stop-color="#c8c8c8"/><stop offset=".773" stop-color="#d5d5d5"/><stop offset=".797" stop-color="#dddddd"/><stop offset=".821" stop-color="#e1e1e1"/><stop offset="1" stop-color="#ebebeb"/></linearGradient><linearGradient id="ta67" x2="0" y2="1"><stop offset="0" stop-color="#e2e2e2"/><stop offset=".374" stop-color="#e3e3e3"/><stop offset=".415" stop-color="#e8e8e8"/><stop offset=".464" stop-color="#f8f8f8"/><stop offset=".487" stop-color="#fdfdfd"/><stop offset=".504" stop-color="#ffffff"/><stop offset=".547" stop-color="#ffffff"/><stop offset=".554" stop-color="#fbfbfb"/><stop offset=".563" stop-color="#f1f1f1"/><stop offset=".581" stop-color="#dadada"/><stop offset=".591" stop-color="#c8c8c8"/><stop offset=".598" stop-color="#bababa"/><stop offset=".609" stop-color="#9b9b9b"/><stop offset=".624" stop-color="#797979"/><stop offset=".634" stop-color="#585858"/><stop offset=".655" stop-color="#707070"/><stop offset=".694" stop-color="#989898"/><stop offset=".754" stop-color="#c8c8c8"/><stop offset=".774" stop-color="#d4d4d4"/><stop offset=".798" stop-color="#dcdcdc"/><stop offset=".823" stop-color="#e0e0e0"/><stop offset="1" stop-color="#eaeaea"/></linearGradient><linearGradient id="ta68" x2="0" y2="1"><stop offset="0" stop-color="#e2e2e2"/><stop offset=".372" stop-color="#e3e3e3"/><stop offset=".415" stop-color="#e8e8e8"/><stop offset=".466" stop-color="#f8f8f8"/><stop offset=".492" stop-color="#fefefe"/><stop offset=".551" stop-color="#ffffff"/><stop offset=".558" stop-color="#fbfbfb"/><stop offset=".567" stop-color="#f1f1f1"/><stop offset=".585" stop-color="#dadada"/><stop offset=".595" stop-color="#c8c8c8"/><stop offset=".602" stop-color="#bababa"/><stop offset=".613" stop-color="#9c9c9c"/><stop offset=".628" stop-color="#7a7a7a"/><stop offset=".637" stop-color="#5e5e5e"/><stop offset=".638" stop-color="#5c5c5c"/><stop offset=".667" stop-color="#7d7d7d"/><stop offset=".696" stop-color="#9a9a9a"/><stop offset=".755" stop-color="#c8c8c8"/><stop offset=".777" stop-color="#d5d5d5"/><stop offset=".8" stop-color="#dbdbdb"/><stop offset=".824" stop-color="#dfdfdf"/><stop offset="1" stop-color="#eaeaea"/></linearGradient><linearGradient id="ta69" x2="0" y2="1"><stop offset="0" stop-color="#e2e2e2"/><stop offset=".372" stop-color="#e3e3e3"/><stop offset=".415" stop-color="#e8e8e8"/><stop offset=".468" stop-color="#f9f9f9"/><stop offset=".497" stop-color="#ffffff"/><stop offset=".555" stop-color="#ffffff"/><stop offset=".562" stop-color="#fbfbfb"/><stop offset=".571" stop-color="#f1f1f1"/><stop offset=".589" stop-color="#dadada"/><stop offset=".599" stop-color="#c9c9c9"/><stop offset=".606" stop-color="#bcbcbc"/><stop offset=".617" stop-color="#9e9e9e"/><stop offset=".632" stop-color="#7d7d7d"/><stop offset=".641" stop-color="#626262"/><stop offset=".671" stop-color="#828282"/><stop offset=".698" stop-color="#9c9c9c"/><stop offset=".757" stop-color="#c9c9c9"/><stop offset=".778" stop-color="#d5d5d5"/><stop offset=".801" stop-color="#dbdbdb"/><stop offset=".825" stop-color="#dfdfdf"/><stop offset="1" stop-color="#e9e9e9"/></linearGradient><linearGradient id="ta70" x2="0" y2="1"><stop offset="0" stop-color="#e2e2e2"/><stop offset=".372" stop-color="#e3e3e3"/><stop offset=".415" stop-color="#e8e8e8"/><stop offset=".469" stop-color="#f9f9f9"/><stop offset=".497" stop-color="#ffffff"/><stop offset=".558" stop-color="#ffffff"/><stop offset=".565" stop-color="#fcfcfc"/><stop offset=".574" stop-color="#f3f3f3"/><stop offset=".593" stop-color="#dbdbdb"/><stop offset=".602" stop-color="#cdcdcd"/><stop offset=".61" stop-color="#bebebe"/><stop offset=".621" stop-color="#a2a2a2"/><stop offset=".636" stop-color="#828282"/><stop offset=".644" stop-color="#6c6c6c"/><stop offset=".645" stop-color="#6b6b6b"/><stop offset=".677" stop-color="#8c8c8c"/><stop offset=".702" stop-color="#a1a1a1"/><stop offset=".759" stop-color="#cbcbcb"/><stop offset=".78" stop-color="#d5d5d5"/><stop offset=".802" stop-color="#dcdcdc"/><stop offset=".825" stop-color="#dfdfdf"/><stop offset="1" stop-color="#e8e8e8"/></linearGradient><linearGradient id="ta71" x2="0" y2="1"><stop offset="0" stop-color="#e2e2e2"/><stop offset=".372" stop-color="#e3e3e3"/><stop offset=".417" stop-color="#e8e8e8"/><stop offset=".469" stop-color="#f9f9f9"/><stop offset=".496" stop-color="#ffffff"/><stop offset=".56" stop-color="#ffffff"/><stop offset=".569" stop-color="#fbfbfb"/><stop offset=".577" stop-color="#f4f4f4"/><stop offset=".597" stop-color="#dcdcdc"/><stop offset=".606" stop-color="#cfcfcf"/><stop offset=".616" stop-color="#bebebe"/><stop offset=".625" stop-color="#a6a6a6"/><stop offset=".641" stop-color="#858585"/><stop offset=".648" stop-color="#747474"/><stop offset=".681" stop-color="#949494"/><stop offset=".704" stop-color="#a6a6a6"/><stop offset=".761" stop-color="#cccccc"/><stop offset=".782" stop-color="#d7d7d7"/><stop offset=".825" stop-color="#dfdfdf"/><stop offset="1" stop-color="#e8e8e8"/></linearGradient><linearGradient id="ta72" x2="0" y2="1"><stop offset="0" stop-color="#e2e2e2"/><stop offset=".372" stop-color="#e3e3e3"/><stop offset=".418" stop-color="#e9e9e9"/><stop offset=".493" stop-color="#ffffff"/><stop offset=".562" stop-color="#ffffff"/><stop offset=".571" stop-color="#fcfcfc"/><stop offset=".579" stop-color="#f6f6f6"/><stop offset=".609" stop-color="#d6d6d6"/><stop offset=".621" stop-color="#c3c3c3"/><stop offset=".632" stop-color="#ababab"/><stop offset=".653" stop-color="#848484"/><stop offset=".707" stop-color="#adadad"/><stop offset=".762" stop-color="#cfcfcf"/><stop offset=".784" stop-color="#d9d9d9"/><stop offset=".824" stop-color="#dfdfdf"/><stop offset="1" stop-color="#e7e7e7"/></linearGradient><linearGradient id="ta73" x2="0" y2="1"><stop offset="0" stop-color="#e2e2e2"/><stop offset=".371" stop-color="#e3e3e3"/><stop offset=".418" stop-color="#e9e9e9"/><stop offset=".492" stop-color="#ffffff"/><stop offset=".565" stop-color="#ffffff"/><stop offset=".585" stop-color="#f7f7f7"/><stop offset=".614" stop-color="#dbdbdb"/><stop offset=".628" stop-color="#cacaca"/><stop offset=".64" stop-color="#b4b4b4"/><stop offset=".659" stop-color="#979797"/><stop offset=".714" stop-color="#bababa"/><stop offset=".766" stop-color="#d4d4d4"/><stop offset=".788" stop-color="#dcdcdc"/><stop offset=".82" stop-color="#e0e0e0"/><stop offset="1" stop-color="#e7e7e7"/></linearGradient><linearGradient id="ta74" x2="0" y2="1"><stop offset="0" stop-color="#e2e2e2"/><stop offset=".371" stop-color="#e3e3e3"/><stop offset=".419" stop-color="#e9e9e9"/><stop offset=".489" stop-color="#ffffff"/><stop offset=".567" stop-color="#ffffff"/><stop offset=".593" stop-color="#f7f7f7"/><stop offset=".609" stop-color="#eeeeee"/><stop offset=".64" stop-color="#d7d7d7"/><stop offset=".669" stop-color="#bababa"/><stop offset=".728" stop-color="#d0d0d0"/><stop offset=".792" stop-color="#e2e2e2"/><stop offset="1" stop-color="#e6e6e6"/></linearGradient><linearGradient id="ta75" x2="0" y2="1"><stop offset="0" stop-color="#e2e2e2"/><stop offset=".375" stop-color="#e3e3e3"/><stop offset=".423" stop-color="#eaeaea"/><stop offset=".488" stop-color="#ffffff"/><stop offset=".571" stop-color="#ffffff"/><stop offset=".683" stop-color="#d8d8d8"/><stop offset=".793" stop-color="#e8e8e8"/><stop offset=".883" stop-color="#e4e4e4"/><stop offset="1" stop-color="#e5e5e5"/></linearGradient><linearGradient id="ta76" x2="0" y2="1"><stop offset="0" stop-color="#e2e2e2"/><stop offset=".375" stop-color="#e3e3e3"/><stop offset=".425" stop-color="#eaeaea"/><stop offset=".487" stop-color="#ffffff"/><stop offset=".573" stop-color="#ffffff"/><stop offset=".63" stop-color="#ededed"/><stop offset=".668" stop-color="#e8e8e8"/><stop offset=".784" stop-color="#ebebeb"/><stop offset=".882" stop-color="#e4e4e4"/><stop offset="1" stop-color="#e4e4e4"/></linearGradient><linearGradient id="ta77" x2="0" y2="1"><stop offset="0" stop-color="#e2e2e2"/><stop offset=".372" stop-color="#e3e3e3"/><stop offset=".426" stop-color="#eaeaea"/><stop offset=".489" stop-color="#ffffff"/><stop offset=".571" stop-color="#ffffff"/><stop offset=".617" stop-color="#f1f1f1"/><stop offset=".655" stop-color="#e1e1e1"/><stop offset=".68" stop-color="#dcdcdc"/><stop offset=".7" stop-color="#dcdcdc"/><stop offset=".79" stop-color="#e4e4e4"/><stop offset=".883" stop-color="#dddddd"/><stop offset="1" stop-color="#dcdcdc"/></linearGradient><linearGradient id="ta78" x2="0" y2="1"><stop offset="0" stop-color="#e2e2e2"/><stop offset=".375" stop-color="#e3e3e3"/><stop offset=".429" stop-color="#eaeaea"/><stop offset=".495" stop-color="#ffffff"/><stop offset=".569" stop-color="#ffffff"/><stop offset=".62" stop-color="#efefef"/><stop offset=".63" stop-color="#e8e8e8"/><stop offset=".66" stop-color="#cccccc"/><stop offset=".671" stop-color="#c6c6c6"/><stop offset=".681" stop-color="#c4c4c4"/><stop offset=".702" stop-color="#c6c6c6"/><stop offset=".777" stop-color="#d8d8d8"/><stop offset=".804" stop-color="#dbdbdb"/><stop offset="1" stop-color="#d9d9d9"/></linearGradient><linearGradient id="ta79" x2="0" y2="1"><stop offset="0" stop-color="#e2e2e2"/><stop offset=".376" stop-color="#e3e3e3"/><stop offset=".429" stop-color="#e9e9e9"/><stop offset=".499" stop-color="#ffffff"/><stop offset=".565" stop-color="#ffffff"/><stop offset=".616" stop-color="#f1f1f1"/><stop offset=".625" stop-color="#ececec"/><stop offset=".641" stop-color="#dddddd"/><stop offset=".679" stop-color="#adadad"/><stop offset=".69" stop-color="#a5a5a5"/><stop offset=".699" stop-color="#a3a3a3"/><stop offset=".72" stop-color="#aaaaaa"/><stop offset=".78" stop-color="#cbcbcb"/><stop offset=".805" stop-color="#d3d3d3"/><stop offset=".925" stop-color="#d8d8d8"/><stop offset="1" stop-color="#d8d8d8"/></linearGradient><linearGradient id="ta80" x2="0" y2="1"><stop offset="0" stop-color="#e2e2e2"/><stop offset=".379" stop-color="#e3e3e3"/><stop offset=".43" stop-color="#e9e9e9"/><stop offset=".505" stop-color="#ffffff"/><stop offset=".559" stop-color="#ffffff"/><stop offset=".616" stop-color="#f0f0f0"/><stop offset=".626" stop-color="#eaeaea"/><stop offset=".637" stop-color="#e1e1e1"/><stop offset=".651" stop-color="#d2d2d2"/><stop offset=".698" stop-color="#939393"/><stop offset=".71" stop-color="#8b8b8b"/><stop offset=".724" stop-color="#878787"/><stop offset=".734" stop-color="#898989"/><stop offset=".743" stop-color="#8e8e8e"/><stop offset=".786" stop-color="#bababa"/><stop offset=".801" stop-color="#c4c4c4"/><stop offset=".816" stop-color="#cacaca"/><stop offset=".839" stop-color="#cecece"/><stop offset=".933" stop-color="#d5d5d5"/><stop offset="1" stop-color="#d6d6d6"/></linearGradient><linearGradient id="ta81" x2="0" y2="1"><stop offset="0" stop-color="#e2e2e2"/><stop offset=".38" stop-color="#e3e3e3"/><stop offset=".431" stop-color="#e9e9e9"/><stop offset=".512" stop-color="#fefefe"/><stop offset=".554" stop-color="#fefefe"/><stop offset=".616" stop-color="#efefef"/><stop offset=".628" stop-color="#e9e9e9"/><stop offset=".638" stop-color="#dfdfdf"/><stop offset=".652" stop-color="#d0d0d0"/><stop offset=".702" stop-color="#8b8b8b"/><stop offset=".723" stop-color="#797979"/><stop offset=".739" stop-color="#737373"/><stop offset=".749" stop-color="#757575"/><stop offset=".759" stop-color="#7c7c7c"/><stop offset=".806" stop-color="#aeaeae"/><stop offset=".82" stop-color="#b8b8b8"/><stop offset=".832" stop-color="#bebebe"/><stop offset=".859" stop-color="#c6c6c6"/><stop offset=".906" stop-color="#cccccc"/><stop offset="1" stop-color="#d5d5d5"/></linearGradient><linearGradient id="ta82" x2="0" y2="1"><stop offset="0" stop-color="#e2e2e2"/><stop offset=".38" stop-color="#e3e3e3"/><stop offset=".431" stop-color="#e9e9e9"/><stop offset=".513" stop-color="#fdfdfd"/><stop offset=".536" stop-color="#fefefe"/><stop offset=".56" stop-color="#fcfcfc"/><stop offset=".616" stop-color="#efefef"/><stop offset=".63" stop-color="#e6e6e6"/><stop offset=".642" stop-color="#dadada"/><stop offset=".656" stop-color="#c8c8c8"/><stop offset=".694" stop-color="#8c8c8c"/><stop offset=".704" stop-color="#7c7c7c"/><stop offset=".722" stop-color="#6b6b6b"/><stop offset=".737" stop-color="#666666"/><stop offset=".753" stop-color="#6c6c6c"/><stop offset=".781" stop-color="#848484"/><stop offset=".802" stop-color="#949494"/><stop offset=".872" stop-color="#bababa"/><stop offset=".922" stop-color="#c7c7c7"/><stop offset="1" stop-color="#d1d1d1"/></linearGradient><linearGradient id="ta83" x2="0" y2="1"><stop offset="0" stop-color="#e2e2e2"/><stop offset=".378" stop-color="#e3e3e3"/><stop offset=".43" stop-color="#e8e8e8"/><stop offset=".517" stop-color="#fbfbfb"/><stop offset=".543" stop-color="#fcfcfc"/><stop offset=".57" stop-color="#f8f8f8"/><stop offset=".617" stop-color="#eeeeee"/><stop offset=".634" stop-color="#e2e2e2"/><stop offset=".648" stop-color="#d2d2d2"/><stop offset=".661" stop-color="#bebebe"/><stop offset=".698" stop-color="#7b7b7b"/><stop offset=".708" stop-color="#6b6b6b"/><stop offset=".723" stop-color="#5a5a5a"/><stop offset=".735" stop-color="#555555"/><stop offset=".743" stop-color="#585858"/><stop offset=".751" stop-color="#5e5e5e"/><stop offset=".785" stop-color="#888888"/><stop offset=".794" stop-color="#919191"/><stop offset=".804" stop-color="#969696"/><stop offset=".816" stop-color="#9a9a9a"/><stop offset=".843" stop-color="#999999"/><stop offset=".86" stop-color="#9b9b9b"/><stop offset=".876" stop-color="#a2a2a2"/><stop offset=".911" stop-color="#b6b6b6"/><stop offset=".929" stop-color="#bdbdbd"/><stop offset=".96" stop-color="#c6c6c6"/><stop offset="1" stop-color="#cccccc"/></linearGradient><linearGradient id="ta84" x2="0" y2="1"><stop offset="0" stop-color="#e2e2e2"/><stop offset=".375" stop-color="#e2e2e2"/><stop offset=".43" stop-color="#e7e7e7"/><stop offset=".522" stop-color="#fafafa"/><stop offset=".55" stop-color="#fafafa"/><stop offset=".585" stop-color="#f4f4f4"/><stop offset=".62" stop-color="#ececec"/><stop offset=".629" stop-color="#e6e6e6"/><stop offset=".64" stop-color="#dbdbdb"/><stop offset=".652" stop-color="#cccccc"/><stop offset=".664" stop-color="#b9b9b9"/><stop offset=".698" stop-color="#767676"/><stop offset=".71" stop-color="#616161"/><stop offset=".723" stop-color="#515151"/><stop offset=".735" stop-color="#4c4c4c"/><stop offset=".743" stop-color="#4e4e4e"/><stop offset=".751" stop-color="#555555"/><stop offset=".788" stop-color="#898989"/><stop offset=".798" stop-color="#949494"/><stop offset=".809" stop-color="#9b9b9b"/><stop offset=".832" stop-color="#9f9f9f"/><stop offset=".876" stop-color="#979797"/><stop offset=".897" stop-color="#989898"/><stop offset=".918" stop-color="#a0a0a0"/><stop offset=".961" stop-color="#b9b9b9"/><stop offset="1" stop-color="#c5c5c5"/></linearGradient><linearGradient id="ta85" x2="0" y2="1"><stop offset="0" stop-color="#e2e2e2"/><stop offset=".386" stop-color="#e3e3e3"/><stop offset=".43" stop-color="#e7e7e7"/><stop offset=".501" stop-color="#f6f6f6"/><stop offset=".531" stop-color="#f9f9f9"/><stop offset=".559" stop-color="#f8f8f8"/><stop offset=".598" stop-color="#f1f1f1"/><stop offset=".622" stop-color="#eaeaea"/><stop offset=".632" stop-color="#e3e3e3"/><stop offset=".642" stop-color="#d8d8d8"/><stop offset=".653" stop-color="#cacaca"/><stop offset=".665" stop-color="#b6b6b6"/><stop offset=".698" stop-color="#757575"/><stop offset=".71" stop-color="#616161"/><stop offset=".723" stop-color="#505050"/><stop offset=".735" stop-color="#4b4b4b"/><stop offset=".743" stop-color="#4d4d4d"/><stop offset=".751" stop-color="#545454"/><stop offset=".789" stop-color="#8a8a8a"/><stop offset=".8" stop-color="#959595"/><stop offset=".81" stop-color="#9c9c9c"/><stop offset=".823" stop-color="#a0a0a0"/><stop offset=".837" stop-color="#a0a0a0"/><stop offset=".892" stop-color="#979797"/><stop offset=".913" stop-color="#989898"/><stop offset=".934" stop-color="#9f9f9f"/><stop offset=".976" stop-color="#b8b8b8"/><stop offset="1" stop-color="#c0c0c0"/></linearGradient>
<linearGradient id="tb0" x2="0" y2="1"><stop offset="0" stop-color="#ffffff"/><stop offset=".085" stop-color="#fefefe"/><stop offset=".154" stop-color="#e7e7e7"/><stop offset=".179" stop-color="#e1e1e1"/><stop offset=".572" stop-color="#e1e1e1"/><stop offset=".811" stop-color="#e6e6e6"/><stop offset=".816" stop-color="#f0f0f0"/><stop offset=".821" stop-color="#ffffff"/><stop offset="1" stop-color="#ffffff"/></linearGradient><linearGradient id="tb1" x2="0" y2="1"><stop offset="0" stop-color="#ffffff"/><stop offset=".09" stop-color="#fefefe"/><stop offset=".169" stop-color="#e6e6e6"/><stop offset=".194" stop-color="#e1e1e1"/><stop offset=".572" stop-color="#e1e1e1"/><stop offset=".796" stop-color="#e6e6e6"/><stop offset=".801" stop-color="#e6e6e6"/><stop offset=".821" stop-color="#fdfdfd"/><stop offset=".826" stop-color="#ffffff"/><stop offset="1" stop-color="#ffffff"/></linearGradient><linearGradient id="tb2" x2="0" y2="1"><stop offset="0" stop-color="#ffffff"/><stop offset=".109" stop-color="#fefefe"/><stop offset=".239" stop-color="#e1e1e1"/><stop offset=".567" stop-color="#e1e1e1"/><stop offset=".766" stop-color="#e5e5e5"/><stop offset=".811" stop-color="#fbfbfb"/><stop offset=".826" stop-color="#ffffff"/><stop offset="1" stop-color="#ffffff"/></linearGradient><linearGradient id="tb3" x2="0" y2="1"><stop offset="0" stop-color="#ffffff"/><stop offset=".149" stop-color="#fefefe"/><stop offset=".343" stop-color="#e1e1e1"/><stop offset=".701" stop-color="#e3e3e3"/><stop offset=".791" stop-color="#fafafa"/><stop offset=".816" stop-color="#fefefe"/><stop offset="1" stop-color="#ffffff"/></linearGradient><linearGradient id="tb4" x2="0" y2="1"><stop offset="0" stop-color="#ffffff"/><stop offset=".209" stop-color="#fefefe"/><stop offset=".483" stop-color="#e1e1e1"/><stop offset=".627" stop-color="#e2e2e2"/><stop offset=".766" stop-color="#fafafa"/><stop offset=".811" stop-color="#fefefe"/><stop offset="1" stop-color="#ffffff"/></linearGradient><linearGradient id="tb5" x2="0" y2="1"><stop offset="0" stop-color="#ffffff"/><stop offset=".279" stop-color="#fefefe"/><stop offset=".582" stop-color="#e5e5e5"/><stop offset=".786" stop-color="#fefefe"/><stop offset="1" stop-color="#ffffff"/></linearGradient><linearGradient id="tb6" x2="0" y2="1"><stop offset="0" stop-color="#ffffff"/><stop offset=".343" stop-color="#fefefe"/><stop offset=".602" stop-color="#efefef"/><stop offset=".781" stop-color="#fefefe"/><stop offset="1" stop-color="#ffffff"/></linearGradient><linearGradient id="tb7" x2="0" y2="1"><stop offset="0" stop-color="#ffffff"/><stop offset=".408" stop-color="#ffffff"/><stop offset=".627" stop-color="#f6f6f6"/><stop offset=".781" stop-color="#fefefe"/><stop offset="1" stop-color="#ffffff"/></linearGradient><linearGradient id="tb8" x2="0" y2="1"><stop offset="0" stop-color="#ffffff"/><stop offset=".478" stop-color="#ffffff"/><stop offset=".657" stop-color="#fafafa"/><stop offset=".786" stop-color="#ffffff"/><stop offset="1" stop-color="#ffffff"/></linearGradient><linearGradient id="tb9" x2="0" y2="1"><stop offset="0" stop-color="#fcfcfc"/><stop offset=".692" stop-color="#fafafa"/><stop offset="1" stop-color="#fdfdfd"/></linearGradient><linearGradient id="tb10" x2="0" y2="1"><stop offset="0" stop-color="#efefef"/><stop offset=".507" stop-color="#eeeeee"/><stop offset=".811" stop-color="#f1f1f1"/><stop offset="1" stop-color="#f1f1f1"/></linearGradient><linearGradient id="tb11" x2="0" y2="1"><stop offset="0" stop-color="#e7e7e7"/><stop offset=".343" stop-color="#e6e6e6"/><stop offset=".413" stop-color="#e3e3e3"/><stop offset=".522" stop-color="#d9d9d9"/><stop offset=".557" stop-color="#dbdbdb"/><stop offset=".587" stop-color="#e6e6e6"/><stop offset=".607" stop-color="#e9e9e9"/><stop offset=".796" stop-color="#ebebeb"/><stop offset=".821" stop-color="#e8e8e8"/><stop offset=".881" stop-color="#d4d4d4"/><stop offset=".905" stop-color="#cecece"/><stop offset="1" stop-color="#d0d0d0"/></linearGradient><linearGradient id="tb12" x2="0" y2="1"><stop offset="0" stop-color="#e0e0e0"/><stop offset=".294" stop-color="#e0e0e0"/><stop offset=".363" stop-color="#dedede"/><stop offset=".433" stop-color="#d6d6d6"/><stop offset=".502" stop-color="#c5c5c5"/><stop offset=".542" stop-color="#c0c0c0"/><stop offset=".577" stop-color="#c3c3c3"/><stop offset=".607" stop-color="#dbdbdb"/><stop offset=".632" stop-color="#e4e4e4"/><stop offset=".796" stop-color="#e5e5e5"/><stop offset=".821" stop-color="#dadada"/><stop offset=".881" stop-color="#b1b1b1"/><stop offset=".91" stop-color="#a1a1a1"/><stop offset=".93" stop-color="#9e9e9e"/><stop offset="1" stop-color="#a2a2a2"/></linearGradient><linearGradient id="tb13" x2="0" y2="1"><stop offset="0" stop-color="#dcdcdc"/><stop offset=".308" stop-color="#dcdcdc"/><stop offset=".378" stop-color="#d9d9d9"/><stop offset=".448" stop-color="#cdcdcd"/><stop offset=".468" stop-color="#c7c7c7"/><stop offset=".522" stop-color="#b0b0b0"/><stop offset=".562" stop-color="#a8a8a8"/><stop offset=".597" stop-color="#adadad"/><stop offset=".627" stop-color="#d0d0d0"/><stop offset=".642" stop-color="#d9d9d9"/><stop offset=".652" stop-color="#dcdcdc"/><stop offset=".731" stop-color="#dedede"/><stop offset=".796" stop-color="#dddddd"/><stop offset=".821" stop-color="#cccccc"/><stop offset=".886" stop-color="#8c8c8c"/><stop offset=".915" stop-color="#767676"/><stop offset=".94" stop-color="#6e6e6e"/><stop offset=".975" stop-color="#6f6f6f"/><stop offset="1" stop-color="#737373"/></linearGradient><linearGradient id="tb14" x2="0" y2="1"><stop offset="0" stop-color="#dadada"/><stop offset=".323" stop-color="#dadada"/><stop offset=".393" stop-color="#d6d6d6"/><stop offset=".433" stop-color="#cecece"/><stop offset=".468" stop-color="#c5c5c5"/><stop offset=".488" stop-color="#bcbcbc"/><stop offset=".537" stop-color="#a0a0a0"/><stop offset=".562" stop-color="#989898"/><stop offset=".577" stop-color="#959595"/><stop offset=".612" stop-color="#9a9a9a"/><stop offset=".617" stop-color="#9e9e9e"/><stop offset=".642" stop-color="#c2c2c2"/><stop offset=".652" stop-color="#cacaca"/><stop offset=".667" stop-color="#d3d3d3"/><stop offset=".711" stop-color="#d5d5d5"/><stop offset=".796" stop-color="#d4d4d4"/><stop offset=".821" stop-color="#bfbfbf"/><stop offset=".891" stop-color="#6d6d6d"/><stop offset=".92" stop-color="#525252"/><stop offset=".935" stop-color="#4a4a4a"/><stop offset=".95" stop-color="#464646"/><stop offset=".975" stop-color="#464646"/><stop offset="1" stop-color="#4a4a4a"/></linearGradient><linearGradient id="tb15" x2="0" y2="1"><stop offset="0" stop-color="#d9d9d9"/><stop offset=".333" stop-color="#d9d9d9"/><stop offset=".408" stop-color="#d4d4d4"/><stop offset=".448" stop-color="#cbcbcb"/><stop offset=".483" stop-color="#c0c0c0"/><stop offset=".502" stop-color="#b6b6b6"/><stop offset=".552" stop-color="#959595"/><stop offset=".577" stop-color="#8b8b8b"/><stop offset=".592" stop-color="#888888"/><stop offset=".617" stop-color="#8a8a8a"/><stop offset=".632" stop-color="#919191"/><stop offset=".657" stop-color="#b7b7b7"/><stop offset=".667" stop-color="#c0c0c0"/><stop offset=".682" stop-color="#c9c9c9"/><stop offset=".697" stop-color="#cbcbcb"/><stop offset=".796" stop-color="#cbcbcb"/><stop offset=".801" stop-color="#cacaca"/><stop offset=".821" stop-color="#b6b6b6"/><stop offset=".891" stop-color="#5b5b5b"/><stop offset=".91" stop-color="#444444"/><stop offset=".925" stop-color="#373737"/><stop offset=".94" stop-color="#2d2d2d"/><stop offset=".955" stop-color="#282828"/><stop offset=".98" stop-color="#282828"/><stop offset="1" stop-color="#2c2c2c"/></linearGradient><linearGradient id="tb16" x2="0" y2="1"><stop offset="0" stop-color="#d9d9d9"/><stop offset=".348" stop-color="#d9d9d9"/><stop offset=".418" stop-color="#d4d4d4"/><stop offset=".453" stop-color="#cccccc"/><stop offset=".493" stop-color="#bebebe"/><stop offset=".512" stop-color="#b4b4b4"/><stop offset=".567" stop-color="#8c8c8c"/><stop offset=".592" stop-color="#818181"/><stop offset=".607" stop-color="#7f7f7f"/><stop offset=".627" stop-color="#818181"/><stop offset=".642" stop-color="#858585"/><stop offset=".647" stop-color="#8b8b8b"/><stop offset=".672" stop-color="#b1b1b1"/><stop offset=".697" stop-color="#c0c0c0"/><stop offset=".706" stop-color="#c2c2c2"/><stop offset=".801" stop-color="#c3c3c3"/><stop offset=".806" stop-color="#c1c1c1"/><stop offset=".821" stop-color="#afafaf"/><stop offset=".896" stop-color="#494949"/><stop offset=".925" stop-color="#282828"/><stop offset=".945" stop-color="#191919"/><stop offset=".96" stop-color="#141414"/><stop offset=".98" stop-color="#141414"/><stop offset="1" stop-color="#181818"/></linearGradient><linearGradient id="tb17" x2="0" y2="1"><stop offset="0" stop-color="#d9d9d9"/><stop offset=".358" stop-color="#d9d9d9"/><stop offset=".428" stop-color="#d4d4d4"/><stop offset=".463" stop-color="#cccccc"/><stop offset=".502" stop-color="#bebebe"/><stop offset=".527" stop-color="#b0b0b0"/><stop offset=".577" stop-color="#898989"/><stop offset=".602" stop-color="#7d7d7d"/><stop offset=".617" stop-color="#797979"/><stop offset=".637" stop-color="#7b7b7b"/><stop offset=".657" stop-color="#818181"/><stop offset=".682" stop-color="#a5a5a5"/><stop offset=".687" stop-color="#ababab"/><stop offset=".711" stop-color="#b8b8b8"/><stop offset=".806" stop-color="#bbbbbb"/><stop offset=".811" stop-color="#b7b7b7"/><stop offset=".831" stop-color="#9e9e9e"/><stop offset=".9" stop-color="#3b3b3b"/><stop offset=".93" stop-color="#1a1a1a"/><stop offset=".945" stop-color="#0e0e0e"/><stop offset=".96" stop-color="#080808"/><stop offset=".98" stop-color="#060606"/><stop offset="1" stop-color="#090909"/></linearGradient><linearGradient id="tb18" x2="0" y2="1"><stop offset="0" stop-color="#dadada"/><stop offset=".368" stop-color="#dadada"/><stop offset=".443" stop-color="#d4d4d4"/><stop offset=".478" stop-color="#cccccc"/><stop offset=".517" stop-color="#bdbdbd"/><stop offset=".537" stop-color="#b1b1b1"/><stop offset=".592" stop-color="#868686"/><stop offset=".617" stop-color="#7a7a7a"/><stop offset=".632" stop-color="#777777"/><stop offset=".667" stop-color="#7c7c7c"/><stop offset=".672" stop-color="#808080"/><stop offset=".697" stop-color="#a1a1a1"/><stop offset=".721" stop-color="#afafaf"/><stop offset=".731" stop-color="#b2b2b2"/><stop offset=".811" stop-color="#b3b3b3"/><stop offset=".816" stop-color="#b0b0b0"/><stop offset=".831" stop-color="#9c9c9c"/><stop offset=".9" stop-color="#393939"/><stop offset=".93" stop-color="#171717"/><stop offset=".95" stop-color="#080808"/><stop offset=".965" stop-color="#010101"/><stop offset=".98" stop-color="#000000"/><stop offset="1" stop-color="#030303"/></linearGradient><linearGradient id="tb19" x2="0" y2="1"><stop offset="0" stop-color="#dadada"/><stop offset=".383" stop-color="#dadada"/><stop offset=".458" stop-color="#d4d4d4"/><stop offset=".493" stop-color="#cccccc"/><stop offset=".532" stop-color="#bdbdbd"/><stop offset=".552" stop-color="#b2b2b2"/><stop offset=".607" stop-color="#878787"/><stop offset=".632" stop-color="#7b7b7b"/><stop offset=".647" stop-color="#777777"/><stop offset=".667" stop-color="#787878"/><stop offset=".687" stop-color="#7d7d7d"/><stop offset=".716" stop-color="#9d9d9d"/><stop offset=".736" stop-color="#a6a6a6"/><stop offset=".751" stop-color="#a9a9a9"/><stop offset=".816" stop-color="#aaaaaa"/><stop offset=".821" stop-color="#a8a8a8"/><stop offset=".831" stop-color="#9c9c9c"/><stop offset=".905" stop-color="#343434"/><stop offset=".935" stop-color="#141414"/><stop offset=".95" stop-color="#090909"/><stop offset=".965" stop-color="#020202"/><stop offset=".98" stop-color="#000000"/><stop offset="1" stop-color="#020202"/></linearGradient><linearGradient id="tb20" x2="0" y2="1"><stop offset="0" stop-color="#dadada"/><stop offset=".398" stop-color="#dadada"/><stop offset=".473" stop-color="#d4d4d4"/><stop offset=".507" stop-color="#cccccc"/><stop offset=".547" stop-color="#bdbdbd"/><stop offset=".572" stop-color="#afafaf"/><stop offset=".627" stop-color="#848484"/><stop offset=".652" stop-color="#797979"/><stop offset=".667" stop-color="#767676"/><stop offset=".701" stop-color="#797979"/><stop offset=".731" stop-color="#929292"/><stop offset=".751" stop-color="#9a9a9a"/><stop offset=".766" stop-color="#9c9c9c"/><stop offset=".826" stop-color="#9d9d9d"/><stop offset=".841" stop-color="#8b8b8b"/><stop offset=".9" stop-color="#3a3a3a"/><stop offset=".92" stop-color="#232323"/><stop offset=".935" stop-color="#151515"/><stop offset=".95" stop-color="#0a0a0a"/><stop offset=".965" stop-color="#020202"/><stop offset=".98" stop-color="#000000"/><stop offset="1" stop-color="#010101"/></linearGradient><linearGradient id="tb21" x2="0" y2="1"><stop offset="0" stop-color="#dbdbdb"/><stop offset=".368" stop-color="#dbdbdb"/><stop offset=".458" stop-color="#d8d8d8"/><stop offset=".502" stop-color="#d2d2d2"/><stop offset=".557" stop-color="#c0c0c0"/><stop offset=".587" stop-color="#b1b1b1"/><stop offset=".647" stop-color="#848484"/><stop offset=".682" stop-color="#757575"/><stop offset=".721" stop-color="#747474"/><stop offset=".751" stop-color="#858585"/><stop offset=".771" stop-color="#898989"/><stop offset=".831" stop-color="#8b8b8b"/><stop offset=".836" stop-color="#898989"/><stop offset=".9" stop-color="#383838"/><stop offset=".935" stop-color="#141414"/><stop offset=".95" stop-color="#0a0a0a"/><stop offset=".965" stop-color="#030303"/><stop offset=".98" stop-color="#000000"/><stop offset="1" stop-color="#010101"/></linearGradient><linearGradient id="tb22" x2="0" y2="1"><stop offset="0" stop-color="#dbdbdb"/><stop offset=".398" stop-color="#dbdbdb"/><stop offset=".453" stop-color="#d9d9d9"/><stop offset=".512" stop-color="#d1d1d1"/><stop offset=".557" stop-color="#c4c4c4"/><stop offset=".582" stop-color="#b9b9b9"/><stop offset=".602" stop-color="#adadad"/><stop offset=".657" stop-color="#848484"/><stop offset=".692" stop-color="#757575"/><stop offset=".731" stop-color="#717171"/><stop offset=".761" stop-color="#7c7c7c"/><stop offset=".776" stop-color="#7f7f7f"/><stop offset=".836" stop-color="#7f7f7f"/><stop offset=".841" stop-color="#7d7d7d"/><stop offset=".9" stop-color="#363636"/><stop offset=".935" stop-color="#141414"/><stop offset=".95" stop-color="#0a0a0a"/><stop offset=".965" stop-color="#030303"/><stop offset=".98" stop-color="#000000"/><stop offset="1" stop-color="#010101"/></linearGradient>
<clipPath id="cpTg"><path d="M-7.4,221.7L0.0,221.7L6.0,221.8L12.1,222.0L18.1,222.4L24.2,222.8L30.2,223.2L36.2,223.8L42.3,224.4L48.3,225.1L54.3,225.9L60.4,226.7L66.4,227.7L72.5,228.6L78.5,229.7L84.5,230.8L90.6,231.9L96.6,233.1L102.7,234.4L108.7,235.7L114.7,237.1L120.8,238.5L126.8,240.0L132.8,241.5L138.9,243.1L144.9,244.7L151.0,246.4L157.0,248.1L163.0,249.9L169.1,251.7L175.1,253.5L181.1,255.4L187.2,257.4L193.2,259.3L199.3,261.4L205.3,263.4L211.3,265.5L217.4,267.6L223.4,269.8L229.5,272.0L235.5,274.2L241.5,276.5L247.6,278.8L253.6,281.2L259.6,283.6L265.7,286.0L271.7,288.5L277.8,291.0L283.8,293.5L289.8,296.1L295.9,298.7L301.9,301.4L308.0,304.0L314.0,306.7L320.0,309.4L326.1,312.1L332.1,314.8L338.1,317.6L344.2,320.4L350.2,323.2L356.3,326.0L362.3,328.9L368.3,331.9L374.4,334.9L380.4,337.9L386.4,341.0L392.5,344.2L398.5,347.5L404.6,350.8L410.6,354.2L416.6,357.7L416.6,372.1L410.6,372.0L404.6,371.9L398.5,371.9L392.5,372.1L386.4,372.4L380.4,372.8L374.4,373.3L368.3,373.8L362.3,374.4L356.3,375.0L350.2,375.5L344.2,376.0L338.1,376.5L332.1,376.9L326.1,377.2L320.0,377.3L314.0,377.4L308.0,377.3L301.9,377.2L295.9,377.1L289.8,377.1L283.8,377.0L277.8,376.9L271.7,376.9L265.7,376.8L259.6,376.7L253.6,376.7L247.6,376.6L241.5,376.6L235.5,376.5L229.5,376.5L223.4,376.4L217.4,376.4L211.3,376.3L205.3,376.3L199.3,376.2L193.2,376.2L187.2,376.2L181.1,376.1L175.1,376.1L169.1,376.0L163.0,376.0L157.0,376.0L151.0,375.9L144.9,375.9L138.9,375.8L132.8,375.8L126.8,375.7L120.8,375.7L114.7,375.6L108.7,375.6L102.7,375.5L96.6,375.5L90.6,375.4L84.5,375.3L78.5,375.2L72.5,375.2L66.4,375.1L60.4,375.0L54.3,374.9L48.3,374.7L42.3,374.6L36.2,374.4L30.2,374.3L24.2,374.0L18.1,373.8L12.1,373.5L6.0,373.2L0.0,372.8L-7.4,372.8Z"/></clipPath>
<filter id="blB" x="-0.05" y="-0.1" width="1.1" height="1.2"><feGaussianBlur stdDeviation="1.7"/></filter>
<linearGradient id="pa0" x2="0" y2="1"><stop offset="0" stop-color="#575757"/><stop offset=".121" stop-color="#5b5b5b"/><stop offset=".225" stop-color="#636363"/><stop offset=".383" stop-color="#747474"/><stop offset=".546" stop-color="#8b8b8b"/><stop offset=".825" stop-color="#9f9f9f"/><stop offset=".906" stop-color="#a9a9a9"/><stop offset="1" stop-color="#b7b7b7"/></linearGradient><linearGradient id="pa1" x2="0" y2="1"><stop offset="0" stop-color="#575757"/><stop offset=".104" stop-color="#5b5b5b"/><stop offset=".21" stop-color="#626262"/><stop offset=".446" stop-color="#7d7d7d"/><stop offset=".458" stop-color="#7c7c7c"/><stop offset=".465" stop-color="#808080"/><stop offset=".552" stop-color="#8b8b8b"/><stop offset=".754" stop-color="#9a9a9a"/><stop offset=".771" stop-color="#9e9e9e"/><stop offset=".783" stop-color="#a9a9a9"/><stop offset=".887" stop-color="#b4b4b4"/><stop offset="1" stop-color="#c4c4c4"/></linearGradient><linearGradient id="pa2" x2="0" y2="1"><stop offset="0" stop-color="#575757"/><stop offset=".098" stop-color="#5b5b5b"/><stop offset=".202" stop-color="#616161"/><stop offset=".444" stop-color="#7d7d7d"/><stop offset=".448" stop-color="#7c7c7c"/><stop offset=".452" stop-color="#787878"/><stop offset=".456" stop-color="#6f6f6f"/><stop offset=".458" stop-color="#6c6c6c"/><stop offset=".46" stop-color="#6d6d6d"/><stop offset=".463" stop-color="#797979"/><stop offset=".465" stop-color="#808080"/><stop offset=".467" stop-color="#808080"/><stop offset=".569" stop-color="#8c8c8c"/><stop offset=".731" stop-color="#999999"/><stop offset=".758" stop-color="#9e9e9e"/><stop offset=".767" stop-color="#a3a3a3"/><stop offset=".773" stop-color="#aeaeae"/><stop offset=".775" stop-color="#b4b4b4"/><stop offset=".777" stop-color="#bebebe"/><stop offset=".781" stop-color="#d9d9d9"/><stop offset=".783" stop-color="#e1e1e1"/><stop offset=".894" stop-color="#ececec"/><stop offset="1" stop-color="#fafafa"/></linearGradient><linearGradient id="pa3" x2="0" y2="1"><stop offset="0" stop-color="#575757"/><stop offset=".098" stop-color="#5b5b5b"/><stop offset=".202" stop-color="#626262"/><stop offset=".444" stop-color="#7d7d7d"/><stop offset=".45" stop-color="#7a7a7a"/><stop offset=".452" stop-color="#777777"/><stop offset=".458" stop-color="#666666"/><stop offset=".46" stop-color="#656565"/><stop offset=".463" stop-color="#6f6f6f"/><stop offset=".465" stop-color="#7d7d7d"/><stop offset=".467" stop-color="#808080"/><stop offset=".571" stop-color="#8d8d8d"/><stop offset=".729" stop-color="#999999"/><stop offset=".758" stop-color="#9f9f9f"/><stop offset=".767" stop-color="#a4a4a4"/><stop offset=".773" stop-color="#b0b0b0"/><stop offset=".775" stop-color="#b7b7b7"/><stop offset=".777" stop-color="#c1c1c1"/><stop offset=".781" stop-color="#dedede"/><stop offset=".783" stop-color="#e8e8e8"/><stop offset=".981" stop-color="#ffffff"/><stop offset="1" stop-color="#ffffff"/></linearGradient><linearGradient id="pa4" x2="0" y2="1"><stop offset="0" stop-color="#585858"/><stop offset=".2" stop-color="#626262"/><stop offset=".444" stop-color="#7d7d7d"/><stop offset=".448" stop-color="#7b7b7b"/><stop offset=".452" stop-color="#767676"/><stop offset=".454" stop-color="#717171"/><stop offset=".458" stop-color="#616161"/><stop offset=".46" stop-color="#5e5e5e"/><stop offset=".463" stop-color="#606060"/><stop offset=".465" stop-color="#707070"/><stop offset=".467" stop-color="#7e7e7e"/><stop offset=".469" stop-color="#818181"/><stop offset=".573" stop-color="#8d8d8d"/><stop offset=".729" stop-color="#999999"/><stop offset=".758" stop-color="#9f9f9f"/><stop offset=".767" stop-color="#a5a5a5"/><stop offset=".773" stop-color="#b0b0b0"/><stop offset=".775" stop-color="#b6b6b6"/><stop offset=".777" stop-color="#c0c0c0"/><stop offset=".781" stop-color="#dcdcdc"/><stop offset=".783" stop-color="#e7e7e7"/><stop offset=".785" stop-color="#e8e8e8"/><stop offset=".892" stop-color="#f3f3f3"/><stop offset=".985" stop-color="#ffffff"/><stop offset="1" stop-color="#ffffff"/></linearGradient><linearGradient id="pa5" x2="0" y2="1"><stop offset="0" stop-color="#585858"/><stop offset=".2" stop-color="#626262"/><stop offset=".444" stop-color="#7d7d7d"/><stop offset=".448" stop-color="#7c7c7c"/><stop offset=".452" stop-color="#777777"/><stop offset=".454" stop-color="#727272"/><stop offset=".458" stop-color="#646464"/><stop offset=".46" stop-color="#5e5e5e"/><stop offset=".463" stop-color="#5d5d5d"/><stop offset=".465" stop-color="#606060"/><stop offset=".467" stop-color="#757575"/><stop offset=".469" stop-color="#7f7f7f"/><stop offset=".471" stop-color="#818181"/><stop offset=".577" stop-color="#8d8d8d"/><stop offset=".727" stop-color="#999999"/><stop offset=".758" stop-color="#9f9f9f"/><stop offset=".767" stop-color="#a5a5a5"/><stop offset=".773" stop-color="#b0b0b0"/><stop offset=".777" stop-color="#bfbfbf"/><stop offset=".783" stop-color="#e6e6e6"/><stop offset=".785" stop-color="#e9e9e9"/><stop offset="1" stop-color="#ffffff"/></linearGradient><linearGradient id="pa6" x2="0" y2="1"><stop offset="0" stop-color="#585858"/><stop offset=".2" stop-color="#636363"/><stop offset=".444" stop-color="#7d7d7d"/><stop offset=".45" stop-color="#7a7a7a"/><stop offset=".454" stop-color="#757575"/><stop offset=".456" stop-color="#707070"/><stop offset=".46" stop-color="#626262"/><stop offset=".463" stop-color="#5e5e5e"/><stop offset=".465" stop-color="#5d5d5d"/><stop offset=".467" stop-color="#606060"/><stop offset=".469" stop-color="#717171"/><stop offset=".471" stop-color="#7e7e7e"/><stop offset=".473" stop-color="#818181"/><stop offset=".581" stop-color="#8d8d8d"/><stop offset=".727" stop-color="#999999"/><stop offset=".758" stop-color="#a0a0a0"/><stop offset=".767" stop-color="#a5a5a5"/><stop offset=".773" stop-color="#b0b0b0"/><stop offset=".777" stop-color="#bebebe"/><stop offset=".783" stop-color="#e3e3e3"/><stop offset=".785" stop-color="#e9e9e9"/><stop offset="1" stop-color="#ffffff"/></linearGradient><linearGradient id="pa7" x2="0" y2="1"><stop offset="0" stop-color="#585858"/><stop offset=".2" stop-color="#636363"/><stop offset=".444" stop-color="#7d7d7d"/><stop offset=".45" stop-color="#7b7b7b"/><stop offset=".454" stop-color="#767676"/><stop offset=".456" stop-color="#737373"/><stop offset=".463" stop-color="#616161"/><stop offset=".465" stop-color="#5e5e5e"/><stop offset=".467" stop-color="#5d5d5d"/><stop offset=".469" stop-color="#606060"/><stop offset=".471" stop-color="#707070"/><stop offset=".473" stop-color="#7d7d7d"/><stop offset=".475" stop-color="#818181"/><stop offset=".588" stop-color="#8e8e8e"/><stop offset=".725" stop-color="#999999"/><stop offset=".746" stop-color="#9c9c9c"/><stop offset=".758" stop-color="#a0a0a0"/><stop offset=".767" stop-color="#a6a6a6"/><stop offset=".773" stop-color="#b0b0b0"/><stop offset=".777" stop-color="#bebebe"/><stop offset=".779" stop-color="#c8c8c8"/><stop offset=".783" stop-color="#e1e1e1"/><stop offset=".785" stop-color="#e8e8e8"/><stop offset="1" stop-color="#ffffff"/></linearGradient><linearGradient id="pa8" x2="0" y2="1"><stop offset="0" stop-color="#585858"/><stop offset=".2" stop-color="#636363"/><stop offset=".444" stop-color="#7d7d7d"/><stop offset=".45" stop-color="#7b7b7b"/><stop offset=".454" stop-color="#787878"/><stop offset=".458" stop-color="#717171"/><stop offset=".465" stop-color="#616161"/><stop offset=".467" stop-color="#5e5e5e"/><stop offset=".469" stop-color="#5e5e5e"/><stop offset=".471" stop-color="#606060"/><stop offset=".475" stop-color="#7c7c7c"/><stop offset=".477" stop-color="#818181"/><stop offset=".479" stop-color="#828282"/><stop offset=".596" stop-color="#8f8f8f"/><stop offset=".723" stop-color="#999999"/><stop offset=".756" stop-color="#9f9f9f"/><stop offset=".767" stop-color="#a6a6a6"/><stop offset=".773" stop-color="#b0b0b0"/><stop offset=".777" stop-color="#bdbdbd"/><stop offset=".779" stop-color="#c7c7c7"/><stop offset=".783" stop-color="#dfdfdf"/><stop offset=".785" stop-color="#e7e7e7"/><stop offset=".787" stop-color="#e9e9e9"/><stop offset="1" stop-color="#ffffff"/></linearGradient><linearGradient id="pa9" x2="0" y2="1"><stop offset="0" stop-color="#595959"/><stop offset=".2" stop-color="#646464"/><stop offset=".444" stop-color="#7d7d7d"/><stop offset=".45" stop-color="#7c7c7c"/><stop offset=".456" stop-color="#777777"/><stop offset=".46" stop-color="#6f6f6f"/><stop offset=".467" stop-color="#606060"/><stop offset=".471" stop-color="#5e5e5e"/><stop offset=".473" stop-color="#606060"/><stop offset=".477" stop-color="#7b7b7b"/><stop offset=".479" stop-color="#818181"/><stop offset=".481" stop-color="#828282"/><stop offset=".6" stop-color="#8f8f8f"/><stop offset=".723" stop-color="#999999"/><stop offset=".756" stop-color="#a0a0a0"/><stop offset=".767" stop-color="#a7a7a7"/><stop offset=".773" stop-color="#b1b1b1"/><stop offset=".777" stop-color="#bdbdbd"/><stop offset=".785" stop-color="#e6e6e6"/><stop offset=".787" stop-color="#e9e9e9"/><stop offset="1" stop-color="#ffffff"/></linearGradient><linearGradient id="pa10" x2="0" y2="1"><stop offset="0" stop-color="#595959"/><stop offset=".2" stop-color="#646464"/><stop offset=".444" stop-color="#7d7d7d"/><stop offset=".45" stop-color="#7c7c7c"/><stop offset=".456" stop-color="#787878"/><stop offset=".46" stop-color="#727272"/><stop offset=".467" stop-color="#636363"/><stop offset=".471" stop-color="#5e5e5e"/><stop offset=".475" stop-color="#616161"/><stop offset=".479" stop-color="#7b7b7b"/><stop offset=".481" stop-color="#818181"/><stop offset=".483" stop-color="#838383"/><stop offset=".721" stop-color="#999999"/><stop offset=".756" stop-color="#a0a0a0"/><stop offset=".767" stop-color="#a7a7a7"/><stop offset=".773" stop-color="#b1b1b1"/><stop offset=".777" stop-color="#bdbdbd"/><stop offset=".779" stop-color="#c5c5c5"/><stop offset=".785" stop-color="#e4e4e4"/><stop offset=".787" stop-color="#e9e9e9"/><stop offset="1" stop-color="#ffffff"/></linearGradient><linearGradient id="pa11" x2="0" y2="1"><stop offset="0" stop-color="#595959"/><stop offset=".2" stop-color="#646464"/><stop offset=".444" stop-color="#7d7d7d"/><stop offset=".452" stop-color="#7c7c7c"/><stop offset=".458" stop-color="#777777"/><stop offset=".463" stop-color="#707070"/><stop offset=".469" stop-color="#636363"/><stop offset=".473" stop-color="#5e5e5e"/><stop offset=".477" stop-color="#616161"/><stop offset=".481" stop-color="#7b7b7b"/><stop offset=".483" stop-color="#808080"/><stop offset=".485" stop-color="#838383"/><stop offset=".721" stop-color="#999999"/><stop offset=".742" stop-color="#9c9c9c"/><stop offset=".756" stop-color="#a1a1a1"/><stop offset=".767" stop-color="#a8a8a8"/><stop offset=".773" stop-color="#b1b1b1"/><stop offset=".777" stop-color="#bdbdbd"/><stop offset=".779" stop-color="#c5c5c5"/><stop offset=".785" stop-color="#e3e3e3"/><stop offset=".787" stop-color="#e8e8e8"/><stop offset="1" stop-color="#ffffff"/></linearGradient><linearGradient id="pa12" x2="0" y2="1"><stop offset="0" stop-color="#595959"/><stop offset=".2" stop-color="#646464"/><stop offset=".444" stop-color="#7e7e7e"/><stop offset=".452" stop-color="#7c7c7c"/><stop offset=".458" stop-color="#787878"/><stop offset=".463" stop-color="#737373"/><stop offset=".471" stop-color="#626262"/><stop offset=".475" stop-color="#5f5f5f"/><stop offset=".479" stop-color="#626262"/><stop offset=".481" stop-color="#6c6c6c"/><stop offset=".483" stop-color="#7a7a7a"/><stop offset=".485" stop-color="#808080"/><stop offset=".487" stop-color="#838383"/><stop offset=".719" stop-color="#999999"/><stop offset=".742" stop-color="#9d9d9d"/><stop offset=".756" stop-color="#a1a1a1"/><stop offset=".767" stop-color="#a8a8a8"/><stop offset=".773" stop-color="#b2b2b2"/><stop offset=".777" stop-color="#bdbdbd"/><stop offset=".779" stop-color="#c4c4c4"/><stop offset=".785" stop-color="#e1e1e1"/><stop offset=".787" stop-color="#e8e8e8"/><stop offset=".79" stop-color="#e9e9e9"/><stop offset="1" stop-color="#ffffff"/></linearGradient><linearGradient id="pa13" x2="0" y2="1"><stop offset="0" stop-color="#595959"/><stop offset=".2" stop-color="#656565"/><stop offset=".444" stop-color="#7e7e7e"/><stop offset=".452" stop-color="#7d7d7d"/><stop offset=".46" stop-color="#787878"/><stop offset=".465" stop-color="#727272"/><stop offset=".473" stop-color="#626262"/><stop offset=".477" stop-color="#5f5f5f"/><stop offset=".481" stop-color="#626262"/><stop offset=".483" stop-color="#6a6a6a"/><stop offset=".485" stop-color="#787878"/><stop offset=".487" stop-color="#7f7f7f"/><stop offset=".49" stop-color="#838383"/><stop offset=".492" stop-color="#848484"/><stop offset=".719" stop-color="#999999"/><stop offset=".742" stop-color="#9d9d9d"/><stop offset=".756" stop-color="#a1a1a1"/><stop offset=".767" stop-color="#a9a9a9"/><stop offset=".773" stop-color="#b2b2b2"/><stop offset=".777" stop-color="#bdbdbd"/><stop offset=".779" stop-color="#c4c4c4"/><stop offset=".785" stop-color="#dfdfdf"/><stop offset=".787" stop-color="#e7e7e7"/><stop offset=".79" stop-color="#e9e9e9"/><stop offset="1" stop-color="#ffffff"/></linearGradient><linearGradient id="pa14" x2="0" y2="1"><stop offset="0" stop-color="#595959"/><stop offset=".2" stop-color="#656565"/><stop offset=".446" stop-color="#7e7e7e"/><stop offset=".454" stop-color="#7d7d7d"/><stop offset=".463" stop-color="#777777"/><stop offset=".467" stop-color="#727272"/><stop offset=".475" stop-color="#636363"/><stop offset=".479" stop-color="#5f5f5f"/><stop offset=".483" stop-color="#616161"/><stop offset=".485" stop-color="#666666"/><stop offset=".49" stop-color="#7d7d7d"/><stop offset=".494" stop-color="#848484"/><stop offset=".717" stop-color="#999999"/><stop offset=".754" stop-color="#a1a1a1"/><stop offset=".765" stop-color="#a7a7a7"/><stop offset=".773" stop-color="#b2b2b2"/><stop offset=".779" stop-color="#c3c3c3"/><stop offset=".787" stop-color="#e5e5e5"/><stop offset=".79" stop-color="#e9e9e9"/><stop offset="1" stop-color="#ffffff"/></linearGradient><linearGradient id="pa15" x2="0" y2="1"><stop offset="0" stop-color="#5a5a5a"/><stop offset=".2" stop-color="#656565"/><stop offset=".446" stop-color="#7e7e7e"/><stop offset=".456" stop-color="#7d7d7d"/><stop offset=".465" stop-color="#777777"/><stop offset=".469" stop-color="#727272"/><stop offset=".477" stop-color="#646464"/><stop offset=".483" stop-color="#606060"/><stop offset=".487" stop-color="#636363"/><stop offset=".49" stop-color="#6b6b6b"/><stop offset=".492" stop-color="#767676"/><stop offset=".494" stop-color="#7e7e7e"/><stop offset=".498" stop-color="#858585"/><stop offset=".715" stop-color="#999999"/><stop offset=".74" stop-color="#9d9d9d"/><stop offset=".754" stop-color="#a2a2a2"/><stop offset=".765" stop-color="#a8a8a8"/><stop offset=".773" stop-color="#b3b3b3"/><stop offset=".779" stop-color="#c3c3c3"/><stop offset=".787" stop-color="#e3e3e3"/><stop offset=".79" stop-color="#e8e8e8"/><stop offset=".792" stop-color="#e9e9e9"/><stop offset="1" stop-color="#ffffff"/></linearGradient><linearGradient id="pa16" x2="0" y2="1"><stop offset="0" stop-color="#5a5a5a"/><stop offset=".2" stop-color="#656565"/><stop offset=".446" stop-color="#7e7e7e"/><stop offset=".456" stop-color="#7d7d7d"/><stop offset=".465" stop-color="#797979"/><stop offset=".471" stop-color="#737373"/><stop offset=".479" stop-color="#656565"/><stop offset=".485" stop-color="#606060"/><stop offset=".49" stop-color="#626262"/><stop offset=".492" stop-color="#656565"/><stop offset=".496" stop-color="#7b7b7b"/><stop offset=".5" stop-color="#848484"/><stop offset=".502" stop-color="#858585"/><stop offset=".713" stop-color="#999999"/><stop offset=".738" stop-color="#9d9d9d"/><stop offset=".754" stop-color="#a2a2a2"/><stop offset=".765" stop-color="#a9a9a9"/><stop offset=".773" stop-color="#b3b3b3"/><stop offset=".779" stop-color="#c2c2c2"/><stop offset=".787" stop-color="#e1e1e1"/><stop offset=".79" stop-color="#e7e7e7"/><stop offset=".792" stop-color="#e9e9e9"/><stop offset="1" stop-color="#fefefe"/></linearGradient><linearGradient id="pa17" x2="0" y2="1"><stop offset="0" stop-color="#5a5a5a"/><stop offset=".2" stop-color="#666666"/><stop offset=".448" stop-color="#7f7f7f"/><stop offset=".458" stop-color="#7d7d7d"/><stop offset=".467" stop-color="#797979"/><stop offset=".473" stop-color="#737373"/><stop offset=".483" stop-color="#636363"/><stop offset=".49" stop-color="#616161"/><stop offset=".494" stop-color="#646464"/><stop offset=".496" stop-color="#6a6a6a"/><stop offset=".5" stop-color="#7e7e7e"/><stop offset=".504" stop-color="#858585"/><stop offset=".506" stop-color="#868686"/><stop offset=".713" stop-color="#9a9a9a"/><stop offset=".738" stop-color="#9d9d9d"/><stop offset=".754" stop-color="#a3a3a3"/><stop offset=".765" stop-color="#a9a9a9"/><stop offset=".773" stop-color="#b4b4b4"/><stop offset=".779" stop-color="#c2c2c2"/><stop offset=".79" stop-color="#e5e5e5"/><stop offset=".792" stop-color="#e9e9e9"/><stop offset=".794" stop-color="#eaeaea"/><stop offset="1" stop-color="#fefefe"/></linearGradient><linearGradient id="pa18" x2="0" y2="1"><stop offset="0" stop-color="#5a5a5a"/><stop offset=".2" stop-color="#666666"/><stop offset=".448" stop-color="#7f7f7f"/><stop offset=".458" stop-color="#7e7e7e"/><stop offset=".469" stop-color="#7a7a7a"/><stop offset=".475" stop-color="#747474"/><stop offset=".485" stop-color="#656565"/><stop offset=".492" stop-color="#616161"/><stop offset=".498" stop-color="#646464"/><stop offset=".504" stop-color="#7e7e7e"/><stop offset=".508" stop-color="#858585"/><stop offset=".51" stop-color="#868686"/><stop offset=".71" stop-color="#9a9a9a"/><stop offset=".738" stop-color="#9e9e9e"/><stop offset=".754" stop-color="#a3a3a3"/><stop offset=".765" stop-color="#aaaaaa"/><stop offset=".773" stop-color="#b4b4b4"/><stop offset=".779" stop-color="#c2c2c2"/><stop offset=".79" stop-color="#e3e3e3"/><stop offset=".792" stop-color="#e8e8e8"/><stop offset=".794" stop-color="#eaeaea"/><stop offset="1" stop-color="#fefefe"/></linearGradient><linearGradient id="pa19" x2="0" y2="1"><stop offset="0" stop-color="#5b5b5b"/><stop offset=".2" stop-color="#666666"/><stop offset=".45" stop-color="#7f7f7f"/><stop offset=".463" stop-color="#7e7e7e"/><stop offset=".473" stop-color="#797979"/><stop offset=".477" stop-color="#757575"/><stop offset=".487" stop-color="#676767"/><stop offset=".496" stop-color="#616161"/><stop offset=".502" stop-color="#656565"/><stop offset=".508" stop-color="#7e7e7e"/><stop offset=".512" stop-color="#858585"/><stop offset=".515" stop-color="#868686"/><stop offset=".708" stop-color="#9a9a9a"/><stop offset=".735" stop-color="#9e9e9e"/><stop offset=".752" stop-color="#a3a3a3"/><stop offset=".765" stop-color="#ababab"/><stop offset=".773" stop-color="#b5b5b5"/><stop offset=".779" stop-color="#c2c2c2"/><stop offset=".79" stop-color="#e1e1e1"/><stop offset=".794" stop-color="#e9e9e9"/><stop offset="1" stop-color="#fefefe"/></linearGradient><linearGradient id="pa20" x2="0" y2="1"><stop offset="0" stop-color="#5b5b5b"/><stop offset=".2" stop-color="#676767"/><stop offset=".452" stop-color="#7f7f7f"/><stop offset=".465" stop-color="#7e7e7e"/><stop offset=".475" stop-color="#797979"/><stop offset=".481" stop-color="#747474"/><stop offset=".492" stop-color="#666666"/><stop offset=".5" stop-color="#626262"/><stop offset=".506" stop-color="#656565"/><stop offset=".512" stop-color="#7e7e7e"/><stop offset=".519" stop-color="#878787"/><stop offset=".708" stop-color="#9a9a9a"/><stop offset=".735" stop-color="#9e9e9e"/><stop offset=".752" stop-color="#a4a4a4"/><stop offset=".765" stop-color="#acacac"/><stop offset=".773" stop-color="#b5b5b5"/><stop offset=".781" stop-color="#c7c7c7"/><stop offset=".792" stop-color="#e5e5e5"/><stop offset=".796" stop-color="#eaeaea"/><stop offset="1" stop-color="#fefefe"/></linearGradient><linearGradient id="pa21" x2="0" y2="1"><stop offset="0" stop-color="#5b5b5b"/><stop offset=".2" stop-color="#676767"/><stop offset=".452" stop-color="#808080"/><stop offset=".465" stop-color="#7f7f7f"/><stop offset=".477" stop-color="#7a7a7a"/><stop offset=".483" stop-color="#757575"/><stop offset=".496" stop-color="#666666"/><stop offset=".504" stop-color="#626262"/><stop offset=".51" stop-color="#666666"/><stop offset=".512" stop-color="#6c6c6c"/><stop offset=".517" stop-color="#7d7d7d"/><stop offset=".521" stop-color="#858585"/><stop offset=".525" stop-color="#888888"/><stop offset=".706" stop-color="#9a9a9a"/><stop offset=".733" stop-color="#9e9e9e"/><stop offset=".752" stop-color="#a4a4a4"/><stop offset=".765" stop-color="#acacac"/><stop offset=".773" stop-color="#b6b6b6"/><stop offset=".779" stop-color="#c1c1c1"/><stop offset=".792" stop-color="#e3e3e3"/><stop offset=".796" stop-color="#eaeaea"/><stop offset="1" stop-color="#fefefe"/></linearGradient><linearGradient id="pa22" x2="0" y2="1"><stop offset="0" stop-color="#5b5b5b"/><stop offset=".2" stop-color="#676767"/><stop offset=".454" stop-color="#808080"/><stop offset=".467" stop-color="#7f7f7f"/><stop offset=".479" stop-color="#7b7b7b"/><stop offset=".487" stop-color="#757575"/><stop offset=".5" stop-color="#666666"/><stop offset=".508" stop-color="#636363"/><stop offset=".515" stop-color="#666666"/><stop offset=".517" stop-color="#6a6a6a"/><stop offset=".521" stop-color="#7b7b7b"/><stop offset=".523" stop-color="#808080"/><stop offset=".529" stop-color="#888888"/><stop offset=".706" stop-color="#9a9a9a"/><stop offset=".733" stop-color="#9f9f9f"/><stop offset=".752" stop-color="#a5a5a5"/><stop offset=".765" stop-color="#adadad"/><stop offset=".773" stop-color="#b6b6b6"/><stop offset=".781" stop-color="#c6c6c6"/><stop offset=".794" stop-color="#e5e5e5"/><stop offset=".798" stop-color="#eaeaea"/><stop offset="1" stop-color="#fefefe"/></linearGradient><linearGradient id="pa23" x2="0" y2="1"><stop offset="0" stop-color="#5c5c5c"/><stop offset=".2" stop-color="#686868"/><stop offset=".456" stop-color="#808080"/><stop offset=".471" stop-color="#7f7f7f"/><stop offset=".483" stop-color="#7b7b7b"/><stop offset=".49" stop-color="#767676"/><stop offset=".504" stop-color="#666666"/><stop offset=".512" stop-color="#636363"/><stop offset=".519" stop-color="#666666"/><stop offset=".521" stop-color="#696969"/><stop offset=".527" stop-color="#7f7f7f"/><stop offset=".531" stop-color="#868686"/><stop offset=".535" stop-color="#898989"/><stop offset=".704" stop-color="#9a9a9a"/><stop offset=".733" stop-color="#9f9f9f"/><stop offset=".752" stop-color="#a6a6a6"/><stop offset=".765" stop-color="#aeaeae"/><stop offset=".773" stop-color="#b7b7b7"/><stop offset=".781" stop-color="#c5c5c5"/><stop offset=".794" stop-color="#e4e4e4"/><stop offset=".798" stop-color="#eaeaea"/><stop offset=".8" stop-color="#ebebeb"/><stop offset="1" stop-color="#fefefe"/></linearGradient><linearGradient id="pa24" x2="0" y2="1"><stop offset="0" stop-color="#5c5c5c"/><stop offset=".2" stop-color="#686868"/><stop offset=".458" stop-color="#818181"/><stop offset=".473" stop-color="#808080"/><stop offset=".485" stop-color="#7b7b7b"/><stop offset=".494" stop-color="#767676"/><stop offset=".506" stop-color="#686868"/><stop offset=".517" stop-color="#646464"/><stop offset=".523" stop-color="#676767"/><stop offset=".525" stop-color="#696969"/><stop offset=".531" stop-color="#7f7f7f"/><stop offset=".535" stop-color="#868686"/><stop offset=".54" stop-color="#898989"/><stop offset=".704" stop-color="#9b9b9b"/><stop offset=".733" stop-color="#a0a0a0"/><stop offset=".752" stop-color="#a6a6a6"/><stop offset=".765" stop-color="#aeaeae"/><stop offset=".775" stop-color="#bababa"/><stop offset=".783" stop-color="#c9c9c9"/><stop offset=".794" stop-color="#e2e2e2"/><stop offset=".8" stop-color="#eaeaea"/><stop offset="1" stop-color="#fefefe"/></linearGradient><linearGradient id="pa25" x2="0" y2="1"><stop offset="0" stop-color="#5c5c5c"/><stop offset=".2" stop-color="#686868"/><stop offset=".46" stop-color="#818181"/><stop offset=".475" stop-color="#808080"/><stop offset=".49" stop-color="#7b7b7b"/><stop offset=".496" stop-color="#777777"/><stop offset=".51" stop-color="#686868"/><stop offset=".521" stop-color="#646464"/><stop offset=".529" stop-color="#696969"/><stop offset=".535" stop-color="#7f7f7f"/><stop offset=".54" stop-color="#868686"/><stop offset=".544" stop-color="#898989"/><stop offset=".704" stop-color="#9b9b9b"/><stop offset=".733" stop-color="#a0a0a0"/><stop offset=".752" stop-color="#a7a7a7"/><stop offset=".765" stop-color="#afafaf"/><stop offset=".775" stop-color="#bbbbbb"/><stop offset=".783" stop-color="#c9c9c9"/><stop offset=".796" stop-color="#e4e4e4"/><stop offset=".802" stop-color="#ebebeb"/><stop offset="1" stop-color="#fefefe"/></linearGradient><linearGradient id="pa26" x2="0" y2="1"><stop offset="0" stop-color="#5c5c5c"/><stop offset=".2" stop-color="#696969"/><stop offset=".463" stop-color="#828282"/><stop offset=".477" stop-color="#818181"/><stop offset=".492" stop-color="#7c7c7c"/><stop offset=".5" stop-color="#777777"/><stop offset=".515" stop-color="#696969"/><stop offset=".525" stop-color="#656565"/><stop offset=".533" stop-color="#696969"/><stop offset=".535" stop-color="#6d6d6d"/><stop offset=".542" stop-color="#818181"/><stop offset=".546" stop-color="#878787"/><stop offset=".55" stop-color="#8a8a8a"/><stop offset=".704" stop-color="#9b9b9b"/><stop offset=".733" stop-color="#a1a1a1"/><stop offset=".752" stop-color="#a8a8a8"/><stop offset=".765" stop-color="#b0b0b0"/><stop offset=".775" stop-color="#bbbbbb"/><stop offset=".783" stop-color="#c9c9c9"/><stop offset=".796" stop-color="#e3e3e3"/><stop offset=".802" stop-color="#ebebeb"/><stop offset="1" stop-color="#fefefe"/></linearGradient><linearGradient id="pa27" x2="0" y2="1"><stop offset="0" stop-color="#5d5d5d"/><stop offset=".2" stop-color="#696969"/><stop offset=".465" stop-color="#828282"/><stop offset=".481" stop-color="#818181"/><stop offset=".496" stop-color="#7d7d7d"/><stop offset=".504" stop-color="#787878"/><stop offset=".519" stop-color="#6a6a6a"/><stop offset=".527" stop-color="#666666"/><stop offset=".531" stop-color="#666666"/><stop offset=".54" stop-color="#6b6b6b"/><stop offset=".546" stop-color="#7f7f7f"/><stop offset=".548" stop-color="#838383"/><stop offset=".552" stop-color="#898989"/><stop offset=".556" stop-color="#8b8b8b"/><stop offset=".702" stop-color="#9c9c9c"/><stop offset=".731" stop-color="#a1a1a1"/><stop offset=".752" stop-color="#a8a8a8"/><stop offset=".765" stop-color="#b0b0b0"/><stop offset=".775" stop-color="#bbbbbb"/><stop offset=".783" stop-color="#c8c8c8"/><stop offset=".798" stop-color="#e5e5e5"/><stop offset=".804" stop-color="#ebebeb"/><stop offset="1" stop-color="#fefefe"/></linearGradient><linearGradient id="pa28" x2="0" y2="1"><stop offset="0" stop-color="#5d5d5d"/><stop offset=".2" stop-color="#696969"/><stop offset=".469" stop-color="#838383"/><stop offset=".485" stop-color="#828282"/><stop offset=".5" stop-color="#7d7d7d"/><stop offset=".508" stop-color="#787878"/><stop offset=".525" stop-color="#696969"/><stop offset=".535" stop-color="#666666"/><stop offset=".544" stop-color="#6a6a6a"/><stop offset=".546" stop-color="#6e6e6e"/><stop offset=".552" stop-color="#818181"/><stop offset=".558" stop-color="#8a8a8a"/><stop offset=".562" stop-color="#8c8c8c"/><stop offset=".702" stop-color="#9c9c9c"/><stop offset=".731" stop-color="#a2a2a2"/><stop offset=".752" stop-color="#a9a9a9"/><stop offset=".765" stop-color="#b1b1b1"/><stop offset=".775" stop-color="#bcbcbc"/><stop offset=".783" stop-color="#c8c8c8"/><stop offset=".798" stop-color="#e3e3e3"/><stop offset=".802" stop-color="#e9e9e9"/><stop offset=".806" stop-color="#ececec"/><stop offset="1" stop-color="#ffffff"/></linearGradient><linearGradient id="pa29" x2="0" y2="1"><stop offset="0" stop-color="#5d5d5d"/><stop offset=".2" stop-color="#6a6a6a"/><stop offset=".471" stop-color="#838383"/><stop offset=".487" stop-color="#838383"/><stop offset=".504" stop-color="#7e7e7e"/><stop offset=".512" stop-color="#797979"/><stop offset=".529" stop-color="#6a6a6a"/><stop offset=".542" stop-color="#676767"/><stop offset=".55" stop-color="#6c6c6c"/><stop offset=".558" stop-color="#838383"/><stop offset=".567" stop-color="#8d8d8d"/><stop offset=".704" stop-color="#9d9d9d"/><stop offset=".731" stop-color="#a2a2a2"/><stop offset=".752" stop-color="#aaaaaa"/><stop offset=".765" stop-color="#b2b2b2"/><stop offset=".775" stop-color="#bcbcbc"/><stop offset=".783" stop-color="#c8c8c8"/><stop offset=".8" stop-color="#e5e5e5"/><stop offset=".806" stop-color="#ebebeb"/><stop offset="1" stop-color="#ffffff"/></linearGradient><linearGradient id="pa30" x2="0" y2="1"><stop offset="0" stop-color="#5e5e5e"/><stop offset=".2" stop-color="#6a6a6a"/><stop offset=".475" stop-color="#848484"/><stop offset=".492" stop-color="#838383"/><stop offset=".508" stop-color="#7f7f7f"/><stop offset=".517" stop-color="#7a7a7a"/><stop offset=".533" stop-color="#6c6c6c"/><stop offset=".546" stop-color="#686868"/><stop offset=".556" stop-color="#6e6e6e"/><stop offset=".565" stop-color="#858585"/><stop offset=".573" stop-color="#8e8e8e"/><stop offset=".704" stop-color="#9d9d9d"/><stop offset=".731" stop-color="#a3a3a3"/><stop offset=".752" stop-color="#ababab"/><stop offset=".765" stop-color="#b3b3b3"/><stop offset=".775" stop-color="#bcbcbc"/><stop offset=".785" stop-color="#cbcbcb"/><stop offset=".8" stop-color="#e4e4e4"/><stop offset=".808" stop-color="#ececec"/><stop offset="1" stop-color="#ffffff"/></linearGradient><linearGradient id="pa31" x2="0" y2="1"><stop offset="0" stop-color="#5e5e5e"/><stop offset=".2" stop-color="#6b6b6b"/><stop offset=".479" stop-color="#858585"/><stop offset=".496" stop-color="#848484"/><stop offset=".512" stop-color="#808080"/><stop offset=".523" stop-color="#7a7a7a"/><stop offset=".54" stop-color="#6d6d6d"/><stop offset=".552" stop-color="#696969"/><stop offset=".562" stop-color="#6e6e6e"/><stop offset=".571" stop-color="#858585"/><stop offset=".577" stop-color="#8d8d8d"/><stop offset=".581" stop-color="#8f8f8f"/><stop offset=".702" stop-color="#9e9e9e"/><stop offset=".731" stop-color="#a4a4a4"/><stop offset=".752" stop-color="#acacac"/><stop offset=".765" stop-color="#b3b3b3"/><stop offset=".775" stop-color="#bdbdbd"/><stop offset=".785" stop-color="#cacaca"/><stop offset=".802" stop-color="#e5e5e5"/><stop offset=".81" stop-color="#ececec"/><stop offset="1" stop-color="#ffffff"/></linearGradient><linearGradient id="pa32" x2="0" y2="1"><stop offset="0" stop-color="#5e5e5e"/><stop offset=".2" stop-color="#6b6b6b"/><stop offset=".483" stop-color="#858585"/><stop offset=".5" stop-color="#858585"/><stop offset=".517" stop-color="#818181"/><stop offset=".527" stop-color="#7c7c7c"/><stop offset=".546" stop-color="#6d6d6d"/><stop offset=".558" stop-color="#6a6a6a"/><stop offset=".569" stop-color="#707070"/><stop offset=".577" stop-color="#868686"/><stop offset=".583" stop-color="#8e8e8e"/><stop offset=".588" stop-color="#909090"/><stop offset=".704" stop-color="#9f9f9f"/><stop offset=".733" stop-color="#a5a5a5"/><stop offset=".754" stop-color="#aeaeae"/><stop offset=".767" stop-color="#b6b6b6"/><stop offset=".777" stop-color="#c0c0c0"/><stop offset=".785" stop-color="#cacaca"/><stop offset=".804" stop-color="#e6e6e6"/><stop offset=".812" stop-color="#ededed"/><stop offset="1" stop-color="#ffffff"/></linearGradient><linearGradient id="pa33" x2="0" y2="1"><stop offset="0" stop-color="#5f5f5f"/><stop offset=".202" stop-color="#6b6b6b"/><stop offset=".485" stop-color="#868686"/><stop offset=".504" stop-color="#868686"/><stop offset=".521" stop-color="#828282"/><stop offset=".531" stop-color="#7e7e7e"/><stop offset=".55" stop-color="#707070"/><stop offset=".565" stop-color="#6c6c6c"/><stop offset=".575" stop-color="#727272"/><stop offset=".583" stop-color="#878787"/><stop offset=".59" stop-color="#8f8f8f"/><stop offset=".594" stop-color="#919191"/><stop offset=".706" stop-color="#a0a0a0"/><stop offset=".733" stop-color="#a6a6a6"/><stop offset=".754" stop-color="#aeaeae"/><stop offset=".767" stop-color="#b6b6b6"/><stop offset=".777" stop-color="#c0c0c0"/><stop offset=".787" stop-color="#cccccc"/><stop offset=".804" stop-color="#e4e4e4"/><stop offset=".812" stop-color="#ececec"/><stop offset="1" stop-color="#ffffff"/></linearGradient><linearGradient id="pa34" x2="0" y2="1"><stop offset="0" stop-color="#5f5f5f"/><stop offset=".202" stop-color="#6c6c6c"/><stop offset=".492" stop-color="#878787"/><stop offset=".508" stop-color="#878787"/><stop offset=".527" stop-color="#838383"/><stop offset=".537" stop-color="#7e7e7e"/><stop offset=".556" stop-color="#717171"/><stop offset=".571" stop-color="#6e6e6e"/><stop offset=".581" stop-color="#737373"/><stop offset=".59" stop-color="#888888"/><stop offset=".594" stop-color="#8d8d8d"/><stop offset=".6" stop-color="#929292"/><stop offset=".706" stop-color="#a0a0a0"/><stop offset=".733" stop-color="#a7a7a7"/><stop offset=".754" stop-color="#afafaf"/><stop offset=".767" stop-color="#b6b6b6"/><stop offset=".777" stop-color="#bfbfbf"/><stop offset=".787" stop-color="#cbcbcb"/><stop offset=".806" stop-color="#e5e5e5"/><stop offset=".815" stop-color="#ebebeb"/><stop offset="1" stop-color="#fefefe"/></linearGradient><linearGradient id="pa35" x2="0" y2="1"><stop offset="0" stop-color="#606060"/><stop offset=".204" stop-color="#6c6c6c"/><stop offset=".496" stop-color="#888888"/><stop offset=".512" stop-color="#888888"/><stop offset=".531" stop-color="#858585"/><stop offset=".542" stop-color="#818181"/><stop offset=".562" stop-color="#737373"/><stop offset=".577" stop-color="#717171"/><stop offset=".588" stop-color="#767676"/><stop offset=".598" stop-color="#8c8c8c"/><stop offset=".608" stop-color="#949494"/><stop offset=".706" stop-color="#a1a1a1"/><stop offset=".733" stop-color="#a7a7a7"/><stop offset=".754" stop-color="#afafaf"/><stop offset=".777" stop-color="#bfbfbf"/><stop offset=".787" stop-color="#cacaca"/><stop offset=".806" stop-color="#e2e2e2"/><stop offset=".817" stop-color="#eaeaea"/><stop offset="1" stop-color="#fdfdfd"/></linearGradient><linearGradient id="pa36" x2="0" y2="1"><stop offset="0" stop-color="#606060"/><stop offset=".204" stop-color="#6d6d6d"/><stop offset=".504" stop-color="#898989"/><stop offset=".521" stop-color="#898989"/><stop offset=".54" stop-color="#868686"/><stop offset=".55" stop-color="#828282"/><stop offset=".569" stop-color="#777777"/><stop offset=".583" stop-color="#747474"/><stop offset=".594" stop-color="#787878"/><stop offset=".596" stop-color="#7a7a7a"/><stop offset=".604" stop-color="#8c8c8c"/><stop offset=".615" stop-color="#959595"/><stop offset=".708" stop-color="#a2a2a2"/><stop offset=".735" stop-color="#a8a8a8"/><stop offset=".756" stop-color="#b1b1b1"/><stop offset=".779" stop-color="#c0c0c0"/><stop offset=".808" stop-color="#e1e1e1"/><stop offset=".819" stop-color="#e9e9e9"/><stop offset="1" stop-color="#fcfcfc"/></linearGradient><linearGradient id="pa37" x2="0" y2="1"><stop offset="0" stop-color="#616161"/><stop offset=".206" stop-color="#6e6e6e"/><stop offset=".508" stop-color="#8b8b8b"/><stop offset=".527" stop-color="#8b8b8b"/><stop offset=".546" stop-color="#888888"/><stop offset=".577" stop-color="#7a7a7a"/><stop offset=".592" stop-color="#787878"/><stop offset=".602" stop-color="#7b7b7b"/><stop offset=".613" stop-color="#8f8f8f"/><stop offset=".623" stop-color="#969696"/><stop offset=".71" stop-color="#a3a3a3"/><stop offset=".735" stop-color="#a9a9a9"/><stop offset=".756" stop-color="#b1b1b1"/><stop offset=".779" stop-color="#c0c0c0"/><stop offset=".81" stop-color="#e0e0e0"/><stop offset=".821" stop-color="#e6e6e6"/><stop offset="1" stop-color="#fafafa"/></linearGradient><linearGradient id="pa38" x2="0" y2="1"><stop offset="0" stop-color="#626262"/><stop offset=".208" stop-color="#6f6f6f"/><stop offset=".517" stop-color="#8d8d8d"/><stop offset=".552" stop-color="#8b8b8b"/><stop offset=".585" stop-color="#7f7f7f"/><stop offset=".602" stop-color="#7d7d7d"/><stop offset=".61" stop-color="#7f7f7f"/><stop offset=".621" stop-color="#909090"/><stop offset=".631" stop-color="#989898"/><stop offset=".713" stop-color="#a4a4a4"/><stop offset=".738" stop-color="#aaaaaa"/><stop offset=".756" stop-color="#b1b1b1"/><stop offset=".779" stop-color="#bfbfbf"/><stop offset=".812" stop-color="#dedede"/><stop offset=".823" stop-color="#e4e4e4"/><stop offset="1" stop-color="#f7f7f7"/></linearGradient><linearGradient id="pa39" x2="0" y2="1"><stop offset="0" stop-color="#646464"/><stop offset=".21" stop-color="#717171"/><stop offset=".525" stop-color="#909090"/><stop offset=".56" stop-color="#8f8f8f"/><stop offset=".594" stop-color="#848484"/><stop offset=".613" stop-color="#828282"/><stop offset=".621" stop-color="#858585"/><stop offset=".631" stop-color="#949494"/><stop offset=".642" stop-color="#9a9a9a"/><stop offset=".715" stop-color="#a4a4a4"/><stop offset=".74" stop-color="#ababab"/><stop offset=".758" stop-color="#b2b2b2"/><stop offset=".779" stop-color="#bdbdbd"/><stop offset=".812" stop-color="#dadada"/><stop offset=".825" stop-color="#e1e1e1"/><stop offset="1" stop-color="#f4f4f4"/></linearGradient><linearGradient id="pa40" x2="0" y2="1"><stop offset="0" stop-color="#666666"/><stop offset=".212" stop-color="#747474"/><stop offset=".537" stop-color="#949494"/><stop offset=".573" stop-color="#939393"/><stop offset=".613" stop-color="#898989"/><stop offset=".625" stop-color="#888888"/><stop offset=".631" stop-color="#8a8a8a"/><stop offset=".642" stop-color="#969696"/><stop offset=".652" stop-color="#9c9c9c"/><stop offset=".719" stop-color="#a6a6a6"/><stop offset=".76" stop-color="#b2b2b2"/><stop offset=".781" stop-color="#bdbdbd"/><stop offset=".815" stop-color="#d7d7d7"/><stop offset=".827" stop-color="#dddddd"/><stop offset="1" stop-color="#f1f1f1"/></linearGradient><linearGradient id="pa41" x2="0" y2="1"><stop offset="0" stop-color="#696969"/><stop offset=".217" stop-color="#777777"/><stop offset=".55" stop-color="#989898"/><stop offset=".588" stop-color="#979797"/><stop offset=".627" stop-color="#8f8f8f"/><stop offset=".64" stop-color="#8e8e8e"/><stop offset=".644" stop-color="#909090"/><stop offset=".654" stop-color="#9a9a9a"/><stop offset=".662" stop-color="#9d9d9d"/><stop offset=".723" stop-color="#a7a7a7"/><stop offset=".76" stop-color="#b2b2b2"/><stop offset=".783" stop-color="#bdbdbd"/><stop offset=".817" stop-color="#d3d3d3"/><stop offset=".829" stop-color="#d9d9d9"/><stop offset="1" stop-color="#ededed"/></linearGradient><linearGradient id="pa42" x2="0" y2="1"><stop offset="0" stop-color="#6b6b6b"/><stop offset=".221" stop-color="#797979"/><stop offset=".565" stop-color="#9c9c9c"/><stop offset=".602" stop-color="#9d9d9d"/><stop offset=".654" stop-color="#959595"/><stop offset=".667" stop-color="#9c9c9c"/><stop offset=".675" stop-color="#9f9f9f"/><stop offset=".727" stop-color="#a8a8a8"/><stop offset=".762" stop-color="#b2b2b2"/><stop offset=".783" stop-color="#bbbbbb"/><stop offset=".819" stop-color="#cfcfcf"/><stop offset=".833" stop-color="#d6d6d6"/><stop offset="1" stop-color="#eaeaea"/></linearGradient><linearGradient id="pa43" x2="0" y2="1"><stop offset="0" stop-color="#6e6e6e"/><stop offset=".227" stop-color="#7c7c7c"/><stop offset=".583" stop-color="#a1a1a1"/><stop offset=".637" stop-color="#a2a2a2"/><stop offset=".673" stop-color="#9c9c9c"/><stop offset=".692" stop-color="#a2a2a2"/><stop offset=".733" stop-color="#aaaaaa"/><stop offset=".765" stop-color="#b2b2b2"/><stop offset=".838" stop-color="#d1d1d1"/><stop offset="1" stop-color="#e5e5e5"/></linearGradient><linearGradient id="pa44" x2="0" y2="1"><stop offset="0" stop-color="#6e6e6e"/><stop offset=".235" stop-color="#7e7e7e"/><stop offset=".631" stop-color="#a7a7a7"/><stop offset=".662" stop-color="#a9a9a9"/><stop offset=".696" stop-color="#a3a3a3"/><stop offset=".767" stop-color="#b3b3b3"/><stop offset=".844" stop-color="#cfcfcf"/><stop offset="1" stop-color="#e4e4e4"/></linearGradient><linearGradient id="pa45" x2="0" y2="1"><stop offset="0" stop-color="#6f6f6f"/><stop offset=".15" stop-color="#787878"/><stop offset=".279" stop-color="#838383"/><stop offset=".398" stop-color="#8f8f8f"/><stop offset=".694" stop-color="#b3b3b3"/><stop offset=".731" stop-color="#b0b0b0"/><stop offset=".777" stop-color="#bdbdbd"/><stop offset=".85" stop-color="#d8d8d8"/><stop offset="1" stop-color="#f3f3f3"/></linearGradient><linearGradient id="pa46" x2="0" y2="1"><stop offset="0" stop-color="#707070"/><stop offset=".171" stop-color="#7a7a7a"/><stop offset=".306" stop-color="#868686"/><stop offset=".608" stop-color="#aaaaaa"/><stop offset=".677" stop-color="#b4b4b4"/><stop offset=".721" stop-color="#bcbcbc"/><stop offset=".752" stop-color="#bcbcbc"/><stop offset=".781" stop-color="#c6c6c6"/><stop offset=".838" stop-color="#dedede"/><stop offset=".86" stop-color="#e6e6e6"/><stop offset=".975" stop-color="#ffffff"/><stop offset="1" stop-color="#ffffff"/></linearGradient><linearGradient id="pa47" x2="0" y2="1"><stop offset="0" stop-color="#717171"/><stop offset=".163" stop-color="#7a7a7a"/><stop offset=".298" stop-color="#868686"/><stop offset=".41" stop-color="#929292"/><stop offset=".644" stop-color="#b1b1b1"/><stop offset=".698" stop-color="#bababa"/><stop offset=".742" stop-color="#c5c5c5"/><stop offset=".777" stop-color="#c8c8c8"/><stop offset=".863" stop-color="#ececec"/><stop offset=".929" stop-color="#ffffff"/><stop offset="1" stop-color="#ffffff"/></linearGradient><linearGradient id="pa48" x2="0" y2="1"><stop offset="0" stop-color="#717171"/><stop offset=".156" stop-color="#7a7a7a"/><stop offset=".292" stop-color="#858585"/><stop offset=".4" stop-color="#919191"/><stop offset=".61" stop-color="#adadad"/><stop offset=".7" stop-color="#bdbdbd"/><stop offset=".771" stop-color="#d1d1d1"/><stop offset=".806" stop-color="#d5d5d5"/><stop offset=".838" stop-color="#e3e3e3"/><stop offset=".867" stop-color="#f5f5f5"/><stop offset=".887" stop-color="#ffffff"/><stop offset="1" stop-color="#ffffff"/></linearGradient><linearGradient id="pa49" x2="0" y2="1"><stop offset="0" stop-color="#6e6e6e"/><stop offset=".156" stop-color="#777777"/><stop offset=".294" stop-color="#838383"/><stop offset=".4" stop-color="#8e8e8e"/><stop offset=".6" stop-color="#a9a9a9"/><stop offset=".681" stop-color="#b8b8b8"/><stop offset=".75" stop-color="#cacaca"/><stop offset=".84" stop-color="#e9e9e9"/><stop offset=".873" stop-color="#ffffff"/><stop offset="1" stop-color="#ffffff"/></linearGradient><linearGradient id="pa50" x2="0" y2="1"><stop offset="0" stop-color="#6b6b6b"/><stop offset=".14" stop-color="#747474"/><stop offset=".287" stop-color="#808080"/><stop offset=".569" stop-color="#a0a0a0"/><stop offset=".667" stop-color="#b3b3b3"/><stop offset=".75" stop-color="#c9c9c9"/><stop offset=".827" stop-color="#e6e6e6"/><stop offset=".877" stop-color="#ffffff"/><stop offset="1" stop-color="#ffffff"/></linearGradient><linearGradient id="pa51" x2="0" y2="1"><stop offset="0" stop-color="#6b6b6b"/><stop offset=".287" stop-color="#818181"/><stop offset=".56" stop-color="#9f9f9f"/><stop offset=".644" stop-color="#afafaf"/><stop offset=".74" stop-color="#c7c7c7"/><stop offset=".79" stop-color="#d8d8d8"/><stop offset=".887" stop-color="#ffffff"/><stop offset="1" stop-color="#ffffff"/></linearGradient><linearGradient id="pa52" x2="0" y2="1"><stop offset="0" stop-color="#6b6b6b"/><stop offset=".29" stop-color="#818181"/><stop offset=".554" stop-color="#9f9f9f"/><stop offset=".631" stop-color="#adadad"/><stop offset=".735" stop-color="#c6c6c6"/><stop offset=".779" stop-color="#d4d4d4"/><stop offset=".854" stop-color="#f1f1f1"/><stop offset=".9" stop-color="#ffffff"/><stop offset="1" stop-color="#ffffff"/></linearGradient><linearGradient id="pa53" x2="0" y2="1"><stop offset="0" stop-color="#6b6b6b"/><stop offset=".135" stop-color="#747474"/><stop offset=".292" stop-color="#818181"/><stop offset=".546" stop-color="#9e9e9e"/><stop offset=".623" stop-color="#acacac"/><stop offset=".735" stop-color="#c6c6c6"/><stop offset=".775" stop-color="#d2d2d2"/><stop offset=".844" stop-color="#ebebeb"/><stop offset=".919" stop-color="#ffffff"/><stop offset="1" stop-color="#ffffff"/></linearGradient><linearGradient id="pa54" x2="0" y2="1"><stop offset="0" stop-color="#6b6b6b"/><stop offset=".133" stop-color="#737373"/><stop offset=".29" stop-color="#808080"/><stop offset=".529" stop-color="#9c9c9c"/><stop offset=".608" stop-color="#a9a9a9"/><stop offset=".721" stop-color="#c2c2c2"/><stop offset=".767" stop-color="#cfcfcf"/><stop offset=".84" stop-color="#e7e7e7"/><stop offset=".94" stop-color="#ffffff"/><stop offset="1" stop-color="#ffffff"/></linearGradient><linearGradient id="pa55" x2="0" y2="1"><stop offset="0" stop-color="#6b6b6b"/><stop offset=".135" stop-color="#737373"/><stop offset=".298" stop-color="#808080"/><stop offset=".408" stop-color="#8c8c8c"/><stop offset=".519" stop-color="#9a9a9a"/><stop offset=".592" stop-color="#a6a6a6"/><stop offset=".673" stop-color="#b7b7b7"/><stop offset=".738" stop-color="#c6c6c6"/><stop offset=".838" stop-color="#e1e1e1"/><stop offset=".965" stop-color="#ffffff"/><stop offset="1" stop-color="#ffffff"/></linearGradient><linearGradient id="pa56" x2="0" y2="1"><stop offset="0" stop-color="#6b6b6b"/><stop offset=".138" stop-color="#737373"/><stop offset=".3" stop-color="#808080"/><stop offset=".41" stop-color="#8c8c8c"/><stop offset=".519" stop-color="#9a9a9a"/><stop offset=".588" stop-color="#a5a5a5"/><stop offset=".66" stop-color="#b4b4b4"/><stop offset=".971" stop-color="#ffffff"/><stop offset="1" stop-color="#ffffff"/></linearGradient>
<linearGradient id="pb0" x2="0" y2="1"><stop offset="0" stop-color="#9c9c9c"/><stop offset=".12" stop-color="#a4a4a4"/><stop offset=".345" stop-color="#bebebe"/><stop offset=".757" stop-color="#e7e7e7"/><stop offset=".968" stop-color="#ffffff"/><stop offset="1" stop-color="#ffffff"/></linearGradient><linearGradient id="pb1" x2="0" y2="1"><stop offset="0" stop-color="#979797"/><stop offset=".04" stop-color="#999999"/><stop offset=".35" stop-color="#bfbfbf"/><stop offset=".679" stop-color="#dfdfdf"/><stop offset=".963" stop-color="#ffffff"/><stop offset="1" stop-color="#ffffff"/></linearGradient><linearGradient id="pb2" x2="0" y2="1"><stop offset="0" stop-color="#939393"/><stop offset=".045" stop-color="#969696"/><stop offset=".23" stop-color="#b0b0b0"/><stop offset=".366" stop-color="#c1c1c1"/><stop offset=".679" stop-color="#dfdfdf"/><stop offset=".955" stop-color="#ffffff"/><stop offset="1" stop-color="#ffffff"/></linearGradient><linearGradient id="pb3" x2="0" y2="1"><stop offset="0" stop-color="#909090"/><stop offset=".053" stop-color="#939393"/><stop offset=".246" stop-color="#b2b2b2"/><stop offset=".366" stop-color="#c1c1c1"/><stop offset=".679" stop-color="#dfdfdf"/><stop offset=".949" stop-color="#ffffff"/><stop offset="1" stop-color="#ffffff"/></linearGradient><linearGradient id="pb4" x2="0" y2="1"><stop offset="0" stop-color="#8d8d8d"/><stop offset=".064" stop-color="#919191"/><stop offset=".262" stop-color="#b3b3b3"/><stop offset=".366" stop-color="#c1c1c1"/><stop offset=".679" stop-color="#dfdfdf"/><stop offset=".944" stop-color="#ffffff"/><stop offset="1" stop-color="#ffffff"/></linearGradient><linearGradient id="pb5" x2="0" y2="1"><stop offset="0" stop-color="#8a8a8a"/><stop offset=".048" stop-color="#8c8c8c"/><stop offset=".075" stop-color="#8e8e8e"/><stop offset=".275" stop-color="#b4b4b4"/><stop offset=".369" stop-color="#c2c2c2"/><stop offset=".679" stop-color="#dfdfdf"/><stop offset=".936" stop-color="#ffffff"/><stop offset="1" stop-color="#ffffff"/></linearGradient><linearGradient id="pb6" x2="0" y2="1"><stop offset="0" stop-color="#878787"/><stop offset=".056" stop-color="#898989"/><stop offset=".086" stop-color="#8c8c8c"/><stop offset=".289" stop-color="#b5b5b5"/><stop offset=".372" stop-color="#c2c2c2"/><stop offset=".676" stop-color="#dfdfdf"/><stop offset=".928" stop-color="#ffffff"/><stop offset="1" stop-color="#ffffff"/></linearGradient><linearGradient id="pb7" x2="0" y2="1"><stop offset="0" stop-color="#858585"/><stop offset=".067" stop-color="#868686"/><stop offset=".096" stop-color="#8a8a8a"/><stop offset=".297" stop-color="#b6b6b6"/><stop offset=".377" stop-color="#c3c3c3"/><stop offset=".676" stop-color="#dfdfdf"/><stop offset=".797" stop-color="#ededed"/><stop offset=".917" stop-color="#ffffff"/><stop offset="1" stop-color="#ffffff"/></linearGradient><linearGradient id="pb8" x2="0" y2="1"><stop offset="0" stop-color="#828282"/><stop offset=".08" stop-color="#848484"/><stop offset=".11" stop-color="#878787"/><stop offset=".307" stop-color="#b6b6b6"/><stop offset=".382" stop-color="#c3c3c3"/><stop offset=".676" stop-color="#dfdfdf"/><stop offset=".789" stop-color="#ededed"/><stop offset=".909" stop-color="#ffffff"/><stop offset="1" stop-color="#ffffff"/></linearGradient><linearGradient id="pb9" x2="0" y2="1"><stop offset="0" stop-color="#7e7e7e"/><stop offset=".094" stop-color="#818181"/><stop offset=".123" stop-color="#848484"/><stop offset=".321" stop-color="#b8b8b8"/><stop offset=".39" stop-color="#c3c3c3"/><stop offset=".676" stop-color="#dfdfdf"/><stop offset=".781" stop-color="#ececec"/><stop offset=".898" stop-color="#ffffff"/><stop offset="1" stop-color="#ffffff"/></linearGradient><linearGradient id="pb10" x2="0" y2="1"><stop offset="0" stop-color="#7a7a7a"/><stop offset=".11" stop-color="#7d7d7d"/><stop offset=".139" stop-color="#808080"/><stop offset=".176" stop-color="#898989"/><stop offset=".337" stop-color="#b9b9b9"/><stop offset=".398" stop-color="#c4c4c4"/><stop offset=".676" stop-color="#dedede"/><stop offset=".77" stop-color="#ebebeb"/><stop offset=".888" stop-color="#ffffff"/><stop offset="1" stop-color="#ffffff"/></linearGradient><linearGradient id="pb11" x2="0" y2="1"><stop offset="0" stop-color="#747474"/><stop offset=".128" stop-color="#777777"/><stop offset=".16" stop-color="#7b7b7b"/><stop offset=".206" stop-color="#878787"/><stop offset=".356" stop-color="#bababa"/><stop offset=".412" stop-color="#c5c5c5"/><stop offset=".676" stop-color="#dedede"/><stop offset=".762" stop-color="#ebebeb"/><stop offset=".877" stop-color="#ffffff"/><stop offset="1" stop-color="#ffffff"/></linearGradient><linearGradient id="pb12" x2="0" y2="1"><stop offset="0" stop-color="#666666"/><stop offset=".147" stop-color="#696969"/><stop offset=".174" stop-color="#6d6d6d"/><stop offset=".209" stop-color="#777777"/><stop offset=".289" stop-color="#999999"/><stop offset=".369" stop-color="#b6b6b6"/><stop offset=".398" stop-color="#bebebe"/><stop offset=".433" stop-color="#c4c4c4"/><stop offset=".676" stop-color="#dedede"/><stop offset=".866" stop-color="#ffffff"/><stop offset="1" stop-color="#ffffff"/></linearGradient><linearGradient id="pb13" x2="0" y2="1"><stop offset="0" stop-color="#000000"/><stop offset=".142" stop-color="#000000"/><stop offset=".144" stop-color="#101010"/><stop offset=".147" stop-color="#585858"/><stop offset=".15" stop-color="#626262"/><stop offset=".158" stop-color="#696969"/><stop offset=".176" stop-color="#747474"/><stop offset=".225" stop-color="#7e7e7e"/><stop offset=".302" stop-color="#9d9d9d"/><stop offset=".39" stop-color="#bcbcbc"/><stop offset=".473" stop-color="#c9c9c9"/><stop offset=".684" stop-color="#e0e0e0"/><stop offset=".866" stop-color="#ffffff"/><stop offset="1" stop-color="#ffffff"/></linearGradient><linearGradient id="pb14" x2="0" y2="1"><stop offset="0" stop-color="#000000"/><stop offset=".139" stop-color="#000000"/><stop offset=".142" stop-color="#050505"/><stop offset=".144" stop-color="#151515"/><stop offset=".147" stop-color="#2c2c2c"/><stop offset=".15" stop-color="#515151"/><stop offset=".152" stop-color="#606060"/><stop offset=".163" stop-color="#6a6a6a"/><stop offset=".182" stop-color="#737373"/><stop offset=".227" stop-color="#7e7e7e"/><stop offset=".305" stop-color="#9e9e9e"/><stop offset=".393" stop-color="#bcbcbc"/><stop offset=".476" stop-color="#c9c9c9"/><stop offset=".682" stop-color="#dfdfdf"/><stop offset=".864" stop-color="#ffffff"/><stop offset="1" stop-color="#ffffff"/></linearGradient><linearGradient id="pb15" x2="0" y2="1"><stop offset="0" stop-color="#000000"/><stop offset=".136" stop-color="#000000"/><stop offset=".139" stop-color="#030303"/><stop offset=".142" stop-color="#0b0b0b"/><stop offset=".147" stop-color="#222222"/><stop offset=".15" stop-color="#383838"/><stop offset=".152" stop-color="#515151"/><stop offset=".155" stop-color="#5f5f5f"/><stop offset=".166" stop-color="#696969"/><stop offset=".184" stop-color="#737373"/><stop offset=".23" stop-color="#7e7e7e"/><stop offset=".305" stop-color="#9d9d9d"/><stop offset=".393" stop-color="#bbbbbb"/><stop offset=".476" stop-color="#c9c9c9"/><stop offset=".684" stop-color="#e0e0e0"/><stop offset=".864" stop-color="#ffffff"/><stop offset="1" stop-color="#ffffff"/></linearGradient><linearGradient id="pb16" x2="0" y2="1"><stop offset="0" stop-color="#000000"/><stop offset=".131" stop-color="#000000"/><stop offset=".134" stop-color="#010101"/><stop offset=".139" stop-color="#0a0a0a"/><stop offset=".147" stop-color="#202020"/><stop offset=".15" stop-color="#2b2b2b"/><stop offset=".155" stop-color="#4c4c4c"/><stop offset=".158" stop-color="#595959"/><stop offset=".16" stop-color="#606060"/><stop offset=".171" stop-color="#696969"/><stop offset=".19" stop-color="#727272"/><stop offset=".233" stop-color="#7e7e7e"/><stop offset=".307" stop-color="#9d9d9d"/><stop offset=".396" stop-color="#bbbbbb"/><stop offset=".479" stop-color="#c9c9c9"/><stop offset=".684" stop-color="#e0e0e0"/><stop offset=".864" stop-color="#ffffff"/><stop offset="1" stop-color="#ffffff"/></linearGradient><linearGradient id="pb17" x2="0" y2="1"><stop offset="0" stop-color="#000000"/><stop offset=".128" stop-color="#000000"/><stop offset=".134" stop-color="#040404"/><stop offset=".139" stop-color="#0b0b0b"/><stop offset=".15" stop-color="#1e1e1e"/><stop offset=".152" stop-color="#252525"/><stop offset=".155" stop-color="#313131"/><stop offset=".16" stop-color="#4c4c4c"/><stop offset=".163" stop-color="#585858"/><stop offset=".166" stop-color="#5f5f5f"/><stop offset=".176" stop-color="#686868"/><stop offset=".193" stop-color="#707070"/><stop offset=".238" stop-color="#7e7e7e"/><stop offset=".313" stop-color="#9e9e9e"/><stop offset=".398" stop-color="#bbbbbb"/><stop offset=".481" stop-color="#c9c9c9"/><stop offset=".684" stop-color="#e0e0e0"/><stop offset=".861" stop-color="#ffffff"/><stop offset="1" stop-color="#ffffff"/></linearGradient><linearGradient id="pb18" x2="0" y2="1"><stop offset="0" stop-color="#000000"/><stop offset=".131" stop-color="#010101"/><stop offset=".142" stop-color="#0a0a0a"/><stop offset=".155" stop-color="#1d1d1d"/><stop offset=".158" stop-color="#232323"/><stop offset=".16" stop-color="#2f2f2f"/><stop offset=".166" stop-color="#4d4d4d"/><stop offset=".168" stop-color="#5a5a5a"/><stop offset=".171" stop-color="#606060"/><stop offset=".182" stop-color="#696969"/><stop offset=".201" stop-color="#727272"/><stop offset=".243" stop-color="#7f7f7f"/><stop offset=".316" stop-color="#9e9e9e"/><stop offset=".401" stop-color="#bbbbbb"/><stop offset=".481" stop-color="#c9c9c9"/><stop offset=".684" stop-color="#e0e0e0"/><stop offset=".861" stop-color="#ffffff"/><stop offset="1" stop-color="#ffffff"/></linearGradient><linearGradient id="pb19" x2="0" y2="1"><stop offset="0" stop-color="#000000"/><stop offset=".126" stop-color="#000000"/><stop offset=".134" stop-color="#020202"/><stop offset=".142" stop-color="#070707"/><stop offset=".15" stop-color="#0e0e0e"/><stop offset=".163" stop-color="#212121"/><stop offset=".166" stop-color="#2d2d2d"/><stop offset=".171" stop-color="#505050"/><stop offset=".174" stop-color="#5d5d5d"/><stop offset=".176" stop-color="#616161"/><stop offset=".187" stop-color="#6a6a6a"/><stop offset=".206" stop-color="#737373"/><stop offset=".246" stop-color="#7f7f7f"/><stop offset=".318" stop-color="#9e9e9e"/><stop offset=".369" stop-color="#b1b1b1"/><stop offset=".404" stop-color="#bbbbbb"/><stop offset=".484" stop-color="#c9c9c9"/><stop offset=".684" stop-color="#e0e0e0"/><stop offset=".861" stop-color="#ffffff"/><stop offset="1" stop-color="#ffffff"/></linearGradient><linearGradient id="pb20" x2="0" y2="1"><stop offset="0" stop-color="#000000"/><stop offset=".126" stop-color="#000000"/><stop offset=".139" stop-color="#040404"/><stop offset=".152" stop-color="#0e0e0e"/><stop offset=".166" stop-color="#1f1f1f"/><stop offset=".168" stop-color="#272727"/><stop offset=".171" stop-color="#383838"/><stop offset=".174" stop-color="#4c4c4c"/><stop offset=".176" stop-color="#5b5b5b"/><stop offset=".179" stop-color="#616161"/><stop offset=".19" stop-color="#6a6a6a"/><stop offset=".209" stop-color="#737373"/><stop offset=".249" stop-color="#7f7f7f"/><stop offset=".321" stop-color="#9f9f9f"/><stop offset=".404" stop-color="#bbbbbb"/><stop offset=".484" stop-color="#c9c9c9"/><stop offset=".684" stop-color="#e0e0e0"/><stop offset=".858" stop-color="#ffffff"/><stop offset="1" stop-color="#ffffff"/></linearGradient><linearGradient id="pb21" x2="0" y2="1"><stop offset="0" stop-color="#000000"/><stop offset=".126" stop-color="#000000"/><stop offset=".142" stop-color="#040404"/><stop offset=".158" stop-color="#101010"/><stop offset=".166" stop-color="#191919"/><stop offset=".171" stop-color="#222222"/><stop offset=".174" stop-color="#313131"/><stop offset=".176" stop-color="#474747"/><stop offset=".179" stop-color="#5a5a5a"/><stop offset=".182" stop-color="#616161"/><stop offset=".193" stop-color="#6a6a6a"/><stop offset=".211" stop-color="#737373"/><stop offset=".249" stop-color="#7e7e7e"/><stop offset=".321" stop-color="#9e9e9e"/><stop offset=".372" stop-color="#b1b1b1"/><stop offset=".406" stop-color="#bbbbbb"/><stop offset=".487" stop-color="#c9c9c9"/><stop offset=".684" stop-color="#e0e0e0"/><stop offset=".858" stop-color="#ffffff"/><stop offset="1" stop-color="#ffffff"/></linearGradient><linearGradient id="pb22" x2="0" y2="1"><stop offset="0" stop-color="#000000"/><stop offset=".126" stop-color="#000000"/><stop offset=".139" stop-color="#030303"/><stop offset=".155" stop-color="#0e0e0e"/><stop offset=".171" stop-color="#202020"/><stop offset=".174" stop-color="#272727"/><stop offset=".182" stop-color="#515151"/><stop offset=".184" stop-color="#5c5c5c"/><stop offset=".187" stop-color="#606060"/><stop offset=".198" stop-color="#696969"/><stop offset=".217" stop-color="#737373"/><stop offset=".254" stop-color="#7e7e7e"/><stop offset=".324" stop-color="#9e9e9e"/><stop offset=".372" stop-color="#b0b0b0"/><stop offset=".409" stop-color="#bbbbbb"/><stop offset=".489" stop-color="#c9c9c9"/><stop offset=".684" stop-color="#e0e0e0"/><stop offset=".858" stop-color="#ffffff"/><stop offset="1" stop-color="#ffffff"/></linearGradient><linearGradient id="pb23" x2="0" y2="1"><stop offset="0" stop-color="#000000"/><stop offset=".126" stop-color="#000000"/><stop offset=".139" stop-color="#040404"/><stop offset=".155" stop-color="#0f0f0f"/><stop offset=".171" stop-color="#202020"/><stop offset=".176" stop-color="#2a2a2a"/><stop offset=".187" stop-color="#4d4d4d"/><stop offset=".193" stop-color="#5b5b5b"/><stop offset=".195" stop-color="#5f5f5f"/><stop offset=".206" stop-color="#686868"/><stop offset=".225" stop-color="#717171"/><stop offset=".262" stop-color="#7f7f7f"/><stop offset=".326" stop-color="#9d9d9d"/><stop offset=".374" stop-color="#afafaf"/><stop offset=".414" stop-color="#bbbbbb"/><stop offset=".492" stop-color="#c8c8c8"/><stop offset=".684" stop-color="#e0e0e0"/><stop offset=".856" stop-color="#ffffff"/><stop offset="1" stop-color="#ffffff"/></linearGradient><linearGradient id="pb24" x2="0" y2="1"><stop offset="0" stop-color="#000000"/><stop offset=".126" stop-color="#000000"/><stop offset=".136" stop-color="#030303"/><stop offset=".152" stop-color="#0d0d0d"/><stop offset=".174" stop-color="#222222"/><stop offset=".182" stop-color="#2d2d2d"/><stop offset=".198" stop-color="#4c4c4c"/><stop offset=".206" stop-color="#595959"/><stop offset=".211" stop-color="#5f5f5f"/><stop offset=".222" stop-color="#676767"/><stop offset=".275" stop-color="#7f7f7f"/><stop offset=".337" stop-color="#9e9e9e"/><stop offset=".382" stop-color="#aeaeae"/><stop offset=".422" stop-color="#bababa"/><stop offset=".5" stop-color="#c8c8c8"/><stop offset=".687" stop-color="#e0e0e0"/><stop offset=".85" stop-color="#ffffff"/><stop offset="1" stop-color="#ffffff"/></linearGradient><linearGradient id="pb25" x2="0" y2="1"><stop offset="0" stop-color="#000000"/><stop offset=".142" stop-color="#000000"/><stop offset=".152" stop-color="#020202"/><stop offset=".168" stop-color="#0d0d0d"/><stop offset=".195" stop-color="#242424"/><stop offset=".235" stop-color="#555555"/><stop offset=".246" stop-color="#5f5f5f"/><stop offset=".257" stop-color="#666666"/><stop offset=".358" stop-color="#9d9d9d"/><stop offset=".398" stop-color="#acacac"/><stop offset=".441" stop-color="#b9b9b9"/><stop offset=".513" stop-color="#c8c8c8"/><stop offset=".687" stop-color="#e0e0e0"/><stop offset=".842" stop-color="#ffffff"/><stop offset="1" stop-color="#ffffff"/></linearGradient><linearGradient id="pb26" x2="0" y2="1"><stop offset="0" stop-color="#000000"/><stop offset=".171" stop-color="#000000"/><stop offset=".179" stop-color="#020202"/><stop offset=".195" stop-color="#0c0c0c"/><stop offset=".225" stop-color="#242424"/><stop offset=".273" stop-color="#555555"/><stop offset=".297" stop-color="#686868"/><stop offset=".385" stop-color="#9d9d9d"/><stop offset=".422" stop-color="#acacac"/><stop offset=".468" stop-color="#b9b9b9"/><stop offset=".535" stop-color="#c8c8c8"/><stop offset=".684" stop-color="#e0e0e0"/><stop offset=".832" stop-color="#ffffff"/><stop offset="1" stop-color="#ffffff"/></linearGradient><linearGradient id="pb27" x2="0" y2="1"><stop offset="0" stop-color="#000000"/><stop offset=".198" stop-color="#000000"/><stop offset=".206" stop-color="#020202"/><stop offset=".222" stop-color="#0b0b0b"/><stop offset=".259" stop-color="#282828"/><stop offset=".326" stop-color="#5f5f5f"/><stop offset=".412" stop-color="#9b9b9b"/><stop offset=".452" stop-color="#acacac"/><stop offset=".505" stop-color="#bbbbbb"/><stop offset=".559" stop-color="#c8c8c8"/><stop offset=".684" stop-color="#e0e0e0"/><stop offset=".816" stop-color="#ffffff"/><stop offset="1" stop-color="#ffffff"/></linearGradient><linearGradient id="pb28" x2="0" y2="1"><stop offset="0" stop-color="#000000"/><stop offset=".23" stop-color="#010101"/><stop offset=".249" stop-color="#0b0b0b"/><stop offset=".313" stop-color="#383838"/><stop offset=".444" stop-color="#9b9b9b"/><stop offset=".463" stop-color="#a4a4a4"/><stop offset=".492" stop-color="#afafaf"/><stop offset=".57" stop-color="#c5c5c5"/><stop offset=".807" stop-color="#ffffff"/><stop offset="1" stop-color="#ffffff"/></linearGradient><linearGradient id="pb29" x2="0" y2="1"><stop offset="0" stop-color="#000000"/><stop offset=".257" stop-color="#010101"/><stop offset=".275" stop-color="#090909"/><stop offset=".305" stop-color="#1e1e1e"/><stop offset=".393" stop-color="#565656"/><stop offset=".417" stop-color="#686868"/><stop offset=".481" stop-color="#9d9d9d"/><stop offset=".503" stop-color="#a8a8a8"/><stop offset=".527" stop-color="#b1b1b1"/><stop offset=".644" stop-color="#d5d5d5"/><stop offset=".807" stop-color="#ffffff"/><stop offset="1" stop-color="#ffffff"/></linearGradient><linearGradient id="pb30" x2="0" y2="1"><stop offset="0" stop-color="#000000"/><stop offset=".267" stop-color="#010101"/><stop offset=".283" stop-color="#090909"/><stop offset=".321" stop-color="#212121"/><stop offset=".398" stop-color="#474747"/><stop offset=".433" stop-color="#5a5a5a"/><stop offset=".452" stop-color="#686868"/><stop offset=".503" stop-color="#969696"/><stop offset=".519" stop-color="#a1a1a1"/><stop offset=".551" stop-color="#b0b0b0"/><stop offset=".652" stop-color="#d6d6d6"/><stop offset=".711" stop-color="#e7e7e7"/><stop offset=".81" stop-color="#ffffff"/><stop offset="1" stop-color="#ffffff"/></linearGradient>
<linearGradient id="pc0"><stop offset="0" stop-color="#000000"/><stop offset="1" stop-color="#000000"/></linearGradient><linearGradient id="pc1"><stop offset="0" stop-color="#000000"/><stop offset=".757" stop-color="#000000"/><stop offset=".875" stop-color="#070707"/><stop offset="1" stop-color="#070707"/></linearGradient><linearGradient id="pc2"><stop offset="0" stop-color="#000000"/><stop offset=".46" stop-color="#000000"/><stop offset=".685" stop-color="#090909"/><stop offset=".875" stop-color="#161616"/><stop offset="1" stop-color="#171717"/></linearGradient><linearGradient id="pc3"><stop offset="0" stop-color="#020202"/><stop offset=".237" stop-color="#070707"/><stop offset=".444" stop-color="#0d0d0d"/><stop offset=".673" stop-color="#191919"/><stop offset=".875" stop-color="#292929"/><stop offset="1" stop-color="#2a2a2a"/></linearGradient><linearGradient id="pc4"><stop offset="0" stop-color="#040404"/><stop offset=".233" stop-color="#090909"/><stop offset=".44" stop-color="#101010"/><stop offset=".669" stop-color="#1c1c1c"/><stop offset=".875" stop-color="#2c2c2c"/><stop offset="1" stop-color="#2e2e2e"/></linearGradient>
<clipPath id="cpG"><path d="M0.0,375.7L5.0,375.8L10.0,375.9L15.0,375.9L20.0,376.0L25.0,376.1L30.0,376.2L35.0,376.3L39.9,376.5L44.9,376.6L49.9,376.8L54.9,376.9L59.9,377.1L64.9,377.2L69.9,377.4L74.9,377.6L79.9,377.8L84.9,378.0L89.9,378.2L94.9,378.5L99.9,378.7L104.9,379.0L109.9,379.2L114.8,379.5L119.8,379.8L124.8,380.0L129.8,380.3L134.8,380.6L139.8,381.0L144.8,381.3L149.8,381.6L154.8,381.9L159.8,382.3L164.8,382.7L169.8,383.0L174.8,383.4L179.8,383.8L184.8,384.2L189.7,384.6L194.7,385.0L199.7,385.4L204.7,385.9L209.7,386.3L214.7,386.8L219.7,387.2L224.7,387.7L229.7,388.2L234.7,388.7L239.7,389.2L244.7,389.7L249.7,390.2L254.7,390.7L259.7,391.2L264.6,391.8L269.6,392.4L274.6,392.9L279.6,393.5L284.6,394.1L289.6,394.7L294.6,395.3L299.6,395.9L304.6,396.5L309.6,397.1L314.6,397.8L319.6,398.4L324.6,399.1L329.6,399.7L334.6,400.4L339.5,401.1L344.5,401.8L349.5,402.5L354.5,403.2L359.5,403.9L364.5,404.7L369.5,405.4L374.5,406.2L379.5,406.9L384.5,407.7L389.5,408.5L394.5,409.2L399.5,410.0L404.5,410.9L409.4,411.7L414.4,412.5L419.4,413.3L424.4,414.2L429.4,415.0L434.4,415.9L439.4,416.8L444.4,417.6L449.4,418.5L454.4,419.4L459.4,420.3L464.4,421.3L469.4,422.2L474.4,423.1L479.4,424.1L484.3,421.5L489.3,418.2L494.3,417.5L499.3,417.5L504.3,417.5L509.3,417.5L514.3,417.5L519.3,417.5L524.3,417.5L529.3,417.7L534.3,418.3L539.3,419.4L544.3,420.8L549.3,422.2L554.3,423.6L559.2,425.0L564.2,426.4L569.2,428.0L574.2,429.6L579.2,431.2L584.2,432.6L589.2,434.0L594.2,435.2L599.2,436.3L604.2,437.4L609.2,438.5L614.2,439.7L619.2,441.1L624.2,442.6L629.2,444.1L634.1,445.6L639.1,447.0L644.1,448.3L649.1,449.6L654.1,450.8L659.1,452.1L664.1,453.3L669.1,454.5L674.1,455.7L679.1,457.0L684.1,458.4L689.1,459.8L694.1,461.2L699.1,462.6L704.1,463.8L709.0,464.9L714.0,465.6L719.0,466.2L724.0,466.6L729.0,466.9L734.0,467.3L739.0,467.6L744.0,468.0L744,745L0,745Z"/></clipPath><clipPath id="cpB"><path d="M0.0,731.8L5.0,731.6L10.0,731.3L15.0,731.1L20.0,730.9L25.0,730.6L30.0,730.4L35.0,730.1L39.9,729.9L44.9,729.6L49.9,729.3L54.9,729.1L59.9,728.8L64.9,728.5L69.9,728.3L74.9,728.0L79.9,727.7L84.9,727.4L89.9,727.1L94.9,726.8L99.9,726.5L104.9,726.2L109.9,725.9L114.8,725.6L119.8,725.3L124.8,725.0L129.8,724.7L134.8,724.4L139.8,724.0L144.8,723.7L149.8,723.4L154.8,723.0L159.8,722.7L164.8,722.4L169.8,722.0L174.8,721.7L179.8,721.3L184.8,721.0L189.7,720.6L194.7,720.2L199.7,719.9L204.7,719.5L209.7,719.1L214.7,718.8L219.7,718.4L224.7,718.0L229.7,717.6L234.7,717.2L239.7,716.8L244.7,716.4L249.7,716.0L254.7,715.6L259.7,715.2L264.6,714.8L269.6,714.4L274.6,714.0L279.6,713.6L284.6,713.1L289.6,712.7L294.6,712.3L299.6,711.8L304.6,711.4L309.6,711.0L314.6,710.5L319.6,710.1L324.6,709.6L329.6,709.2L334.6,708.7L339.5,708.2L344.5,707.8L349.5,707.3L354.5,706.8L359.5,706.4L364.5,705.9L369.5,705.4L374.5,704.9L379.5,704.4L384.5,703.9L389.5,703.4L394.5,702.9L399.5,702.4L404.5,701.9L409.4,701.4L414.4,700.9L419.4,700.4L424.4,699.8L429.4,699.3L434.4,698.8L439.4,698.3L444.4,697.7L449.4,697.2L454.4,696.6L459.4,696.1L464.4,695.5L469.4,695.0L474.4,694.4L479.4,693.9L484.3,693.3L489.3,692.7L494.3,692.2L499.3,691.6L504.3,691.0L509.3,690.4L514.3,689.9L519.3,689.3L524.3,688.7L529.3,688.1L534.3,687.5L539.3,686.9L544.3,686.3L549.3,685.7L554.3,685.1L559.2,684.5L564.2,683.8L569.2,683.2L574.2,682.6L579.2,682.0L584.2,681.3L589.2,680.7L594.2,680.0L599.2,679.4L604.2,678.8L609.2,678.1L614.2,677.5L619.2,676.8L624.2,676.1L629.2,675.5L634.1,674.8L639.1,674.1L644.1,673.5L649.1,672.8L654.1,672.6L659.1,672.6L664.1,672.6L669.1,672.6L674.1,672.6L679.1,672.6L684.1,672.6L689.1,672.6L694.1,672.6L699.1,672.6L704.1,672.6L709.0,672.6L714.0,672.6L719.0,672.6L724.0,672.6L729.0,672.6L734.0,672.6L739.0,672.6L744.0,672.6L744,745L0,745Z"/></clipPath></defs><rect width="2372" height="2972" fill="#fff"/><g transform="translate(238 2140)" filter="url(#jfb)"><use href="#cE"/><use href="#cE" transform="translate(784 0) scale(-1 1)"/><use href="#cE" transform="translate(392 392) scale(-1 1)"/><use href="#cE" x="392" y="392"/></g>
<g transform="translate(1462.6 2140)" filter="url(#jf)"><use href="#cH"/><use href="#cH" transform="translate(784 0) scale(-1 1)"/><use href="#cH" transform="translate(392 392) scale(-1 1)"/><use href="#cH" x="392" y="392"/></g>
<g transform="translate(258 1098)" clip-path="url(#cb7)"><g filter="url(#jf)"><g class="h744"><rect x="0" width="3" height="744" fill="url(#ta0)"/><rect x="0" width="3" height="744" fill="url(#ta1)" mask="url(#mkc)"/><rect x="3" width="2" height="744" fill="url(#ta1)"/><rect x="3" width="2" height="744" fill="url(#ta2)" mask="url(#mkc)"/><rect x="5" width="2" height="744" fill="url(#ta2)"/><rect x="5" width="2" height="744" fill="url(#ta3)" mask="url(#mkc)"/><rect x="7" width="3" height="744" fill="url(#ta3)"/><rect x="7" width="3" height="744" fill="url(#ta4)" mask="url(#mkc)"/><rect x="10" width="5" height="744" fill="url(#ta4)"/><rect x="10" width="5" height="744" fill="url(#ta5)" mask="url(#mkc)"/><rect x="15" width="3" height="744" fill="url(#ta5)"/><rect x="15" width="3" height="744" fill="url(#ta6)" mask="url(#mkc)"/><rect x="18" width="6" height="744" fill="url(#ta6)"/><rect x="18" width="6" height="744" fill="url(#ta7)" mask="url(#mkc)"/><rect x="24" width="4" height="744" fill="url(#ta7)"/><rect x="24" width="4" height="744" fill="url(#ta8)" mask="url(#mkc)"/><rect x="28" width="5" height="744" fill="url(#ta8)"/><rect x="28" width="5" height="744" fill="url(#ta9)" mask="url(#mkc)"/><rect x="33" width="6" height="744" fill="url(#ta9)"/><rect x="33" width="6" height="744" fill="url(#ta10)" mask="url(#mkc)"/><rect x="39" width="7" height="744" fill="url(#ta10)"/><rect x="39" width="7" height="744" fill="url(#ta11)" mask="url(#mkc)"/><rect x="46" width="7" height="744" fill="url(#ta11)"/><rect x="46" width="7" height="744" fill="url(#ta12)" mask="url(#mkc)"/><rect x="53" width="8" height="744" fill="url(#ta12)"/><rect x="53" width="8" height="744" fill="url(#ta13)" mask="url(#mkc)"/><rect x="61" width="10" height="744" fill="url(#ta13)"/><rect x="61" width="10" height="744" fill="url(#ta14)" mask="url(#mkc)"/><rect x="71" width="11" height="744" fill="url(#ta14)"/><rect x="71" width="11" height="744" fill="url(#ta15)" mask="url(#mkc)"/><rect x="82" width="16" height="744" fill="url(#ta15)"/><rect x="82" width="16" height="744" fill="url(#ta16)" mask="url(#mkc)"/><rect x="98" width="18" height="744" fill="url(#ta16)"/><rect x="98" width="18" height="744" fill="url(#ta17)" mask="url(#mkc)"/><rect x="116" width="18" height="744" fill="url(#ta17)"/><rect x="116" width="18" height="744" fill="url(#ta18)" mask="url(#mkc)"/><rect x="134" width="18" height="744" fill="url(#ta18)"/><rect x="134" width="18" height="744" fill="url(#ta19)" mask="url(#mkc)"/><rect x="152" width="19" height="744" fill="url(#ta19)"/><rect x="152" width="19" height="744" fill="url(#ta20)" mask="url(#mkc)"/><rect x="171" width="19" height="744" fill="url(#ta20)"/><rect x="171" width="19" height="744" fill="url(#ta21)" mask="url(#mkc)"/><rect x="190" width="20" height="744" fill="url(#ta21)"/><rect x="190" width="20" height="744" fill="url(#ta22)" mask="url(#mkc)"/><rect x="210" width="20" height="744" fill="url(#ta22)"/><rect x="210" width="20" height="744" fill="url(#ta23)" mask="url(#mkc)"/><rect x="230" width="20" height="744" fill="url(#ta23)"/><rect x="230" width="20" height="744" fill="url(#ta24)" mask="url(#mkc)"/><rect x="250" width="20" height="744" fill="url(#ta24)"/><rect x="250" width="20" height="744" fill="url(#ta25)" mask="url(#mkc)"/><rect x="270" width="20" height="744" fill="url(#ta25)"/><rect x="270" width="20" height="744" fill="url(#ta26)" mask="url(#mkc)"/><rect x="290" width="20" height="744" fill="url(#ta26)"/><rect x="290" width="20" height="744" fill="url(#ta27)" mask="url(#mkc)"/><rect x="310" width="20" height="744" fill="url(#ta27)"/><rect x="310" width="20" height="744" fill="url(#ta28)" mask="url(#mkc)"/><rect x="330" width="17" height="744" fill="url(#ta28)"/><rect x="330" width="17" height="744" fill="url(#ta29)" mask="url(#mkc)"/><rect x="347" width="11" height="744" fill="url(#ta29)"/><rect x="347" width="11" height="744" fill="url(#ta30)" mask="url(#mkc)"/><rect x="358" width="8" height="744" fill="url(#ta30)"/><rect x="358" width="8" height="744" fill="url(#ta31)" mask="url(#mkc)"/><rect x="366" width="7" height="744" fill="url(#ta31)"/><rect x="366" width="7" height="744" fill="url(#ta32)" mask="url(#mkc)"/><rect x="373" width="7" height="744" fill="url(#ta32)"/><rect x="373" width="7" height="744" fill="url(#ta33)" mask="url(#mkc)"/><rect x="380" width="6" height="744" fill="url(#ta33)"/><rect x="380" width="6" height="744" fill="url(#ta34)" mask="url(#mkc)"/><rect x="386" width="6" height="744" fill="url(#ta34)"/><rect x="386" width="6" height="744" fill="url(#ta35)" mask="url(#mkc)"/><rect x="392" width="6" height="744" fill="url(#ta35)"/><rect x="392" width="6" height="744" fill="url(#ta36)" mask="url(#mkc)"/><rect x="398" width="6" height="744" fill="url(#ta36)"/><rect x="398" width="6" height="744" fill="url(#ta37)" mask="url(#mkc)"/><rect x="404" width="6" height="744" fill="url(#ta37)"/><rect x="404" width="6" height="744" fill="url(#ta38)" mask="url(#mkc)"/><rect x="410" width="6" height="744" fill="url(#ta38)"/><rect x="410" width="6" height="744" fill="url(#ta39)" mask="url(#mkc)"/><rect x="416" width="7" height="744" fill="url(#ta39)"/><rect x="416" width="7" height="744" fill="url(#ta40)" mask="url(#mkc)"/><rect x="423" width="8" height="744" fill="url(#ta40)"/><rect x="423" width="8" height="744" fill="url(#ta41)" mask="url(#mkc)"/><rect x="431" width="10" height="744" fill="url(#ta41)"/><rect x="431" width="10" height="744" fill="url(#ta42)" mask="url(#mkc)"/><rect x="441" width="11" height="744" fill="url(#ta42)"/><rect x="441" width="11" height="744" fill="url(#ta43)" mask="url(#mkc)"/><rect x="452" width="11" height="744" fill="url(#ta43)"/><rect x="452" width="11" height="744" fill="url(#ta44)" mask="url(#mkc)"/><rect x="463" width="11" height="744" fill="url(#ta44)"/><rect x="463" width="11" height="744" fill="url(#ta45)" mask="url(#mkc)"/><rect x="474" width="11" height="744" fill="url(#ta45)"/><rect x="474" width="11" height="744" fill="url(#ta46)" mask="url(#mkc)"/><rect x="485" width="9" height="744" fill="url(#ta46)"/><rect x="485" width="9" height="744" fill="url(#ta47)" mask="url(#mkc)"/><rect x="494" width="7" height="744" fill="url(#ta47)"/><rect x="494" width="7" height="744" fill="url(#ta48)" mask="url(#mkc)"/><rect x="501" width="6" height="744" fill="url(#ta48)"/><rect x="501" width="6" height="744" fill="url(#ta49)" mask="url(#mkc)"/><rect x="507" width="5" height="744" fill="url(#ta49)"/><rect x="507" width="5" height="744" fill="url(#ta50)" mask="url(#mkc)"/><rect x="512" width="5" height="744" fill="url(#ta50)"/><rect x="512" width="5" height="744" fill="url(#ta51)" mask="url(#mkc)"/><rect x="517" width="5" height="744" fill="url(#ta51)"/><rect x="517" width="5" height="744" fill="url(#ta52)" mask="url(#mkc)"/><rect x="522" width="5" height="744" fill="url(#ta52)"/><rect x="522" width="5" height="744" fill="url(#ta53)" mask="url(#mkc)"/><rect x="527" width="5" height="744" fill="url(#ta53)"/><rect x="527" width="5" height="744" fill="url(#ta54)" mask="url(#mkc)"/><rect x="532" width="5" height="744" fill="url(#ta54)"/><rect x="532" width="5" height="744" fill="url(#ta55)" mask="url(#mkc)"/><rect x="537" width="4" height="744" fill="url(#ta55)"/><rect x="537" width="4" height="744" fill="url(#ta56)" mask="url(#mkc)"/><rect x="541" width="4" height="744" fill="url(#ta56)"/><rect x="541" width="4" height="744" fill="url(#ta57)" mask="url(#mkc)"/><rect x="545" width="3" height="744" fill="url(#ta57)"/><rect x="545" width="3" height="744" fill="url(#ta58)" mask="url(#mkc)"/><rect x="548" width="3" height="744" fill="url(#ta58)"/><rect x="548" width="3" height="744" fill="url(#ta59)" mask="url(#mkc)"/><rect x="551" width="3" height="744" fill="url(#ta59)"/><rect x="551" width="3" height="744" fill="url(#ta60)" mask="url(#mkc)"/><rect x="554" width="3" height="744" fill="url(#ta60)"/><rect x="554" width="3" height="744" fill="url(#ta61)" mask="url(#mkc)"/><rect x="557" width="3" height="744" fill="url(#ta61)"/><rect x="557" width="3" height="744" fill="url(#ta62)" mask="url(#mkc)"/><rect x="560" width="3" height="744" fill="url(#ta62)"/><rect x="560" width="3" height="744" fill="url(#ta63)" mask="url(#mkc)"/><rect x="563" width="3" height="744" fill="url(#ta63)"/><rect x="563" width="3" height="744" fill="url(#ta64)" mask="url(#mkc)"/><rect x="566" width="3" height="744" fill="url(#ta64)"/><rect x="566" width="3" height="744" fill="url(#ta65)" mask="url(#mkc)"/><rect x="569" width="3" height="744" fill="url(#ta65)"/><rect x="569" width="3" height="744" fill="url(#ta66)" mask="url(#mkc)"/><rect x="572" width="4" height="744" fill="url(#ta66)"/><rect x="572" width="4" height="744" fill="url(#ta67)" mask="url(#mkc)"/><rect x="576" width="3" height="744" fill="url(#ta67)"/><rect x="576" width="3" height="744" fill="url(#ta68)" mask="url(#mkc)"/><rect x="579" width="3" height="744" fill="url(#ta68)"/><rect x="579" width="3" height="744" fill="url(#ta69)" mask="url(#mkc)"/><rect x="582" width="3" height="744" fill="url(#ta69)"/><rect x="582" width="3" height="744" fill="url(#ta70)" mask="url(#mkc)"/><rect x="585" width="3" height="744" fill="url(#ta70)"/><rect x="585" width="3" height="744" fill="url(#ta71)" mask="url(#mkc)"/><rect x="588" width="4" height="744" fill="url(#ta71)"/><rect x="588" width="4" height="744" fill="url(#ta72)" mask="url(#mkc)"/><rect x="592" width="5" height="744" fill="url(#ta72)"/><rect x="592" width="5" height="744" fill="url(#ta73)" mask="url(#mkc)"/><rect x="597" width="9" height="744" fill="url(#ta73)"/><rect x="597" width="9" height="744" fill="url(#ta74)" mask="url(#mkc)"/><rect x="606" width="10" height="744" fill="url(#ta74)"/><rect x="606" width="10" height="744" fill="url(#ta75)" mask="url(#mkc)"/><rect x="616" width="11" height="744" fill="url(#ta75)"/><rect x="616" width="11" height="744" fill="url(#ta76)" mask="url(#mkc)"/><rect x="627" width="35" height="744" fill="url(#ta76)"/><rect x="627" width="35" height="744" fill="url(#ta77)" mask="url(#mkc)"/><rect x="662" width="17" height="744" fill="url(#ta77)"/><rect x="662" width="17" height="744" fill="url(#ta78)" mask="url(#mkc)"/><rect x="679" width="11" height="744" fill="url(#ta78)"/><rect x="679" width="11" height="744" fill="url(#ta79)" mask="url(#mkc)"/><rect x="690" width="10" height="744" fill="url(#ta79)"/><rect x="690" width="10" height="744" fill="url(#ta80)" mask="url(#mkc)"/><rect x="700" width="10" height="744" fill="url(#ta80)"/><rect x="700" width="10" height="744" fill="url(#ta81)" mask="url(#mkc)"/><rect x="710" width="10" height="744" fill="url(#ta81)"/><rect x="710" width="10" height="744" fill="url(#ta82)" mask="url(#mkc)"/><rect x="720" width="10" height="744" fill="url(#ta82)"/><rect x="720" width="10" height="744" fill="url(#ta83)" mask="url(#mkc)"/><rect x="730" width="10" height="744" fill="url(#ta83)"/><rect x="730" width="10" height="744" fill="url(#ta84)" mask="url(#mkc)"/><rect x="740" width="4" height="744" fill="url(#ta84)"/><rect x="740" width="4" height="744" fill="url(#ta85)" mask="url(#mkc)"/></g><g filter="url(#blB)"><g clip-path="url(#cpTg)"><g transform="translate(0 208)" class="hB"><rect x="-10" width="10" height="201" fill="url(#tb0)"/><rect x="0" width="17" height="201" fill="url(#tb0)"/><rect x="0" width="17" height="201" fill="url(#tb1)" mask="url(#mkc)"/><rect x="17" width="26" height="201" fill="url(#tb1)"/><rect x="17" width="26" height="201" fill="url(#tb2)" mask="url(#mkc)"/><rect x="43" width="38" height="201" fill="url(#tb2)"/><rect x="43" width="38" height="201" fill="url(#tb3)" mask="url(#mkc)"/><rect x="81" width="40" height="201" fill="url(#tb3)"/><rect x="81" width="40" height="201" fill="url(#tb4)" mask="url(#mkc)"/><rect x="121" width="40" height="201" fill="url(#tb4)"/><rect x="121" width="40" height="201" fill="url(#tb5)" mask="url(#mkc)"/><rect x="161" width="40" height="201" fill="url(#tb5)"/><rect x="161" width="40" height="201" fill="url(#tb6)" mask="url(#mkc)"/><rect x="201" width="40" height="201" fill="url(#tb6)"/><rect x="201" width="40" height="201" fill="url(#tb7)" mask="url(#mkc)"/><rect x="241" width="40" height="201" fill="url(#tb7)"/><rect x="241" width="40" height="201" fill="url(#tb8)" mask="url(#mkc)"/><rect x="281" width="40" height="201" fill="url(#tb8)"/><rect x="281" width="40" height="201" fill="url(#tb9)" mask="url(#mkc)"/><rect x="321" width="25" height="201" fill="url(#tb9)"/><rect x="321" width="25" height="201" fill="url(#tb10)" mask="url(#mkc)"/><rect x="346" width="10" height="201" fill="url(#tb10)"/><rect x="346" width="10" height="201" fill="url(#tb11)" mask="url(#mkc)"/><rect x="356" width="9" height="201" fill="url(#tb11)"/><rect x="356" width="9" height="201" fill="url(#tb12)" mask="url(#mkc)"/><rect x="365" width="8" height="201" fill="url(#tb12)"/><rect x="365" width="8" height="201" fill="url(#tb13)" mask="url(#mkc)"/><rect x="373" width="7" height="201" fill="url(#tb13)"/><rect x="373" width="7" height="201" fill="url(#tb14)" mask="url(#mkc)"/><rect x="380" width="6" height="201" fill="url(#tb14)"/><rect x="380" width="6" height="201" fill="url(#tb15)" mask="url(#mkc)"/><rect x="386" width="5" height="201" fill="url(#tb15)"/><rect x="386" width="5" height="201" fill="url(#tb16)" mask="url(#mkc)"/><rect x="391" width="5" height="201" fill="url(#tb16)"/><rect x="391" width="5" height="201" fill="url(#tb17)" mask="url(#mkc)"/><rect x="396" width="5" height="201" fill="url(#tb17)"/><rect x="396" width="5" height="201" fill="url(#tb18)" mask="url(#mkc)"/><rect x="401" width="6" height="201" fill="url(#tb18)"/><rect x="401" width="6" height="201" fill="url(#tb19)" mask="url(#mkc)"/><rect x="407" width="6" height="201" fill="url(#tb19)"/><rect x="407" width="6" height="201" fill="url(#tb20)" mask="url(#mkc)"/><rect x="413" width="7" height="201" fill="url(#tb20)"/><rect x="413" width="7" height="201" fill="url(#tb21)" mask="url(#mkc)"/><rect x="420" width="4" height="201" fill="url(#tb21)"/><rect x="420" width="4" height="201" fill="url(#tb22)" mask="url(#mkc)"/></g></g></g></g><polyline points="14.9,218.9 24.6,219.3 34.4,219.7 44.1,220.3 53.8,221.0 63.6,221.9 73.3,222.9 83.0,224.0 92.8,225.2 102.5,226.6 112.2,228.1 122.0,229.7 131.7,231.4 141.4,233.2 151.2,235.2 160.9,237.2 170.6,239.4 180.4,241.7 190.1,244.0 199.8,246.5 209.6,249.2 219.3,251.9 229.1,254.7 238.8,257.7 248.5,260.8 258.3,264.0 268.0,267.3 277.7,270.8 287.5,274.3 297.2,278.0 306.9,281.9 316.7,285.9 326.4,290.0 336.1,294.3 345.9,298.7 355.6,303.3 365.3,308.1 375.1,313.0 384.8,318.1 394.5,323.4 404.3,328.8 414.0,334.5 423.8,340.4 433.5,346.4 443.2,352.7 453.0,359.2 462.7,366.0 472.4,373.0 482.2,380.2 491.9,387.7 501.6,395.4 511.4,403.5 521.1,411.8 530.8,420.4 540.6,429.4 550.3,438.6 560.0,448.2 569.8,458.1 579.5,468.4 589.2,479.0" fill="none" stroke="#111" stroke-width="3" stroke-dasharray="16 14"/><polyline points="14.9,375.7 24.5,377.1 34.2,378.5 43.9,379.9 53.5,381.4 63.2,382.9 72.8,384.4 82.5,385.9 92.2,387.4 101.8,389.0 111.5,390.6 121.1,392.2 130.8,393.8 140.5,395.5 150.1,397.2 159.8,398.9 169.4,400.6 179.1,402.3 188.7,404.1 198.4,405.9 208.1,407.7 217.7,409.5 227.4,411.4 237.0,413.3 246.7,415.2 256.4,417.1 266.0,419.0 275.7,421.0 285.3,423.0 295.0,425.0 304.7,427.0 314.3,429.1 324.0,431.2 333.6,433.3 343.3,435.4 353.0,437.5 362.6,439.7 372.3,441.9 381.9,444.1 391.6,446.3 401.3,448.6 410.9,450.8 420.6,453.1 430.2,455.4 439.9,457.8 449.6,460.2 459.2,462.5 468.9,464.9 478.5,467.4 488.2,469.8 497.8,472.3 507.5,474.8 517.2,477.3 526.8,479.9 536.5,482.4 546.1,485.0 555.8,487.6 565.5,490.2 575.1,492.9 584.8,495.6" fill="none" stroke="#111" stroke-width="3" stroke-dasharray="16 14"/></g>
<g transform="translate(1481 1098)" clip-path="url(#cb7)"><g filter="url(#jf)"><g class="h480"><rect x="0" width="8" height="480" fill="url(#pa0)"/><rect x="0" width="8" height="480" fill="url(#pa1)" mask="url(#mkc)"/><rect x="8" width="16" height="480" fill="url(#pa1)"/><rect x="8" width="16" height="480" fill="url(#pa2)" mask="url(#mkc)"/><rect x="24" width="6" height="480" fill="url(#pa2)"/><rect x="24" width="6" height="480" fill="url(#pa3)" mask="url(#mkc)"/><rect x="30" width="9" height="480" fill="url(#pa3)"/><rect x="30" width="9" height="480" fill="url(#pa4)" mask="url(#mkc)"/><rect x="39" width="8" height="480" fill="url(#pa4)"/><rect x="39" width="8" height="480" fill="url(#pa5)" mask="url(#mkc)"/><rect x="47" width="10" height="480" fill="url(#pa5)"/><rect x="47" width="10" height="480" fill="url(#pa6)" mask="url(#mkc)"/><rect x="57" width="8" height="480" fill="url(#pa6)"/><rect x="57" width="8" height="480" fill="url(#pa7)" mask="url(#mkc)"/><rect x="65" width="8" height="480" fill="url(#pa7)"/><rect x="65" width="8" height="480" fill="url(#pa8)" mask="url(#mkc)"/><rect x="73" width="7" height="480" fill="url(#pa8)"/><rect x="73" width="7" height="480" fill="url(#pa9)" mask="url(#mkc)"/><rect x="80" width="6" height="480" fill="url(#pa9)"/><rect x="80" width="6" height="480" fill="url(#pa10)" mask="url(#mkc)"/><rect x="86" width="6" height="480" fill="url(#pa10)"/><rect x="86" width="6" height="480" fill="url(#pa11)" mask="url(#mkc)"/><rect x="92" width="6" height="480" fill="url(#pa11)"/><rect x="92" width="6" height="480" fill="url(#pa12)" mask="url(#mkc)"/><rect x="98" width="6" height="480" fill="url(#pa12)"/><rect x="98" width="6" height="480" fill="url(#pa13)" mask="url(#mkc)"/><rect x="104" width="7" height="480" fill="url(#pa13)"/><rect x="104" width="7" height="480" fill="url(#pa14)" mask="url(#mkc)"/><rect x="111" width="8" height="480" fill="url(#pa14)"/><rect x="111" width="8" height="480" fill="url(#pa15)" mask="url(#mkc)"/><rect x="119" width="7" height="480" fill="url(#pa15)"/><rect x="119" width="7" height="480" fill="url(#pa16)" mask="url(#mkc)"/><rect x="126" width="7" height="480" fill="url(#pa16)"/><rect x="126" width="7" height="480" fill="url(#pa17)" mask="url(#mkc)"/><rect x="133" width="8" height="480" fill="url(#pa17)"/><rect x="133" width="8" height="480" fill="url(#pa18)" mask="url(#mkc)"/><rect x="141" width="8" height="480" fill="url(#pa18)"/><rect x="141" width="8" height="480" fill="url(#pa19)" mask="url(#mkc)"/><rect x="149" width="8" height="480" fill="url(#pa19)"/><rect x="149" width="8" height="480" fill="url(#pa20)" mask="url(#mkc)"/><rect x="157" width="8" height="480" fill="url(#pa20)"/><rect x="157" width="8" height="480" fill="url(#pa21)" mask="url(#mkc)"/><rect x="165" width="8" height="480" fill="url(#pa21)"/><rect x="165" width="8" height="480" fill="url(#pa22)" mask="url(#mkc)"/><rect x="173" width="8" height="480" fill="url(#pa22)"/><rect x="173" width="8" height="480" fill="url(#pa23)" mask="url(#mkc)"/><rect x="181" width="7" height="480" fill="url(#pa23)"/><rect x="181" width="7" height="480" fill="url(#pa24)" mask="url(#mkc)"/><rect x="188" width="7" height="480" fill="url(#pa24)"/><rect x="188" width="7" height="480" fill="url(#pa25)" mask="url(#mkc)"/><rect x="195" width="8" height="480" fill="url(#pa25)"/><rect x="195" width="8" height="480" fill="url(#pa26)" mask="url(#mkc)"/><rect x="203" width="8" height="480" fill="url(#pa26)"/><rect x="203" width="8" height="480" fill="url(#pa27)" mask="url(#mkc)"/><rect x="211" width="8" height="480" fill="url(#pa27)"/><rect x="211" width="8" height="480" fill="url(#pa28)" mask="url(#mkc)"/><rect x="219" width="8" height="480" fill="url(#pa28)"/><rect x="219" width="8" height="480" fill="url(#pa29)" mask="url(#mkc)"/><rect x="227" width="8" height="480" fill="url(#pa29)"/><rect x="227" width="8" height="480" fill="url(#pa30)" mask="url(#mkc)"/><rect x="235" width="9" height="480" fill="url(#pa30)"/><rect x="235" width="9" height="480" fill="url(#pa31)" mask="url(#mkc)"/><rect x="244" width="8" height="480" fill="url(#pa31)"/><rect x="244" width="8" height="480" fill="url(#pa32)" mask="url(#mkc)"/><rect x="252" width="8" height="480" fill="url(#pa32)"/><rect x="252" width="8" height="480" fill="url(#pa33)" mask="url(#mkc)"/><rect x="260" width="8" height="480" fill="url(#pa33)"/><rect x="260" width="8" height="480" fill="url(#pa34)" mask="url(#mkc)"/><rect x="268" width="8" height="480" fill="url(#pa34)"/><rect x="268" width="8" height="480" fill="url(#pa35)" mask="url(#mkc)"/><rect x="276" width="9" height="480" fill="url(#pa35)"/><rect x="276" width="9" height="480" fill="url(#pa36)" mask="url(#mkc)"/><rect x="285" width="9" height="480" fill="url(#pa36)"/><rect x="285" width="9" height="480" fill="url(#pa37)" mask="url(#mkc)"/><rect x="294" width="10" height="480" fill="url(#pa37)"/><rect x="294" width="10" height="480" fill="url(#pa38)" mask="url(#mkc)"/><rect x="304" width="10" height="480" fill="url(#pa38)"/><rect x="304" width="10" height="480" fill="url(#pa39)" mask="url(#mkc)"/><rect x="314" width="11" height="480" fill="url(#pa39)"/><rect x="314" width="11" height="480" fill="url(#pa40)" mask="url(#mkc)"/><rect x="325" width="12" height="480" fill="url(#pa40)"/><rect x="325" width="12" height="480" fill="url(#pa41)" mask="url(#mkc)"/><rect x="337" width="13" height="480" fill="url(#pa41)"/><rect x="337" width="13" height="480" fill="url(#pa42)" mask="url(#mkc)"/><rect x="350" width="16" height="480" fill="url(#pa42)"/><rect x="350" width="16" height="480" fill="url(#pa43)" mask="url(#mkc)"/><rect x="366" width="20" height="480" fill="url(#pa43)"/><rect x="366" width="20" height="480" fill="url(#pa44)" mask="url(#mkc)"/><rect x="386" width="29" height="480" fill="url(#pa44)"/><rect x="386" width="29" height="480" fill="url(#pa45)" mask="url(#mkc)"/><rect x="415" width="18" height="480" fill="url(#pa45)"/><rect x="415" width="18" height="480" fill="url(#pa46)" mask="url(#mkc)"/><rect x="433" width="16" height="480" fill="url(#pa46)"/><rect x="433" width="16" height="480" fill="url(#pa47)" mask="url(#mkc)"/><rect x="449" width="20" height="480" fill="url(#pa47)"/><rect x="449" width="20" height="480" fill="url(#pa48)" mask="url(#mkc)"/><rect x="469" width="27" height="480" fill="url(#pa48)"/><rect x="469" width="27" height="480" fill="url(#pa49)" mask="url(#mkc)"/><rect x="496" width="40" height="480" fill="url(#pa49)"/><rect x="496" width="40" height="480" fill="url(#pa50)" mask="url(#mkc)"/><rect x="536" width="40" height="480" fill="url(#pa50)"/><rect x="536" width="40" height="480" fill="url(#pa51)" mask="url(#mkc)"/><rect x="576" width="40" height="480" fill="url(#pa51)"/><rect x="576" width="40" height="480" fill="url(#pa52)" mask="url(#mkc)"/><rect x="616" width="40" height="480" fill="url(#pa52)"/><rect x="616" width="40" height="480" fill="url(#pa53)" mask="url(#mkc)"/><rect x="656" width="40" height="480" fill="url(#pa53)"/><rect x="656" width="40" height="480" fill="url(#pa54)" mask="url(#mkc)"/><rect x="696" width="40" height="480" fill="url(#pa54)"/><rect x="696" width="40" height="480" fill="url(#pa55)" mask="url(#mkc)"/><rect x="736" width="8" height="480" fill="url(#pa55)"/><rect x="736" width="8" height="480" fill="url(#pa56)" mask="url(#mkc)"/></g><g clip-path="url(#cpG)"><g transform="translate(0 370)" class="h374"><rect x="0" width="40" height="374" fill="url(#pb0)"/><rect x="0" width="40" height="374" fill="url(#pb1)" mask="url(#mkc)"/><rect x="40" width="40" height="374" fill="url(#pb1)"/><rect x="40" width="40" height="374" fill="url(#pb2)" mask="url(#mkc)"/><rect x="80" width="40" height="374" fill="url(#pb2)"/><rect x="80" width="40" height="374" fill="url(#pb3)" mask="url(#mkc)"/><rect x="120" width="40" height="374" fill="url(#pb3)"/><rect x="120" width="40" height="374" fill="url(#pb4)" mask="url(#mkc)"/><rect x="160" width="40" height="374" fill="url(#pb4)"/><rect x="160" width="40" height="374" fill="url(#pb5)" mask="url(#mkc)"/><rect x="200" width="40" height="374" fill="url(#pb5)"/><rect x="200" width="40" height="374" fill="url(#pb6)" mask="url(#mkc)"/><rect x="240" width="40" height="374" fill="url(#pb6)"/><rect x="240" width="40" height="374" fill="url(#pb7)" mask="url(#mkc)"/><rect x="280" width="40" height="374" fill="url(#pb7)"/><rect x="280" width="40" height="374" fill="url(#pb8)" mask="url(#mkc)"/><rect x="320" width="40" height="374" fill="url(#pb8)"/><rect x="320" width="40" height="374" fill="url(#pb9)" mask="url(#mkc)"/><rect x="360" width="40" height="374" fill="url(#pb9)"/><rect x="360" width="40" height="374" fill="url(#pb10)" mask="url(#mkc)"/><rect x="400" width="40" height="374" fill="url(#pb10)"/><rect x="400" width="40" height="374" fill="url(#pb11)" mask="url(#mkc)"/><rect x="440" width="39" height="374" fill="url(#pb11)"/><rect x="440" width="39" height="374" fill="url(#pb12)" mask="url(#mkc)"/><rect x="479" width="2" height="374" fill="url(#pb12)"/><rect x="479" width="2" height="374" fill="url(#pb13)" mask="url(#mkc)"/><rect x="481" width="2" height="374" fill="url(#pb13)"/><rect x="481" width="2" height="374" fill="url(#pb14)" mask="url(#mkc)"/><rect x="483" width="2" height="374" fill="url(#pb14)"/><rect x="483" width="2" height="374" fill="url(#pb15)" mask="url(#mkc)"/><rect x="485" width="3" height="374" fill="url(#pb15)"/><rect x="485" width="3" height="374" fill="url(#pb16)" mask="url(#mkc)"/><rect x="488" width="4" height="374" fill="url(#pb16)"/><rect x="488" width="4" height="374" fill="url(#pb17)" mask="url(#mkc)"/><rect x="492" width="3" height="374" fill="url(#pb17)"/><rect x="492" width="3" height="374" fill="url(#pb18)" mask="url(#mkc)"/><rect x="495" width="3" height="374" fill="url(#pb18)"/><rect x="495" width="3" height="374" fill="url(#pb19)" mask="url(#mkc)"/><rect x="498" width="2" height="374" fill="url(#pb19)"/><rect x="498" width="2" height="374" fill="url(#pb20)" mask="url(#mkc)"/><rect x="500" width="2" height="374" fill="url(#pb20)"/><rect x="500" width="2" height="374" fill="url(#pb21)" mask="url(#mkc)"/><rect x="502" width="4" height="374" fill="url(#pb21)"/><rect x="502" width="4" height="374" fill="url(#pb22)" mask="url(#mkc)"/><rect x="506" width="7" height="374" fill="url(#pb22)"/><rect x="506" width="7" height="374" fill="url(#pb23)" mask="url(#mkc)"/><rect x="513" width="13" height="374" fill="url(#pb23)"/><rect x="513" width="13" height="374" fill="url(#pb24)" mask="url(#mkc)"/><rect x="526" width="29" height="374" fill="url(#pb24)"/><rect x="526" width="29" height="374" fill="url(#pb25)" mask="url(#mkc)"/><rect x="555" width="34" height="374" fill="url(#pb25)"/><rect x="555" width="34" height="374" fill="url(#pb26)" mask="url(#mkc)"/><rect x="589" width="40" height="374" fill="url(#pb26)"/><rect x="589" width="40" height="374" fill="url(#pb27)" mask="url(#mkc)"/><rect x="629" width="39" height="374" fill="url(#pb27)"/><rect x="629" width="39" height="374" fill="url(#pb28)" mask="url(#mkc)"/><rect x="668" width="40" height="374" fill="url(#pb28)"/><rect x="668" width="40" height="374" fill="url(#pb29)" mask="url(#mkc)"/><rect x="708" width="36" height="374" fill="url(#pb29)"/><rect x="708" width="36" height="374" fill="url(#pb30)" mask="url(#mkc)"/></g></g><g clip-path="url(#cpB)"><g transform="translate(0 665)" class="w744"><rect y="0" width="744" height="19" fill="url(#pc0)"/><rect y="0" width="744" height="19" fill="url(#pc1)" mask="url(#mkr)"/><rect y="19" width="744" height="24" fill="url(#pc1)"/><rect y="19" width="744" height="24" fill="url(#pc2)" mask="url(#mkr)"/><rect y="43" width="744" height="30" fill="url(#pc2)"/><rect y="43" width="744" height="30" fill="url(#pc3)" mask="url(#mkr)"/><rect y="73" width="744" height="6" fill="url(#pc3)"/><rect y="73" width="744" height="6" fill="url(#pc4)" mask="url(#mkr)"/></g></g></g></g><rect x="1014.3" y="1093.6" width="21.4" height="748.6" fill="url(#jet)"/><rect x="1014.3" y="1093.6" width="21.4" height="748.6" fill="none" stroke="#444" stroke-opacity=".55" stroke-width="1.2"/>
<rect x="2236.0" y="1098.7" width="21.2" height="743.0" fill="url(#jet)"/><rect x="2236.0" y="1098.7" width="21.2" height="743.0" fill="none" stroke="#444" stroke-opacity=".55" stroke-width="1.2"/>
<rect x="1032.5" y="2140.2" width="20.0" height="784.0" fill="url(#jet)"/><rect x="1032.5" y="2140.2" width="20.0" height="784.0" fill="none" stroke="#444" stroke-opacity=".55" stroke-width="1.2"/>
<rect x="2257.7" y="2140.3" width="20.7" height="783.9" fill="url(#jet)"/><rect x="2257.7" y="2140.3" width="20.7" height="783.9" fill="none" stroke="#444" stroke-opacity=".55" stroke-width="1.2"/><ellipse cx="506.4" cy="284.5" rx="72" ry="174" fill="#5fc4b8" transform="rotate(-15 506.4 284.5)"/>
<ellipse cx="767.2" cy="284.4" rx="72" ry="174" fill="#61b3c4" transform="rotate(15 767.2 284.4)"/>
<ellipse cx="506.6" cy="754.2" rx="72" ry="174" fill="#61b3c4" transform="rotate(15 506.6 754.2)"/>
<ellipse cx="767.2" cy="754.2" rx="72" ry="174" fill="#5fc4b8" transform="rotate(-15 767.2 754.2)"/>
<line x1="552.5" y1="451.8" x2="468.5" y2="142.8" stroke="#ff0000" stroke-width="2.40"/><polygon points="462.5,120.6 476.3,142.8 461.8,146.7" fill="#ff0000"/>
<line x1="814.0" y1="118.5" x2="730.8" y2="429.0" stroke="#ff0000" stroke-width="2.40"/><polygon points="724.8,451.2 724.0,425.1 738.5,429.0" fill="#ff0000"/>
<line x1="544.4" y1="586.6" x2="461.2" y2="896.2" stroke="#ff0000" stroke-width="2.40"/><polygon points="455.2,918.4 454.4,892.3 468.9,896.2" fill="#ff0000"/>
<line x1="814.0" y1="919.8" x2="730.5" y2="610.8" stroke="#ff0000" stroke-width="2.40"/><polygon points="724.5,588.6 738.3,610.8 723.8,614.7" fill="#ff0000"/>
<line x1="444.2" y1="308.0" x2="557.1" y2="278.1" stroke="#0000ff" stroke-width="3.00"/><polygon points="579.3,272.2 557.1,285.9 553.2,271.4" fill="#0000ff"/>
<line x1="832.9" y1="307.4" x2="719.2" y2="278.0" stroke="#0000ff" stroke-width="3.00"/><polygon points="696.9,272.2 723.0,271.2 719.2,285.7" fill="#0000ff"/>
<line x1="580.7" y1="766.4" x2="467.9" y2="737.3" stroke="#0000ff" stroke-width="3.00"/><polygon points="445.6,731.6 471.7,730.6 467.9,745.1" fill="#0000ff"/>
<line x1="696.9" y1="776.0" x2="809.8" y2="746.2" stroke="#0000ff" stroke-width="3.00"/><polygon points="832.0,740.3 809.7,753.9 805.9,739.4" fill="#0000ff"/>
<circle cx="273.8" cy="514.9" r="26.5" fill="none" stroke="#111" stroke-width="2.6"/>
<path d="M255.1 496.2L292.5 533.6M255.1 533.6L292.5 496.2" stroke="#111" stroke-width="2.4"/>
<line x1="300.3" y1="514.9" x2="394.8" y2="514.9" stroke="#111" stroke-width="2.60"/><polygon points="407.8,514.9 392.8,524.1 392.8,505.6" fill="#111"/>
<line x1="273.8" y1="541.4" x2="273.8" y2="671.7" stroke="#111" stroke-width="2.60"/><polygon points="273.8,685.7 263.8,669.7 283.8,669.7" fill="#111"/>
<text x="460.3" y="102.3" font-size="71.5" fill="#ff0000">P</text>
<text x="584" y="261.5" font-size="83" fill="#0000ff">M</text>
<text x="257" y="459.8" font-size="89" letter-spacing="0" fill="#000" textLength="47" lengthAdjust="spacingAndGlyphs">z</text>
<text x="413" y="540.5" font-size="89" fill="#000">x</text>
<text x="262" y="749" font-size="89" fill="#000">y</text><polyline fill="none" stroke="#000" stroke-width="2" points="1621.9,441.8 1638.6,585.8 1657.5,637.1 1674.9,659.8 1696.9,675.5 1716.0,683.1 1733.5,688.7 1768.3,694.6 1810.3,697.4 1885.8,700.8 1954.1,701.7 1999.3,702.3 2037.1,702.6 2075.5,702.8 2113.9,702.9 2151.8,702.9 2188.5,702.9 2226.4,702.9"/>
<rect x="1615.6" y="435.5" width="12.6" height="12.6" fill="#000"/>
<rect x="1632.3" y="579.5" width="12.6" height="12.6" fill="#000"/>
<rect x="1651.2" y="630.8" width="12.6" height="12.6" fill="#000"/>
<rect x="1668.6" y="653.5" width="12.6" height="12.6" fill="#000"/>
<rect x="1690.6" y="669.2" width="12.6" height="12.6" fill="#000"/>
<rect x="1709.7" y="676.8" width="12.6" height="12.6" fill="#000"/>
<rect x="1727.2" y="682.4" width="12.6" height="12.6" fill="#000"/>
<rect x="1762.0" y="688.3" width="12.6" height="12.6" fill="#000"/>
<rect x="1804.0" y="691.1" width="12.6" height="12.6" fill="#000"/>
<rect x="1879.5" y="694.5" width="12.6" height="12.6" fill="#000"/>
<rect x="1947.8" y="695.4" width="12.6" height="12.6" fill="#000"/>
<rect x="1993.0" y="696.0" width="12.6" height="12.6" fill="#000"/>
<rect x="2030.8" y="696.3" width="12.6" height="12.6" fill="#000"/>
<rect x="2069.2" y="696.5" width="12.6" height="12.6" fill="#000"/>
<rect x="2107.6" y="696.6" width="12.6" height="12.6" fill="#000"/>
<rect x="2145.5" y="696.6" width="12.6" height="12.6" fill="#000"/>
<rect x="2182.2" y="696.6" width="12.6" height="12.6" fill="#000"/>
<rect x="2220.1" y="696.6" width="12.6" height="12.6" fill="#000"/>
<polyline fill="none" stroke="#ff0000" stroke-width="2" points="1621.9,266.7 1638.6,505.3 1657.5,591.1 1674.9,629.4 1696.9,655.2 1716.0,667.8 1733.5,676.5 1768.3,685.9 1810.3,693.0 1885.8,697.9 1954.1,700.0 1999.3,701.7 2037.1,702.3 2075.5,702.5 2113.9,702.6 2151.8,702.6 2188.5,702.6 2226.4,702.6"/>
<circle cx="1621.9" cy="266.7" r="6.8" fill="#ff0000"/>
<circle cx="1638.6" cy="505.3" r="6.8" fill="#ff0000"/>
<circle cx="1657.5" cy="591.1" r="6.8" fill="#ff0000"/>
<circle cx="1674.9" cy="629.4" r="6.8" fill="#ff0000"/>
<circle cx="1696.9" cy="655.2" r="6.8" fill="#ff0000"/>
<circle cx="1716.0" cy="667.8" r="6.8" fill="#ff0000"/>
<circle cx="1733.5" cy="676.5" r="6.8" fill="#ff0000"/>
<circle cx="1768.3" cy="685.9" r="6.8" fill="#ff0000"/>
<circle cx="1810.3" cy="693.0" r="6.8" fill="#ff0000"/>
<circle cx="1885.8" cy="697.9" r="6.8" fill="#ff0000"/>
<circle cx="1954.1" cy="700.0" r="6.8" fill="#ff0000"/>
<circle cx="1999.3" cy="701.7" r="6.8" fill="#ff0000"/>
<circle cx="2037.1" cy="702.3" r="6.8" fill="#ff0000"/>
<circle cx="2075.5" cy="702.5" r="6.8" fill="#ff0000"/>
<circle cx="2113.9" cy="702.6" r="6.8" fill="#ff0000"/>
<circle cx="2151.8" cy="702.6" r="6.8" fill="#ff0000"/>
<circle cx="2188.5" cy="702.6" r="6.8" fill="#ff0000"/>
<circle cx="2226.4" cy="702.6" r="6.8" fill="#ff0000"/>
<rect x="1545.0" y="191.2" width="758.7" height="559.8" fill="none" stroke="#333" stroke-width="3"/>
<text x="1532" y="722.0" font-size="49.5" text-anchor="end" fill="#000">0</text>
<text x="1532" y="628.7" font-size="49.5" text-anchor="end" fill="#000">5,000</text>
<text x="1532" y="535.5" font-size="49.5" text-anchor="end" fill="#000">10,000</text>
<text x="1532" y="442.2" font-size="49.5" text-anchor="end" fill="#000">15,000</text>
<text x="1532" y="349.0" font-size="49.5" text-anchor="end" fill="#000">20,000</text>
<text x="1532" y="255.7" font-size="49.5" text-anchor="end" fill="#000">25,000</text>
<path d="M1545.0 704.4h13M1545.0 611.1h13M1545.0 517.9h13M1545.0 424.6h13M1545.0 331.4h13M1545.0 238.1h13M1545.0 657.8h6.5M1545.0 564.5h6.5M1545.0 471.2h6.5M1545.0 378.0h6.5M1545.0 284.7h6.5M1622.0 751.0v-8.5M1697.5 751.0v-8.5M1773.1 751.0v-8.5M1848.7 751.0v-8.5M1924.2 751.0v-8.5M1999.8 751.0v-8.5M2075.3 751.0v-8.5M2150.8 751.0v-8.5M2226.4 751.0v-8.5" stroke="#333" stroke-width="2.4" fill="none"/>
<text x="1582.8" y="801.4" font-size="48" text-anchor="middle" fill="#000">0</text>
<text x="1658.6" y="801.4" font-size="48" text-anchor="middle" fill="#000">2</text>
<text x="1734.4" y="801.4" font-size="48" text-anchor="middle" fill="#000">4</text>
<text x="1810.2" y="801.4" font-size="48" text-anchor="middle" fill="#000">6</text>
<text x="1886.0" y="801.4" font-size="48" text-anchor="middle" fill="#000">8</text>
<text x="1961.8" y="801.4" font-size="48" text-anchor="middle" fill="#000">10</text>
<text x="2037.6" y="801.4" font-size="48" text-anchor="middle" fill="#000">12</text>
<text x="2113.4" y="801.4" font-size="48" text-anchor="middle" fill="#000">14</text>
<text x="2189.2" y="801.4" font-size="48" text-anchor="middle" fill="#000">16</text>
<text x="2265.0" y="801.4" font-size="48" text-anchor="middle" fill="#000">18</text>
<text transform="translate(1343.7 508) rotate(-90)" font-size="54" font-weight="bold" text-anchor="middle" fill="#000">Q</text>
<text x="1924.7" y="887" font-size="56" font-weight="bold" letter-spacing="1.2" text-anchor="middle" fill="#000">θ(°)</text>
<rect x="2003" y="223.5" width="270" height="101" fill="#fff" stroke="#aaa" stroke-width="1.6"/>
<path d="M2016.6 251.5H2109.8" stroke="#000" stroke-width="2"/><rect x="2056.9" y="245.2" width="12.6" height="12.6" fill="#000"/>
<path d="M2016.6 301.4H2109.8" stroke="#ff0000" stroke-width="2"/><circle cx="2063.2" cy="301.4" r="6.8" fill="#ff0000"/>
<text x="2118.5" y="264.6" font-size="41.1" fill="#000">E-QBIC</text>
<text x="2118.7" y="314.6" font-size="41.1" fill="#000">M-QBIC</text><text x="16.0" y="71.0" font-size="61.0" font-weight="bold" letter-spacing="0.0" fill="#000">(a)</text>
<text x="1237.0" y="68.5" font-size="62.0" font-weight="bold" letter-spacing="0.0" fill="#000">(b)</text>
<text x="11.0" y="1060.5" font-size="58.0" font-weight="bold" letter-spacing="2.2" fill="#000">(c)</text>
<text x="1239.0" y="1060.5" font-size="58.0" font-weight="bold" letter-spacing="1.8" fill="#000">(d)</text>
<text x="9.5" y="2082.5" font-size="51.5" font-weight="bold" letter-spacing="5.2" fill="#000">(e)</text>
<text x="1237.5" y="2080.5" font-size="59.5" font-weight="bold" letter-spacing="1.2" fill="#000">(f)</text>
<text x="246.0" y="1202.8" font-size="47.5" letter-spacing="1" text-anchor="end" fill="#404040">1.7</text>
<text x="246.0" y="1372.3" font-size="47.5" letter-spacing="1" text-anchor="end" fill="#404040">1.6</text>
<text x="246.0" y="1541.5" font-size="47.5" letter-spacing="1" text-anchor="end" fill="#404040">1.5</text>
<text x="246.0" y="1710.8" font-size="47.5" letter-spacing="1" text-anchor="end" fill="#404040">1.4</text>
<text x="257.9" y="1904.6" font-size="47.5" letter-spacing="1" text-anchor="middle" fill="#404040">0</text>
<text x="423.2" y="1904.6" font-size="47.5" letter-spacing="1" text-anchor="middle" fill="#404040">10</text>
<text x="588.5" y="1904.6" font-size="47.5" letter-spacing="1" text-anchor="middle" fill="#404040">20</text>
<text x="753.8" y="1904.6" font-size="47.5" letter-spacing="1" text-anchor="middle" fill="#404040">30</text>
<text x="919.1" y="1904.6" font-size="47.5" letter-spacing="1" text-anchor="middle" fill="#404040">40</text>
<text x="630.4" y="1975.3" font-size="56" font-weight="bold" letter-spacing="1.2" text-anchor="middle" fill="#404040">θ(°)</text>
<text transform="translate(161.5 1472.4) rotate(-90)" font-size="57" font-weight="bold" text-anchor="middle" fill="#404040">λ(μm)</text>
<text x="1469.7" y="1202.8" font-size="47.5" letter-spacing="1" text-anchor="end" fill="#404040">1.7</text>
<text x="1469.7" y="1372.3" font-size="47.5" letter-spacing="1" text-anchor="end" fill="#404040">1.6</text>
<text x="1469.7" y="1541.5" font-size="47.5" letter-spacing="1" text-anchor="end" fill="#404040">1.5</text>
<text x="1469.7" y="1710.8" font-size="47.5" letter-spacing="1" text-anchor="end" fill="#404040">1.4</text>
<text x="1480.2" y="1904.6" font-size="47.5" letter-spacing="1" text-anchor="middle" fill="#404040">0</text>
<text x="1645.7" y="1904.6" font-size="47.5" letter-spacing="1" text-anchor="middle" fill="#404040">10</text>
<text x="1811.2" y="1904.6" font-size="47.5" letter-spacing="1" text-anchor="middle" fill="#404040">20</text>
<text x="1976.7" y="1904.6" font-size="47.5" letter-spacing="1" text-anchor="middle" fill="#404040">30</text>
<text x="2142.2" y="1904.6" font-size="47.5" letter-spacing="1" text-anchor="middle" fill="#404040">40</text>
<text x="1853.4" y="1975.3" font-size="56" font-weight="bold" letter-spacing="1.2" text-anchor="middle" fill="#404040">θ(°)</text>
<text transform="translate(1384.3 1472.4) rotate(-90)" font-size="57" font-weight="bold" text-anchor="middle" fill="#404040">λ(μm)</text>
<text x="630.8" y="1074" font-size="55.5" font-weight="bold" text-anchor="middle" fill="#000">T</text>
<text x="1853.4" y="1074.5" font-size="57" font-weight="bold" text-anchor="middle" fill="#000">phase</text>
<text y="2117.3" font-size="57.5" font-weight="bold" text-anchor="middle" fill="#000"><tspan x="580.6" y="2110.5" font-size="54" font-weight="normal">|</tspan><tspan x="629.5" y="2117.3">E</tspan><tspan x="678.4" y="2110.5" font-size="54" font-weight="normal">|</tspan></text>
<text y="2117.3" font-size="57.5" font-weight="bold" text-anchor="middle" fill="#000"><tspan x="1805.7" y="2110.5" font-size="54" font-weight="normal">|</tspan><tspan x="1855.6" y="2117.3">H</tspan><tspan x="1905.5" y="2110.5" font-size="54" font-weight="normal">|</tspan></text>
<text x="1046.3" y="1860.5" font-size="46" fill="#404040">0</text>
<text x="1063.8" y="2943.0" font-size="46" fill="#404040">0</text>
<text x="2289" y="2943.0" font-size="46" fill="#404040">0</text>
<text x="1046.3" y="1710.7" font-size="46" fill="#404040">0.2</text>
<text x="1063.8" y="2786.5" font-size="46" fill="#404040">0.2</text>
<text x="2289" y="2786.5" font-size="46" fill="#404040">0.2</text>
<text x="1046.3" y="1560.9" font-size="46" fill="#404040">0.4</text>
<text x="1063.8" y="2630.0" font-size="46" fill="#404040">0.4</text>
<text x="2289" y="2630.0" font-size="46" fill="#404040">0.4</text>
<text x="1046.3" y="1411.1" font-size="46" fill="#404040">0.6</text>
<text x="1063.8" y="2473.5" font-size="46" fill="#404040">0.6</text>
<text x="2289" y="2473.5" font-size="46" fill="#404040">0.6</text>
<text x="1046.3" y="1261.3" font-size="46" fill="#404040">0.8</text>
<text x="1063.8" y="2317.0" font-size="46" fill="#404040">0.8</text>
<text x="2289" y="2317.0" font-size="46" fill="#404040">0.8</text>
<text x="1046.3" y="1111.5" font-size="46" fill="#404040">1</text>
<text x="1063.8" y="2160.5" font-size="46" fill="#404040">1</text>
<text x="2289" y="2160.5" font-size="46" fill="#404040">1</text>
<text x="2267.5" y="1845.2" font-size="46" fill="#404040">-3</text>
<text x="2267.5" y="1726.5" font-size="46" fill="#404040">-2</text>
<text x="2267.5" y="1607.8" font-size="46" fill="#404040">-1</text>
<text x="2267.5" y="1489.1" font-size="46" fill="#404040">0</text>
<text x="2267.5" y="1370.4" font-size="46" fill="#404040">1</text>
<text x="2267.5" y="1251.7" font-size="46" fill="#404040">2</text>
<text x="2267.5" y="1133.0" font-size="46" fill="#404040">3</text>
<path d="M1035.7 1694.2h-7M1052.5 2767.5h-7M2278.4 2767.5h-7M1035.7 1544.4h-7M1052.5 2611.0h-7M2278.4 2611.0h-7M1035.7 1394.6h-7M1052.5 2454.5h-7M2278.4 2454.5h-7M1035.7 1244.8h-7M1052.5 2298.0h-7M2278.4 2298.0h-7M2257.2 1828.7h-7M2257.2 1710.0h-7M2257.2 1591.3h-7M2257.2 1472.6h-7M2257.2 1353.9h-7M2257.2 1235.2h-7M2257.2 1116.5h-7" stroke="#333" stroke-width="1.2" fill="none"/>
<text x="285.3" y="1300.5" font-size="45.5" fill="#111">M-QBIC</text>
<text x="287.5" y="1545" font-size="45.5" fill="#111">E-QBIC</text></svg></body></html>
